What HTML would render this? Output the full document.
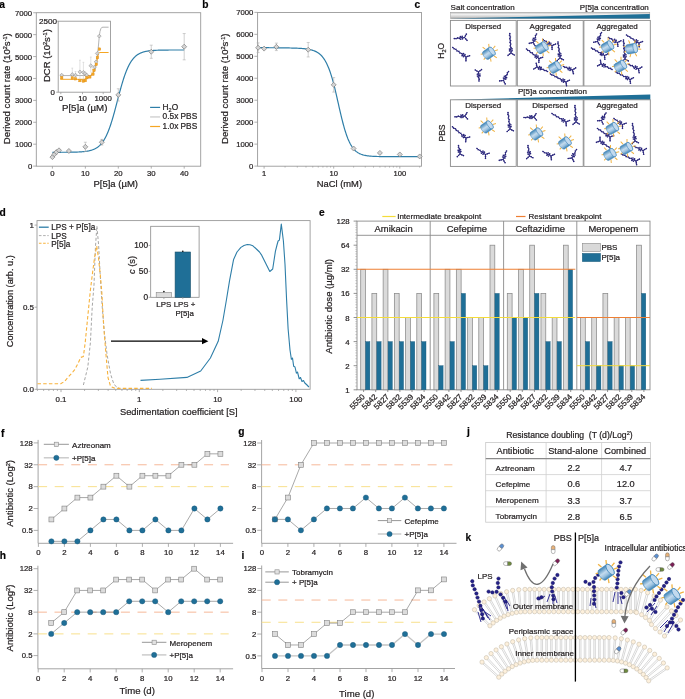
<!DOCTYPE html>
<html><head><meta charset="utf-8"><style>
html,body{margin:0;padding:0;background:#fff;}
svg{display:block;will-change:transform;}
text{font-family:"Liberation Sans",sans-serif;stroke:#231f20;stroke-width:0.22px;}
</style></head><body>
<svg width="685" height="699" viewBox="0 0 685 699">
<defs>
<linearGradient id="cg" x1="0" y1="0" x2="0" y2="1"><stop offset="0" stop-color="#3b82b6"/><stop offset="0.45" stop-color="#c4dbee"/><stop offset="0.7" stop-color="#9cc2e0"/><stop offset="1" stop-color="#3b82b6"/></linearGradient>
<linearGradient id="gg" x1="0" y1="0" x2="0" y2="1"><stop offset="0" stop-color="#b8b8b8"/><stop offset="0.3" stop-color="#f2f2f2"/><stop offset="0.7" stop-color="#d0d0d0"/><stop offset="1" stop-color="#a0a0a0"/></linearGradient>
</defs>
<rect width="685" height="699" fill="#fff"/>
<text x="-0.7" y="7.6" font-size="10.2" text-anchor="start" font-weight="bold" fill="#000" stroke="#000" stroke-width="0.15">a</text>
<rect x="36.3" y="12.7" width="164.4" height="153.5" fill="none" stroke="#9a9a9a" stroke-width="0.9"/>
<line x1="33.2" y1="166.1" x2="36.3" y2="166.1" stroke="#9a9a9a" stroke-width="0.8"/>
<text x="32.2" y="169.1" font-size="7.75" text-anchor="end" fill="#231f20">0</text>
<line x1="33.2" y1="144.19" x2="36.3" y2="144.19" stroke="#9a9a9a" stroke-width="0.8"/>
<text x="32.2" y="147.19" font-size="7.75" text-anchor="end" fill="#231f20">1000</text>
<line x1="33.2" y1="122.28" x2="36.3" y2="122.28" stroke="#9a9a9a" stroke-width="0.8"/>
<text x="32.2" y="125.28" font-size="7.75" text-anchor="end" fill="#231f20">2000</text>
<line x1="33.2" y1="100.37" x2="36.3" y2="100.37" stroke="#9a9a9a" stroke-width="0.8"/>
<text x="32.2" y="103.37" font-size="7.75" text-anchor="end" fill="#231f20">3000</text>
<line x1="33.2" y1="78.46" x2="36.3" y2="78.46" stroke="#9a9a9a" stroke-width="0.8"/>
<text x="32.2" y="81.46" font-size="7.75" text-anchor="end" fill="#231f20">4000</text>
<line x1="33.2" y1="56.55" x2="36.3" y2="56.55" stroke="#9a9a9a" stroke-width="0.8"/>
<text x="32.2" y="59.55" font-size="7.75" text-anchor="end" fill="#231f20">5000</text>
<line x1="33.2" y1="34.64" x2="36.3" y2="34.64" stroke="#9a9a9a" stroke-width="0.8"/>
<text x="32.2" y="37.64" font-size="7.75" text-anchor="end" fill="#231f20">6000</text>
<line x1="33.2" y1="12.73" x2="36.3" y2="12.73" stroke="#9a9a9a" stroke-width="0.8"/>
<text x="32.2" y="15.73" font-size="7.75" text-anchor="end" fill="#231f20">7000</text>
<line x1="52.4" y1="166.2" x2="52.4" y2="168.6" stroke="#9a9a9a" stroke-width="0.8"/>
<text x="52.4" y="176.3" font-size="7.75" text-anchor="middle" fill="#231f20">0</text>
<line x1="85.35" y1="166.2" x2="85.35" y2="168.6" stroke="#9a9a9a" stroke-width="0.8"/>
<text x="85.35" y="176.3" font-size="7.75" text-anchor="middle" fill="#231f20">10</text>
<line x1="118.3" y1="166.2" x2="118.3" y2="168.6" stroke="#9a9a9a" stroke-width="0.8"/>
<text x="118.3" y="176.3" font-size="7.75" text-anchor="middle" fill="#231f20">20</text>
<line x1="151.25" y1="166.2" x2="151.25" y2="168.6" stroke="#9a9a9a" stroke-width="0.8"/>
<text x="151.25" y="176.3" font-size="7.75" text-anchor="middle" fill="#231f20">30</text>
<line x1="184.2" y1="166.2" x2="184.2" y2="168.6" stroke="#9a9a9a" stroke-width="0.8"/>
<text x="184.2" y="176.3" font-size="7.75" text-anchor="middle" fill="#231f20">40</text>
<text x="115.7" y="187.2" font-size="9.5" text-anchor="middle" fill="#231f20">P[5]a (µM)</text>
<text x="10.2" y="88.7" font-size="9.6" text-anchor="middle" transform="rotate(-90 10.2 88.7)" fill="#231f20">Derived count rate (10<tspan font-size="5.5" dy="-3">2</tspan><tspan dy="3">s</tspan><tspan font-size="5.5" dy="-3">-1</tspan><tspan dy="3">)</tspan></text>
<polyline points="52.4,152.29 52.73,152.29 53.06,152.29 53.39,152.29 53.72,152.29 54.05,152.29 54.38,152.29 54.71,152.29 55.04,152.29 55.37,152.29 55.7,152.29 56.02,152.29 56.35,152.29 56.68,152.28 57.01,152.28 57.34,152.28 57.67,152.28 58,152.28 58.33,152.28 58.66,152.28 58.99,152.28 59.32,152.28 59.65,152.28 59.98,152.28 60.31,152.28 60.64,152.28 60.97,152.27 61.3,152.27 61.63,152.27 61.96,152.27 62.28,152.27 62.61,152.27 62.94,152.27 63.27,152.26 63.6,152.26 63.93,152.26 64.26,152.26 64.59,152.26 64.92,152.26 65.25,152.25 65.58,152.25 65.91,152.25 66.24,152.25 66.57,152.24 66.9,152.24 67.23,152.24 67.56,152.24 67.89,152.23 68.22,152.23 68.55,152.23 68.88,152.22 69.2,152.22 69.53,152.22 69.86,152.21 70.19,152.21 70.52,152.2 70.85,152.2 71.18,152.19 71.51,152.19 71.84,152.18 72.17,152.18 72.5,152.17 72.83,152.16 73.16,152.16 73.49,152.15 73.82,152.14 74.15,152.14 74.48,152.13 74.81,152.12 75.14,152.11 75.47,152.1 75.79,152.09 76.12,152.08 76.45,152.07 76.78,152.06 77.11,152.05 77.44,152.03 77.77,152.02 78.1,152.01 78.43,151.99 78.76,151.98 79.09,151.96 79.42,151.94 79.75,151.93 80.08,151.91 80.41,151.89 80.74,151.87 81.07,151.85 81.4,151.82 81.73,151.8 82.06,151.77 82.38,151.75 82.71,151.72 83.04,151.69 83.37,151.66 83.7,151.63 84.03,151.59 84.36,151.56 84.69,151.52 85.02,151.48 85.35,151.44 85.68,151.4 86.01,151.36 86.34,151.31 86.67,151.26 87,151.21 87.33,151.15 87.66,151.1 87.99,151.04 88.32,150.97 88.64,150.91 88.97,150.84 89.3,150.77 89.63,150.69 89.96,150.61 90.29,150.53 90.62,150.44 90.95,150.35 91.28,150.25 91.61,150.15 91.94,150.04 92.27,149.93 92.6,149.81 92.93,149.69 93.26,149.56 93.59,149.43 93.92,149.29 94.25,149.14 94.58,148.99 94.91,148.83 95.23,148.66 95.56,148.48 95.89,148.3 96.22,148.1 96.55,147.9 96.88,147.69 97.21,147.47 97.54,147.24 97.87,146.99 98.2,146.74 98.53,146.47 98.86,146.2 99.19,145.91 99.52,145.61 99.85,145.29 100.18,144.97 100.51,144.62 100.84,144.27 101.17,143.89 101.5,143.51 101.82,143.1 102.15,142.68 102.48,142.24 102.81,141.79 103.14,141.31 103.47,140.82 103.8,140.31 104.13,139.78 104.46,139.23 104.79,138.66 105.12,138.06 105.45,137.45 105.78,136.81 106.11,136.15 106.44,135.47 106.77,134.77 107.1,134.04 107.43,133.29 107.76,132.52 108.09,131.72 108.41,130.9 108.74,130.05 109.07,129.18 109.4,128.29 109.73,127.37 110.06,126.43 110.39,125.47 110.72,124.48 111.05,123.47 111.38,122.44 111.71,121.39 112.04,120.32 112.37,119.22 112.7,118.11 113.03,116.98 113.36,115.83 113.69,114.67 114.02,113.49 114.35,112.3 114.68,111.09 115,109.87 115.33,108.64 115.66,107.41 115.99,106.16 116.32,104.91 116.65,103.66 116.98,102.4 117.31,101.14 117.64,99.88 117.97,98.62 118.3,97.36 118.63,96.11 118.96,94.87 119.29,93.63 119.62,92.4 119.95,91.18 120.28,89.98 120.61,88.78 120.94,87.61 121.27,86.44 121.59,85.29 121.92,84.16 122.25,83.05 122.58,81.96 122.91,80.89 123.24,79.83 123.57,78.8 123.9,77.79 124.23,76.81 124.56,75.84 124.89,74.9 125.22,73.99 125.55,73.09 125.88,72.22 126.21,71.38 126.54,70.56 126.87,69.76 127.2,68.98 127.53,68.23 127.86,67.51 128.19,66.8 128.51,66.12 128.84,65.46 129.17,64.83 129.5,64.21 129.83,63.62 130.16,63.05 130.49,62.49 130.82,61.96 131.15,61.45 131.48,60.96 131.81,60.49 132.14,60.03 132.47,59.59 132.8,59.17 133.13,58.77 133.46,58.38 133.79,58.01 134.12,57.65 134.45,57.31 134.78,56.98 135.1,56.67 135.43,56.36 135.76,56.08 136.09,55.8 136.42,55.53 136.75,55.28 137.08,55.04 137.41,54.81 137.74,54.59 138.07,54.37 138.4,54.17 138.73,53.98 139.06,53.79 139.39,53.61 139.72,53.45 140.05,53.28 140.38,53.13 140.71,52.98 141.04,52.84 141.37,52.71 141.69,52.58 142.02,52.46 142.35,52.34 142.68,52.23 143.01,52.12 143.34,52.02 143.67,51.93 144,51.84 144.33,51.75 144.66,51.66 144.99,51.58 145.32,51.51 145.65,51.44 145.98,51.37 146.31,51.3 146.64,51.24 146.97,51.18 147.3,51.12 147.63,51.07 147.95,51.01 148.28,50.96 148.61,50.92 148.94,50.87 149.27,50.83 149.6,50.79 149.93,50.75 150.26,50.71 150.59,50.68 150.92,50.65 151.25,50.61 151.58,50.58 151.91,50.55 152.24,50.53 152.57,50.5 152.9,50.48 153.23,50.45 153.56,50.43 153.89,50.41 154.22,50.39 154.54,50.37 154.87,50.35 155.2,50.33 155.53,50.31 155.86,50.3 156.19,50.28 156.52,50.27 156.85,50.25 157.18,50.24 157.51,50.23 157.84,50.22 158.17,50.2 158.5,50.19 158.83,50.18 159.16,50.17 159.49,50.16 159.82,50.15 160.15,50.15 160.48,50.14 160.81,50.13 161.13,50.12 161.46,50.12 161.79,50.11 162.12,50.1 162.45,50.1 162.78,50.09 163.11,50.09 163.44,50.08 163.77,50.08 164.1,50.07 164.43,50.07 164.76,50.06 165.09,50.06 165.42,50.05 165.75,50.05 166.08,50.05 166.41,50.04 166.74,50.04 167.07,50.04 167.4,50.03 167.72,50.03 168.05,50.03 168.38,50.03 168.71,50.02 169.04,50.02 169.37,50.02 169.7,50.02 170.03,50.02 170.36,50.01 170.69,50.01 171.02,50.01 171.35,50.01 171.68,50.01 172.01,50.01 172.34,50 172.67,50 173,50 173.33,50 173.66,50 173.99,50 174.31,50 174.64,50 174.97,50 175.3,49.99 175.63,49.99 175.96,49.99 176.29,49.99 176.62,49.99 176.95,49.99 177.28,49.99 177.61,49.99 177.94,49.99 178.27,49.99 178.6,49.99 178.93,49.99 179.26,49.99 179.59,49.99 179.92,49.99 180.25,49.99 180.58,49.98 180.91,49.98 181.23,49.98 181.56,49.98 181.89,49.98 182.22,49.98 182.55,49.98 182.88,49.98 183.21,49.98 183.54,49.98 183.87,49.98 184.2,49.98" fill="none" stroke="#2e7ea8" stroke-width="1.2" stroke-linejoin="round"/>
<line x1="85.35" y1="151.42" x2="85.35" y2="142.22" stroke="#b0b0b0" stroke-width="0.6"/>
<line x1="83.85" y1="142.22" x2="86.85" y2="142.22" stroke="#b0b0b0" stroke-width="0.6"/>
<line x1="83.85" y1="151.42" x2="86.85" y2="151.42" stroke="#b0b0b0" stroke-width="0.6"/>
<line x1="101.82" y1="145.07" x2="101.82" y2="139.37" stroke="#b0b0b0" stroke-width="0.6"/>
<line x1="100.32" y1="139.37" x2="103.32" y2="139.37" stroke="#b0b0b0" stroke-width="0.6"/>
<line x1="100.32" y1="145.07" x2="103.32" y2="145.07" stroke="#b0b0b0" stroke-width="0.6"/>
<line x1="118.3" y1="101.03" x2="118.3" y2="88.76" stroke="#b0b0b0" stroke-width="0.6"/>
<line x1="116.8" y1="88.76" x2="119.8" y2="88.76" stroke="#b0b0b0" stroke-width="0.6"/>
<line x1="116.8" y1="101.03" x2="119.8" y2="101.03" stroke="#b0b0b0" stroke-width="0.6"/>
<line x1="151.25" y1="58.3" x2="151.25" y2="45.16" stroke="#b0b0b0" stroke-width="0.6"/>
<line x1="149.75" y1="45.16" x2="152.75" y2="45.16" stroke="#b0b0b0" stroke-width="0.6"/>
<line x1="149.75" y1="58.3" x2="152.75" y2="58.3" stroke="#b0b0b0" stroke-width="0.6"/>
<line x1="184.2" y1="59.84" x2="184.2" y2="33.54" stroke="#b0b0b0" stroke-width="0.6"/>
<line x1="182.7" y1="33.54" x2="185.7" y2="33.54" stroke="#b0b0b0" stroke-width="0.6"/>
<line x1="182.7" y1="59.84" x2="185.7" y2="59.84" stroke="#b0b0b0" stroke-width="0.6"/>
<path d="M52.4 154.62L54.9 157.12L52.4 159.62L49.9 157.12Z" fill="#d4d4d4" stroke="#6e6e6e" stroke-width="0.6"/>
<path d="M54.38 151.77L56.88 154.27L54.38 156.77L51.88 154.27Z" fill="#d4d4d4" stroke="#6e6e6e" stroke-width="0.6"/>
<path d="M56.35 149.58L58.85 152.08L56.35 154.58L53.85 152.08Z" fill="#d4d4d4" stroke="#6e6e6e" stroke-width="0.6"/>
<path d="M58.99 147.82L61.49 150.32L58.99 152.82L56.49 150.32Z" fill="#d4d4d4" stroke="#6e6e6e" stroke-width="0.6"/>
<path d="M68.88 148.48L71.38 150.98L68.88 153.48L66.38 150.98Z" fill="#d4d4d4" stroke="#6e6e6e" stroke-width="0.6"/>
<path d="M85.35 144.32L87.85 146.82L85.35 149.32L82.85 146.82Z" fill="#d4d4d4" stroke="#6e6e6e" stroke-width="0.6"/>
<path d="M101.82 139.72L104.32 142.22L101.82 144.72L99.32 142.22Z" fill="#d4d4d4" stroke="#6e6e6e" stroke-width="0.6"/>
<path d="M118.3 92.39L120.8 94.89L118.3 97.39L115.8 94.89Z" fill="#d4d4d4" stroke="#6e6e6e" stroke-width="0.6"/>
<path d="M151.25 49.23L153.75 51.73L151.25 54.23L148.75 51.73Z" fill="#d4d4d4" stroke="#6e6e6e" stroke-width="0.6"/>
<path d="M184.2 44.19L186.7 46.69L184.2 49.19L181.7 46.69Z" fill="#d4d4d4" stroke="#6e6e6e" stroke-width="0.6"/>
<line x1="150.1" y1="107.4" x2="160.1" y2="107.4" stroke="#2e7ea8" stroke-width="1.2"/>
<text x="162.6" y="109.9" font-size="8.3" text-anchor="start" fill="#231f20">H<tspan font-size="5.5" dy="2">2</tspan><tspan dy="-2">O</tspan></text>
<line x1="150.1" y1="116.95" x2="160.1" y2="116.95" stroke="#c8c8c8" stroke-width="1.2"/>
<text x="162.6" y="119.45" font-size="8.3" text-anchor="start" fill="#231f20">0.5x PBS</text>
<line x1="150.1" y1="126.5" x2="160.1" y2="126.5" stroke="#f5a623" stroke-width="1.2"/>
<text x="162.6" y="129" font-size="8.3" text-anchor="start" fill="#231f20">1.0x PBS</text>
<rect x="58.2" y="21.2" width="52.3" height="71" fill="#fff" stroke="#9a9a9a" stroke-width="0.9"/>
<line x1="57.2" y1="21.2" x2="58.2" y2="21.2" stroke="#9a9a9a" stroke-width="0.8"/>
<line x1="56.2" y1="92.2" x2="58.2" y2="92.2" stroke="#9a9a9a" stroke-width="0.8"/>
<text x="57" y="24.3" font-size="8.1" text-anchor="end" fill="#231f20">2500</text>
<text x="55" y="95.2" font-size="7.9" text-anchor="end" fill="#231f20">0</text>
<line x1="60.8" y1="92.2" x2="60.8" y2="94.2" stroke="#9a9a9a" stroke-width="0.8"/>
<text x="60.8" y="100.5" font-size="7.8" text-anchor="middle" fill="#231f20">0</text>
<line x1="82.5" y1="92.2" x2="82.5" y2="94.2" stroke="#9a9a9a" stroke-width="0.8"/>
<text x="82.5" y="100.5" font-size="7.8" text-anchor="middle" fill="#231f20">10</text>
<line x1="103.2" y1="92.2" x2="103.2" y2="94.2" stroke="#9a9a9a" stroke-width="0.8"/>
<text x="103.2" y="100.5" font-size="7.8" text-anchor="middle" fill="#231f20">1000</text>
<text x="84.65" y="110.5" font-size="9.7" text-anchor="middle" fill="#231f20">P[5]a (µM)</text>
<text x="49.9" y="55.6" font-size="9.5" text-anchor="middle" transform="rotate(-90 49.9 55.6)" fill="#231f20">DCR (10<tspan font-size="5.5" dy="-3">2</tspan><tspan dy="3">s</tspan><tspan font-size="5.5" dy="-3">-1</tspan><tspan dy="3">)</tspan></text>
<polyline points="60.3,75.6 90,75.5 92.5,74.5 94.5,71 96.3,64 97.6,54 98.6,44 99.3,36.1 100,31.5 100.8,28.8 101.8,27.4 103,27.2 108.6,27.2" fill="none" stroke="#aaaaaa" stroke-width="0.9" stroke-linejoin="round"/>
<polyline points="60.3,79.3 84,79.3 87,78.6 90,76.6 92.5,73.8 94.5,69.5 96.3,64 97.6,57.5 98.6,53.5 99.4,52.5 108.6,52.5" fill="none" stroke="#f5a623" stroke-width="1" stroke-linejoin="round"/>
<line x1="72.3" y1="68.1" x2="72.3" y2="79.62" stroke="#c4c4c4" stroke-width="0.5"/>
<line x1="71.4" y1="68.1" x2="73.2" y2="68.1" stroke="#c4c4c4" stroke-width="0.5"/>
<line x1="75.5" y1="71.6" x2="75.5" y2="77.9" stroke="#c4c4c4" stroke-width="0.5"/>
<line x1="74.6" y1="71.6" x2="76.4" y2="71.6" stroke="#c4c4c4" stroke-width="0.5"/>
<line x1="79.9" y1="60.2" x2="79.9" y2="81.26" stroke="#c4c4c4" stroke-width="0.5"/>
<line x1="79" y1="60.2" x2="80.8" y2="60.2" stroke="#c4c4c4" stroke-width="0.5"/>
<line x1="83.4" y1="62.3" x2="83.4" y2="80.48" stroke="#c4c4c4" stroke-width="0.5"/>
<line x1="82.5" y1="62.3" x2="84.3" y2="62.3" stroke="#c4c4c4" stroke-width="0.5"/>
<line x1="90.8" y1="57" x2="90.8" y2="72.66" stroke="#c4c4c4" stroke-width="0.5"/>
<line x1="89.9" y1="57" x2="91.7" y2="57" stroke="#c4c4c4" stroke-width="0.5"/>
<path d="M61.7 73.2L63.6 75.1L61.7 77L59.8 75.1Z" fill="#d6d6d6" stroke="#7a7a7a" stroke-width="0.45"/>
<path d="M72.3 72.6L74.2 74.5L72.3 76.4L70.4 74.5Z" fill="#d6d6d6" stroke="#7a7a7a" stroke-width="0.45"/>
<path d="M75.5 73.2L77.4 75.1L75.5 77L73.6 75.1Z" fill="#d6d6d6" stroke="#7a7a7a" stroke-width="0.45"/>
<path d="M79.9 70L81.8 71.9L79.9 73.8L78 71.9Z" fill="#d6d6d6" stroke="#7a7a7a" stroke-width="0.45"/>
<path d="M83.4 70.5L85.3 72.4L83.4 74.3L81.5 72.4Z" fill="#d6d6d6" stroke="#7a7a7a" stroke-width="0.45"/>
<path d="M85 71.6L86.9 73.5L85 75.4L83.1 73.5Z" fill="#d6d6d6" stroke="#7a7a7a" stroke-width="0.45"/>
<path d="M86.6 73.2L88.5 75.1L86.6 77L84.7 75.1Z" fill="#d6d6d6" stroke="#7a7a7a" stroke-width="0.45"/>
<path d="M90.8 63.8L92.7 65.7L90.8 67.6L88.9 65.7Z" fill="#d6d6d6" stroke="#7a7a7a" stroke-width="0.45"/>
<path d="M94.5 65.2L96.4 67.1L94.5 69L92.6 67.1Z" fill="#d6d6d6" stroke="#7a7a7a" stroke-width="0.45"/>
<path d="M96.1 59.9L98 61.8L96.1 63.7L94.2 61.8Z" fill="#d6d6d6" stroke="#7a7a7a" stroke-width="0.45"/>
<path d="M97.2 51.5L99.1 53.4L97.2 55.3L95.3 53.4Z" fill="#d6d6d6" stroke="#7a7a7a" stroke-width="0.45"/>
<path d="M99.3 34.2L101.2 36.1L99.3 38L97.4 36.1Z" fill="#d6d6d6" stroke="#7a7a7a" stroke-width="0.45"/>
<rect x="60.45" y="76.45" width="2.5" height="2.5" fill="#f5a623" stroke="#d98c1a" stroke-width="0.35"/>
<rect x="71.05" y="76.75" width="2.5" height="2.5" fill="#f5a623" stroke="#d98c1a" stroke-width="0.35"/>
<rect x="74.25" y="77.55" width="2.5" height="2.5" fill="#f5a623" stroke="#d98c1a" stroke-width="0.35"/>
<rect x="78.65" y="79.35" width="2.5" height="2.5" fill="#f5a623" stroke="#d98c1a" stroke-width="0.35"/>
<rect x="82.15" y="79.85" width="2.5" height="2.5" fill="#f5a623" stroke="#d98c1a" stroke-width="0.35"/>
<rect x="84.05" y="79.35" width="2.5" height="2.5" fill="#f5a623" stroke="#d98c1a" stroke-width="0.35"/>
<rect x="85.55" y="76.45" width="2.5" height="2.5" fill="#f5a623" stroke="#d98c1a" stroke-width="0.35"/>
<rect x="88.55" y="75.65" width="2.5" height="2.5" fill="#f5a623" stroke="#d98c1a" stroke-width="0.35"/>
<rect x="91.65" y="72.95" width="2.5" height="2.5" fill="#f5a623" stroke="#d98c1a" stroke-width="0.35"/>
<rect x="92.75" y="69.05" width="2.5" height="2.5" fill="#f5a623" stroke="#d98c1a" stroke-width="0.35"/>
<rect x="95.05" y="63.05" width="2.5" height="2.5" fill="#f5a623" stroke="#d98c1a" stroke-width="0.35"/>
<rect x="96.15" y="56.35" width="2.5" height="2.5" fill="#f5a623" stroke="#d98c1a" stroke-width="0.35"/>
<rect x="98.25" y="47.85" width="2.5" height="2.5" fill="#f5a623" stroke="#d98c1a" stroke-width="0.35"/>
<text x="202.2" y="7.6" font-size="10.2" text-anchor="start" font-weight="bold" fill="#000" stroke="#000" stroke-width="0.15">b</text>
<rect x="257.6" y="12.5" width="163.9" height="153.7" fill="none" stroke="#9a9a9a" stroke-width="0.9"/>
<line x1="254.4" y1="166.1" x2="257.6" y2="166.1" stroke="#9a9a9a" stroke-width="0.8"/>
<text x="253.4" y="169.1" font-size="7.75" text-anchor="end" fill="#231f20">0</text>
<line x1="254.4" y1="144.14" x2="257.6" y2="144.14" stroke="#9a9a9a" stroke-width="0.8"/>
<text x="253.4" y="147.14" font-size="7.75" text-anchor="end" fill="#231f20">1000</text>
<line x1="254.4" y1="122.18" x2="257.6" y2="122.18" stroke="#9a9a9a" stroke-width="0.8"/>
<text x="253.4" y="125.18" font-size="7.75" text-anchor="end" fill="#231f20">2000</text>
<line x1="254.4" y1="100.22" x2="257.6" y2="100.22" stroke="#9a9a9a" stroke-width="0.8"/>
<text x="253.4" y="103.22" font-size="7.75" text-anchor="end" fill="#231f20">3000</text>
<line x1="254.4" y1="78.26" x2="257.6" y2="78.26" stroke="#9a9a9a" stroke-width="0.8"/>
<text x="253.4" y="81.26" font-size="7.75" text-anchor="end" fill="#231f20">4000</text>
<line x1="254.4" y1="56.3" x2="257.6" y2="56.3" stroke="#9a9a9a" stroke-width="0.8"/>
<text x="253.4" y="59.3" font-size="7.75" text-anchor="end" fill="#231f20">5000</text>
<line x1="254.4" y1="34.34" x2="257.6" y2="34.34" stroke="#9a9a9a" stroke-width="0.8"/>
<text x="253.4" y="37.34" font-size="7.75" text-anchor="end" fill="#231f20">6000</text>
<line x1="254.4" y1="12.38" x2="257.6" y2="12.38" stroke="#9a9a9a" stroke-width="0.8"/>
<text x="253.4" y="15.38" font-size="7.75" text-anchor="end" fill="#231f20">7000</text>
<line x1="264.1" y1="166.2" x2="264.1" y2="168.6" stroke="#9a9a9a" stroke-width="0.8"/>
<line x1="285.05" y1="166.2" x2="285.05" y2="167.5" stroke="#9a9a9a" stroke-width="0.8"/>
<line x1="297.31" y1="166.2" x2="297.31" y2="167.5" stroke="#9a9a9a" stroke-width="0.8"/>
<line x1="306" y1="166.2" x2="306" y2="167.5" stroke="#9a9a9a" stroke-width="0.8"/>
<line x1="312.75" y1="166.2" x2="312.75" y2="167.5" stroke="#9a9a9a" stroke-width="0.8"/>
<line x1="318.26" y1="166.2" x2="318.26" y2="167.5" stroke="#9a9a9a" stroke-width="0.8"/>
<line x1="322.92" y1="166.2" x2="322.92" y2="167.5" stroke="#9a9a9a" stroke-width="0.8"/>
<line x1="326.96" y1="166.2" x2="326.96" y2="167.5" stroke="#9a9a9a" stroke-width="0.8"/>
<line x1="330.52" y1="166.2" x2="330.52" y2="167.5" stroke="#9a9a9a" stroke-width="0.8"/>
<line x1="333.7" y1="166.2" x2="333.7" y2="168.6" stroke="#9a9a9a" stroke-width="0.8"/>
<line x1="353.6" y1="166.2" x2="353.6" y2="167.5" stroke="#9a9a9a" stroke-width="0.8"/>
<line x1="365.24" y1="166.2" x2="365.24" y2="167.5" stroke="#9a9a9a" stroke-width="0.8"/>
<line x1="373.5" y1="166.2" x2="373.5" y2="167.5" stroke="#9a9a9a" stroke-width="0.8"/>
<line x1="379.9" y1="166.2" x2="379.9" y2="167.5" stroke="#9a9a9a" stroke-width="0.8"/>
<line x1="385.14" y1="166.2" x2="385.14" y2="167.5" stroke="#9a9a9a" stroke-width="0.8"/>
<line x1="389.56" y1="166.2" x2="389.56" y2="167.5" stroke="#9a9a9a" stroke-width="0.8"/>
<line x1="393.39" y1="166.2" x2="393.39" y2="167.5" stroke="#9a9a9a" stroke-width="0.8"/>
<line x1="396.78" y1="166.2" x2="396.78" y2="167.5" stroke="#9a9a9a" stroke-width="0.8"/>
<line x1="399.8" y1="166.2" x2="399.8" y2="168.6" stroke="#9a9a9a" stroke-width="0.8"/>
<line x1="419.7" y1="166.2" x2="419.7" y2="167.5" stroke="#9a9a9a" stroke-width="0.8"/>
<text x="264.1" y="176.3" font-size="7.6" text-anchor="middle" fill="#231f20">1</text>
<text x="333.7" y="176.3" font-size="7.6" text-anchor="middle" fill="#231f20">10</text>
<text x="399.8" y="176.3" font-size="7.6" text-anchor="middle" fill="#231f20">100</text>
<text x="339.4" y="187.3" font-size="9.4" text-anchor="middle" fill="#231f20">NaCl (mM)</text>
<text x="227.7" y="88.8" font-size="9.55" text-anchor="middle" transform="rotate(-90 227.7 88.8)" fill="#231f20">Derived count rate (10<tspan font-size="5.5" dy="-3">2</tspan><tspan dy="3">s</tspan><tspan font-size="5.5" dy="-3">-1</tspan><tspan dy="3">)</tspan></text>
<polyline points="257.73,47.66 258.29,47.66 258.84,47.66 259.4,47.67 259.95,47.67 260.51,47.67 261.06,47.68 261.62,47.68 262.17,47.68 262.73,47.68 263.28,47.69 263.84,47.69 264.39,47.69 264.95,47.7 265.5,47.7 266.06,47.7 266.61,47.71 267.17,47.71 267.72,47.72 268.28,47.72 268.83,47.72 269.39,47.73 269.94,47.73 270.5,47.74 271.05,47.74 271.61,47.74 272.16,47.75 272.72,47.75 273.27,47.76 273.83,47.76 274.38,47.77 274.94,47.77 275.49,47.78 276.05,47.78 276.6,47.79 277.16,47.79 277.71,47.8 278.27,47.81 278.82,47.81 279.38,47.82 279.93,47.82 280.49,47.83 281.04,47.84 281.6,47.84 282.15,47.85 282.71,47.86 283.26,47.87 283.82,47.88 284.37,47.88 284.93,47.89 285.48,47.9 286.04,47.91 286.59,47.92 287.15,47.93 287.7,47.94 288.26,47.95 288.81,47.96 289.37,47.97 289.92,47.99 290.48,48 291.03,48.01 291.59,48.03 292.14,48.04 292.7,48.06 293.26,48.07 293.81,48.09 294.37,48.11 294.92,48.13 295.48,48.15 296.03,48.17 296.59,48.19 297.14,48.21 297.7,48.24 298.25,48.27 298.81,48.3 299.36,48.33 299.92,48.36 300.47,48.39 301.03,48.43 301.58,48.47 302.14,48.51 302.69,48.56 303.25,48.61 303.8,48.66 304.36,48.72 304.91,48.78 305.47,48.84 306.02,48.91 306.58,48.99 307.13,49.07 307.69,49.16 308.24,49.25 308.8,49.35 309.35,49.46 309.91,49.58 310.46,49.71 311.02,49.85 311.57,50 312.13,50.16 312.68,50.33 313.24,50.51 313.79,50.7 314.35,50.9 314.9,51.12 315.46,51.36 316.01,51.62 316.57,51.9 317.12,52.21 317.68,52.54 318.23,52.9 318.79,53.29 319.34,53.71 319.9,54.17 320.45,54.66 321.01,55.2 321.56,55.77 322.12,56.39 322.67,57.05 323.23,57.77 323.78,58.54 324.34,59.36 324.89,60.25 325.45,61.2 326,62.21 326.56,63.28 327.11,64.43 327.67,65.65 328.22,66.95 328.78,68.32 329.33,69.77 329.89,71.29 330.44,72.9 331,74.58 331.55,76.34 332.11,78.17 332.67,80.08 333.22,82.06 333.77,84.1 334.3,86.2 334.83,88.36 335.35,90.57 335.88,92.82 336.41,95.11 336.93,97.42 337.46,99.76 337.99,102.1 338.52,104.45 339.04,106.78 339.57,109.11 340.1,111.4 340.62,113.67 341.15,115.89 341.68,118.07 342.21,120.2 342.73,122.26 343.26,124.26 343.79,126.2 344.31,128.06 344.84,129.84 345.37,131.55 345.9,133.19 346.42,134.74 346.95,136.22 347.48,137.62 348,138.94 348.53,140.18 349.06,141.36 349.59,142.46 350.11,143.5 350.64,144.47 351.17,145.37 351.69,146.22 352.22,147.01 352.75,147.74 353.28,148.43 353.8,149.06 354.33,149.65 354.86,150.2 355.38,150.71 355.91,151.18 356.44,151.61 356.97,152.01 357.49,152.38 358.02,152.72 358.55,153.04 359.07,153.33 359.6,153.6 360.13,153.85 360.66,154.07 361.18,154.28 361.71,154.48 362.24,154.65 362.77,154.82 363.29,154.97 363.82,155.11 364.35,155.23 364.87,155.35 365.4,155.46 365.93,155.56 366.46,155.65 366.98,155.73 367.51,155.81 368.04,155.88 368.56,155.94 369.09,156 369.62,156.05 370.15,156.1 370.67,156.15 371.2,156.19 371.73,156.23 372.25,156.27 372.78,156.3 373.31,156.33 373.84,156.35 374.36,156.38 374.89,156.4 375.42,156.42 375.94,156.44 376.47,156.46 377,156.48 377.53,156.49 378.05,156.51 378.58,156.52 379.11,156.53 379.63,156.54 380.16,156.55 380.69,156.56 381.22,156.57 381.74,156.57 382.27,156.58 382.8,156.59 383.32,156.59 383.85,156.6 384.38,156.6 384.91,156.61 385.43,156.61 385.96,156.62 386.49,156.62 387.01,156.62 387.54,156.63 388.07,156.63 388.6,156.63 389.12,156.63 389.65,156.63 390.18,156.64 390.7,156.64 391.23,156.64 391.76,156.64 392.29,156.64 392.81,156.64 393.34,156.64 393.87,156.65 394.39,156.65 394.92,156.65 395.45,156.65 395.98,156.65 396.5,156.65 397.03,156.65 397.56,156.65 398.08,156.65 398.61,156.65 399.14,156.65 399.67,156.65 400.19,156.65 400.72,156.65 401.25,156.65 401.77,156.65 402.3,156.65 402.83,156.65 403.36,156.65 403.88,156.66 404.41,156.66 404.94,156.66 405.46,156.66 405.99,156.66 406.52,156.66 407.05,156.66 407.57,156.66 408.1,156.66 408.63,156.66 409.15,156.66 409.68,156.66 410.21,156.66 410.74,156.66 411.26,156.66 411.79,156.66 412.32,156.66 412.85,156.66 413.37,156.66 413.9,156.66 414.43,156.66 414.95,156.66 415.48,156.66 416.01,156.66 416.54,156.66 417.06,156.66 417.59,156.66 418.12,156.66 418.64,156.66 419.17,156.66 419.7,156.66" fill="none" stroke="#2e7ea8" stroke-width="1.2" stroke-linejoin="round"/>
<line x1="258.1" y1="52.57" x2="258.1" y2="42.9" stroke="#b0b0b0" stroke-width="0.6"/>
<line x1="256.6" y1="42.9" x2="259.6" y2="42.9" stroke="#b0b0b0" stroke-width="0.6"/>
<line x1="256.6" y1="52.57" x2="259.6" y2="52.57" stroke="#b0b0b0" stroke-width="0.6"/>
<line x1="276.36" y1="50.59" x2="276.36" y2="43.12" stroke="#b0b0b0" stroke-width="0.6"/>
<line x1="274.86" y1="43.12" x2="277.86" y2="43.12" stroke="#b0b0b0" stroke-width="0.6"/>
<line x1="274.86" y1="50.59" x2="277.86" y2="50.59" stroke="#b0b0b0" stroke-width="0.6"/>
<line x1="308.19" y1="56.96" x2="308.19" y2="42.47" stroke="#b0b0b0" stroke-width="0.6"/>
<line x1="306.69" y1="42.47" x2="309.69" y2="42.47" stroke="#b0b0b0" stroke-width="0.6"/>
<line x1="306.69" y1="56.96" x2="309.69" y2="56.96" stroke="#b0b0b0" stroke-width="0.6"/>
<line x1="333.7" y1="92.09" x2="333.7" y2="77.6" stroke="#b0b0b0" stroke-width="0.6"/>
<line x1="332.2" y1="77.6" x2="335.2" y2="77.6" stroke="#b0b0b0" stroke-width="0.6"/>
<line x1="332.2" y1="92.09" x2="335.2" y2="92.09" stroke="#b0b0b0" stroke-width="0.6"/>
<path d="M258.1 45.24L260.6 47.74L258.1 50.24L255.6 47.74Z" fill="#d4d4d4" stroke="#6e6e6e" stroke-width="0.6"/>
<path d="M264.1 46.11L266.6 48.61L264.1 51.11L261.6 48.61Z" fill="#d4d4d4" stroke="#6e6e6e" stroke-width="0.6"/>
<path d="M276.36 44.36L278.86 46.86L276.36 49.36L273.86 46.86Z" fill="#d4d4d4" stroke="#6e6e6e" stroke-width="0.6"/>
<path d="M308.19 47.21L310.69 49.71L308.19 52.21L305.69 49.71Z" fill="#d4d4d4" stroke="#6e6e6e" stroke-width="0.6"/>
<path d="M333.7 82.35L336.2 84.85L333.7 87.35L331.2 84.85Z" fill="#d4d4d4" stroke="#6e6e6e" stroke-width="0.6"/>
<path d="M353.6 146.03L356.1 148.53L353.6 151.03L351.1 148.53Z" fill="#d4d4d4" stroke="#6e6e6e" stroke-width="0.6"/>
<path d="M379.9 150.42L382.4 152.92L379.9 155.42L377.4 152.92Z" fill="#d4d4d4" stroke="#6e6e6e" stroke-width="0.6"/>
<path d="M399.8 151.96L402.3 154.46L399.8 156.96L397.3 154.46Z" fill="#d4d4d4" stroke="#6e6e6e" stroke-width="0.6"/>
<path d="M419.7 153.94L422.2 156.44L419.7 158.94L417.2 156.44Z" fill="#d4d4d4" stroke="#6e6e6e" stroke-width="0.6"/>
<text x="414.6" y="7.6" font-size="10.2" text-anchor="start" font-weight="bold" fill="#000" stroke="#000" stroke-width="0.15">c</text>
<rect x="450.6" y="12.4" width="199.2" height="6.2" fill="url(#gg)" stroke="#9a9a9a" stroke-width="0.5"/>
<polygon points="450.6,18.6 649.8,13.9 649.8,18.6" fill="#1f6f97"/>
<text x="450.6" y="10" font-size="8" text-anchor="start" fill="#231f20">Salt concentration</text>
<text x="648.8" y="10" font-size="8" text-anchor="end" fill="#231f20">P[5]a concentration</text>
<polygon points="451,99.8 650.3,94.4 650.3,99.8" fill="#1f6f97"/>
<text x="552.4" y="94" font-size="8" text-anchor="middle" fill="#231f20">P[5]a concentration</text>
<rect x="450.4" y="20.4" width="65.8" height="65.6" fill="none" stroke="#8a8a8a" stroke-width="0.9"/>
<rect x="517.3" y="20.4" width="65.9" height="65.6" fill="none" stroke="#8a8a8a" stroke-width="0.9"/>
<rect x="583.9" y="20.4" width="66.4" height="65.6" fill="none" stroke="#8a8a8a" stroke-width="0.9"/>
<rect x="450.4" y="99.8" width="65.8" height="66.6" fill="none" stroke="#8a8a8a" stroke-width="0.9"/>
<rect x="517.3" y="99.8" width="65.9" height="66.6" fill="none" stroke="#8a8a8a" stroke-width="0.9"/>
<rect x="583.9" y="99.8" width="66.4" height="66.6" fill="none" stroke="#8a8a8a" stroke-width="0.9"/>
<text x="483.3" y="28.6" font-size="8" text-anchor="middle" fill="#231f20">Dispersed</text>
<text x="550.25" y="28.6" font-size="8" text-anchor="middle" fill="#231f20">Aggregated</text>
<text x="617.1" y="28.6" font-size="8" text-anchor="middle" fill="#231f20">Aggregated</text>
<text x="483.3" y="108" font-size="8" text-anchor="middle" fill="#231f20">Dispersed</text>
<text x="550.25" y="108" font-size="8" text-anchor="middle" fill="#231f20">Dispersed</text>
<text x="617.1" y="108" font-size="8" text-anchor="middle" fill="#231f20">Aggregated</text>
<text x="444.5" y="50.8" font-size="8.5" text-anchor="middle" transform="rotate(-90 444.5 50.8)" fill="#231f20">H<tspan font-size="5.5" dy="2">2</tspan><tspan dy="-2">O</tspan></text>
<text x="444.5" y="133" font-size="8.5" text-anchor="middle" transform="rotate(-90 444.5 133)" fill="#231f20">PBS</text>
<path d="M454.3 38.6L464.5 37.5M464.5 37.5L467 40.36M464.5 37.5L466.33 34.17" stroke="#27237a" stroke-width="0.8" fill="none" stroke-linecap="round"/>
<path d="M454.3 38.6h0.01M456.04 38.76h0.01M457.66 37.89h0.01M459.44 38.4h0.01M461.06 37.52h0.01M462.84 38.03h0.01M464.5 37.5h0.01M464.5 37.5h0.01M465.75 38.93h0.01M467 40.36h0.01M464.5 37.5h0.01M465.42 35.84h0.01M466.33 34.17h0.01M462.45 39.03h0.01M462.17 36.44h0.01M460.66 39.22h0.01M460.38 36.64h0.01" stroke="#27237a" stroke-width="1.65" stroke-linecap="round" fill="none"/>
<path d="M452.8 47.5L466 57M466 57L465.95 60.8M466 57L469.59 55.75" stroke="#27237a" stroke-width="0.8" fill="none" stroke-linecap="round"/>
<path d="M452.8 47.5h0.01M454.06 48.84h0.01M455.94 49.33h0.01M457 50.95h0.01M458.87 51.44h0.01M459.93 53.06h0.01M461.8 53.55h0.01M462.86 55.17h0.01M464.74 55.66h0.01M466 57h0.01M466 57h0.01M465.98 58.9h0.01M465.95 60.8h0.01M466 57h0.01M467.79 56.37h0.01M469.59 55.75h0.01M463.45 56.77h0.01M464.97 54.66h0.01M461.99 55.72h0.01M463.51 53.61h0.01" stroke="#27237a" stroke-width="1.65" stroke-linecap="round" fill="none"/>
<path d="M479 81L478.5 72M478.5 72L481.49 69.65M478.5 72L475.27 70" stroke="#27237a" stroke-width="0.8" fill="none" stroke-linecap="round"/>
<path d="M479 81h0.01M479.25 79.18h0.01M478.45 77.42h0.01M479.05 75.58h0.01M478.25 73.82h0.01M478.5 72h0.01M478.5 72h0.01M479.99 70.83h0.01M481.49 69.65h0.01M478.5 72h0.01M476.89 71h0.01M475.27 70h0.01M479.92 74.12h0.01M477.32 74.27h0.01M480.02 75.92h0.01M477.42 76.07h0.01" stroke="#27237a" stroke-width="1.65" stroke-linecap="round" fill="none"/>
<path d="M508.5 71.5L503.5 80.5M503.5 80.5L499.72 80.89M503.5 80.5L505.16 83.92" stroke="#27237a" stroke-width="0.8" fill="none" stroke-linecap="round"/>
<path d="M508.5 71.5h0.01M507.36 72.83h0.01M507.14 74.67h0.01M505.69 75.83h0.01M505.47 77.67h0.01M504.03 78.83h0.01M503.5 80.5h0.01M503.5 80.5h0.01M501.61 80.7h0.01M499.72 80.89h0.01M503.5 80.5h0.01M504.33 82.21h0.01M505.16 83.92h0.01M503.43 77.95h0.01M505.7 79.21h0.01M504.31 76.37h0.01M506.58 77.63h0.01" stroke="#27237a" stroke-width="1.65" stroke-linecap="round" fill="none"/>
<path d="M509.8 33.5L511 53M511 53L508.03 55.37M511 53L514.24 54.98" stroke="#27237a" stroke-width="0.8" fill="none" stroke-linecap="round"/>
<path d="M509.8 33.5h0.01M509.56 35.29h0.01M510.37 37.02h0.01M509.78 38.84h0.01M510.59 40.57h0.01M510 42.39h0.01M510.8 44.11h0.01M510.21 45.93h0.01M511.02 47.66h0.01M510.43 49.48h0.01M511.24 51.21h0.01M511 53h0.01M511 53h0.01M509.51 54.18h0.01M508.03 55.37h0.01M511 53h0.01M512.62 53.99h0.01M514.24 54.98h0.01M509.57 50.88h0.01M512.16 50.72h0.01M509.46 49.09h0.01M512.05 48.93h0.01" stroke="#27237a" stroke-width="1.65" stroke-linecap="round" fill="none"/>
<path d="M536.5 34L533 42.5M533 42.5L529.29 43.33M533 42.5L535.05 45.7" stroke="#27237a" stroke-width="0.8" fill="none" stroke-linecap="round"/>
<path d="M536.5 34h0.01M535.48 35.57h0.01M535.42 37.53h0.01M534.08 38.97h0.01M534.02 40.93h0.01M533 42.5h0.01M533 42.5h0.01M531.15 42.92h0.01M529.29 43.33h0.01M533 42.5h0.01M534.02 44.1h0.01M535.05 45.7h0.01M532.64 39.97h0.01M535.04 40.96h0.01M533.32 38.31h0.01M535.73 39.3h0.01" stroke="#27237a" stroke-width="1.65" stroke-linecap="round" fill="none"/>
<path d="M543 39.5L552 45.5M552 45.5L552.09 49.3M552 45.5L555.54 44.12" stroke="#27237a" stroke-width="0.8" fill="none" stroke-linecap="round"/>
<path d="M543 39.5h0.01M544.31 40.79h0.01M546.19 41.21h0.01M547.31 42.79h0.01M549.19 43.21h0.01M550.31 44.79h0.01M552 45.5h0.01M552 45.5h0.01M552.04 47.4h0.01M552.09 49.3h0.01M552 45.5h0.01M553.77 44.81h0.01M555.54 44.12h0.01M549.45 45.36h0.01M550.89 43.2h0.01M547.95 44.36h0.01M549.39 42.2h0.01" stroke="#27237a" stroke-width="1.65" stroke-linecap="round" fill="none"/>
<path d="M526.5 49L539 58.5M539 58.5L538.85 62.3M539 58.5L542.62 57.34" stroke="#27237a" stroke-width="0.8" fill="none" stroke-linecap="round"/>
<path d="M526.5 49h0.01M527.68 50.33h0.01M529.49 50.83h0.01M530.45 52.45h0.01M532.27 52.94h0.01M533.23 54.56h0.01M535.05 55.05h0.01M536.01 56.67h0.01M537.82 57.17h0.01M539 58.5h0.01M539 58.5h0.01M538.93 60.4h0.01M538.85 62.3h0.01M539 58.5h0.01M540.81 57.92h0.01M542.62 57.34h0.01M536.46 58.2h0.01M538.04 56.13h0.01M535.03 57.11h0.01M536.6 55.04h0.01" stroke="#27237a" stroke-width="1.65" stroke-linecap="round" fill="none"/>
<path d="M558 42L560 58M560 58L557.18 60.55M560 58L563.36 59.78" stroke="#27237a" stroke-width="0.8" fill="none" stroke-linecap="round"/>
<path d="M558 42h0.01M557.87 43.82h0.01M558.79 45.51h0.01M558.32 47.38h0.01M559.24 49.07h0.01M558.76 50.93h0.01M559.68 52.62h0.01M559.21 54.49h0.01M560.13 56.18h0.01M560 58h0.01M560 58h0.01M558.59 59.27h0.01M557.18 60.55h0.01M560 58h0.01M561.68 58.89h0.01M563.36 59.78h0.01M558.44 55.98h0.01M561.02 55.66h0.01M558.21 54.19h0.01M560.79 53.87h0.01" stroke="#27237a" stroke-width="1.65" stroke-linecap="round" fill="none"/>
<path d="M547.5 71.5L537 67M537 67L536.22 63.28M537 67L533.77 69" stroke="#27237a" stroke-width="0.8" fill="none" stroke-linecap="round"/>
<path d="M547.5 71.5h0.01M546.14 70.54h0.01M544.36 70.54h0.01M543.14 69.25h0.01M541.36 69.25h0.01M540.14 67.96h0.01M538.36 67.96h0.01M537 67h0.01M537 67h0.01M536.61 65.14h0.01M536.22 63.28h0.01M537 67h0.01M535.39 68h0.01M533.77 69h0.01M539.53 66.67h0.01M538.51 69.06h0.01M541.19 67.38h0.01M540.16 69.77h0.01" stroke="#27237a" stroke-width="1.65" stroke-linecap="round" fill="none"/>
<path d="M563.5 66.5L572.5 70M572.5 70L573.4 73.69M572.5 70L575.66 67.89" stroke="#27237a" stroke-width="0.8" fill="none" stroke-linecap="round"/>
<path d="M563.5 66.5h0.01M564.87 67.41h0.01M566.63 67.34h0.01M567.87 68.58h0.01M569.63 68.51h0.01M570.87 69.74h0.01M572.5 70h0.01M572.5 70h0.01M572.95 71.85h0.01M573.4 73.69h0.01M572.5 70h0.01M574.08 68.94h0.01M575.66 67.89h0.01M569.98 70.41h0.01M570.92 67.99h0.01M568.3 69.76h0.01M569.24 67.34h0.01" stroke="#27237a" stroke-width="1.65" stroke-linecap="round" fill="none"/>
<path d="M550.5 74L566 82M566 82L566.51 85.77M566 82L569.36 80.23" stroke="#27237a" stroke-width="0.8" fill="none" stroke-linecap="round"/>
<path d="M550.5 74h0.01M551.89 75.11h0.01M553.76 75.29h0.01M554.99 76.71h0.01M556.86 76.89h0.01M558.09 78.31h0.01M559.96 78.49h0.01M561.19 79.91h0.01M563.06 80.09h0.01M564.29 81.51h0.01M566 82h0.01M566 82h0.01M566.25 83.88h0.01M566.51 85.77h0.01M566 82h0.01M567.68 81.12h0.01M569.36 80.23h0.01M563.45 82.15h0.01M564.64 79.84h0.01M561.85 81.32h0.01M563.04 79.01h0.01" stroke="#27237a" stroke-width="1.65" stroke-linecap="round" fill="none"/>
<path d="M601.5 32.5L597.5 41.5M597.5 41.5L593.77 42.23M597.5 41.5L599.46 44.76" stroke="#27237a" stroke-width="0.8" fill="none" stroke-linecap="round"/>
<path d="M601.5 32.5h0.01M600.51 33.86h0.01M600.49 35.64h0.01M599.18 36.86h0.01M599.15 38.64h0.01M597.85 39.86h0.01M597.5 41.5h0.01M597.5 41.5h0.01M595.64 41.86h0.01M593.77 42.23h0.01M597.5 41.5h0.01M598.48 43.13h0.01M599.46 44.76h0.01M597.21 38.96h0.01M599.58 40.02h0.01M597.94 37.32h0.01M600.31 38.37h0.01" stroke="#27237a" stroke-width="1.65" stroke-linecap="round" fill="none"/>
<path d="M608.5 37.5L617.5 42.5M617.5 42.5L617.89 46.28M617.5 42.5L620.92 40.84" stroke="#27237a" stroke-width="0.8" fill="none" stroke-linecap="round"/>
<path d="M608.5 37.5h0.01M609.83 38.64h0.01M611.67 38.86h0.01M612.83 40.31h0.01M614.67 40.53h0.01M615.83 41.97h0.01M617.5 42.5h0.01M617.5 42.5h0.01M617.7 44.39h0.01M617.89 46.28h0.01M617.5 42.5h0.01M619.21 41.67h0.01M620.92 40.84h0.01M614.95 42.57h0.01M616.21 40.3h0.01M613.37 41.69h0.01M614.63 39.42h0.01" stroke="#27237a" stroke-width="1.65" stroke-linecap="round" fill="none"/>
<path d="M591.5 48L604.5 55.5M604.5 55.5L604.83 59.29M604.5 55.5L607.94 53.89" stroke="#27237a" stroke-width="0.8" fill="none" stroke-linecap="round"/>
<path d="M591.5 48h0.01M592.77 49.14h0.01M594.56 49.36h0.01M595.66 50.8h0.01M597.45 51.03h0.01M598.55 52.47h0.01M600.34 52.7h0.01M601.44 54.14h0.01M603.23 54.36h0.01M604.5 55.5h0.01M604.5 55.5h0.01M604.67 57.39h0.01M604.83 59.29h0.01M604.5 55.5h0.01M606.22 54.7h0.01M607.94 53.89h0.01M601.94 55.53h0.01M603.24 53.27h0.01M600.39 54.63h0.01M601.68 52.38h0.01" stroke="#27237a" stroke-width="1.65" stroke-linecap="round" fill="none"/>
<path d="M623.5 40L625 59M625 59L622.07 61.42M625 59L628.27 60.93" stroke="#27237a" stroke-width="0.8" fill="none" stroke-linecap="round"/>
<path d="M623.5 40h0.01M623.29 41.75h0.01M624.12 43.43h0.01M623.56 45.21h0.01M624.39 46.88h0.01M623.83 48.66h0.01M624.67 50.34h0.01M624.11 52.12h0.01M624.94 53.79h0.01M624.38 55.57h0.01M625.21 57.25h0.01M625 59h0.01M625 59h0.01M623.53 60.21h0.01M622.07 61.42h0.01M625 59h0.01M626.64 59.96h0.01M628.27 60.93h0.01M623.53 56.91h0.01M626.12 56.7h0.01M623.39 55.11h0.01M625.98 54.91h0.01" stroke="#27237a" stroke-width="1.65" stroke-linecap="round" fill="none"/>
<path d="M612 69.5L601 64M601 64L600.44 60.24M601 64L597.66 65.81" stroke="#27237a" stroke-width="0.8" fill="none" stroke-linecap="round"/>
<path d="M612 69.5h0.01M610.59 68.4h0.01M608.7 68.24h0.01M607.44 66.83h0.01M605.56 66.67h0.01M604.3 65.26h0.01M602.41 65.1h0.01M601 64h0.01M601 64h0.01M600.72 62.12h0.01M600.44 60.24h0.01M601 64h0.01M599.33 64.9h0.01M597.66 65.81h0.01M603.55 63.82h0.01M602.39 66.15h0.01M605.16 64.63h0.01M604 66.95h0.01" stroke="#27237a" stroke-width="1.65" stroke-linecap="round" fill="none"/>
<path d="M629 64.5L638.5 69M638.5 69L639.14 72.75M638.5 69L641.8 67.12" stroke="#27237a" stroke-width="0.8" fill="none" stroke-linecap="round"/>
<path d="M629 64.5h0.01M630.43 65.57h0.01M632.32 65.68h0.01M633.6 67.07h0.01M635.48 67.18h0.01M636.77 68.57h0.01M638.5 69h0.01M638.5 69h0.01M638.82 70.87h0.01M639.14 72.75h0.01M638.5 69h0.01M640.15 68.06h0.01M641.8 67.12h0.01M635.96 69.23h0.01M637.07 66.88h0.01M634.33 68.46h0.01M635.44 66.11h0.01" stroke="#27237a" stroke-width="1.65" stroke-linecap="round" fill="none"/>
<path d="M616 72L630 79.5M630 79.5L630.45 83.27M630 79.5L633.39 77.79" stroke="#27237a" stroke-width="0.8" fill="none" stroke-linecap="round"/>
<path d="M616 72h0.01M617.39 73.14h0.01M619.28 73.36h0.01M620.5 74.81h0.01M622.39 75.02h0.01M623.61 76.48h0.01M625.5 76.69h0.01M626.72 78.14h0.01M628.61 78.36h0.01M630 79.5h0.01M630 79.5h0.01M630.23 81.39h0.01M630.45 83.27h0.01M630 79.5h0.01M631.7 78.64h0.01M633.39 77.79h0.01M627.45 79.61h0.01M628.67 77.32h0.01M625.86 78.76h0.01M627.09 76.47h0.01" stroke="#27237a" stroke-width="1.65" stroke-linecap="round" fill="none"/>
<path d="M626.5 35L639 43M639 43L639.16 46.8M639 43L642.51 41.55" stroke="#27237a" stroke-width="0.8" fill="none" stroke-linecap="round"/>
<path d="M626.5 35h0.01M627.87 36.29h0.01M629.81 36.71h0.01M631 38.29h0.01M632.94 38.71h0.01M634.12 40.29h0.01M636.06 40.71h0.01M637.25 42.29h0.01M639 43h0.01M639 43h0.01M639.08 44.9h0.01M639.16 46.8h0.01M639 43h0.01M640.76 42.28h0.01M642.51 41.55h0.01M636.45 42.91h0.01M637.85 40.72h0.01M634.93 41.94h0.01M636.33 39.75h0.01" stroke="#27237a" stroke-width="1.65" stroke-linecap="round" fill="none"/>
<path d="M455 116.8L465 116M465 116L467.42 118.93M465 116L466.92 112.72" stroke="#27237a" stroke-width="0.8" fill="none" stroke-linecap="round"/>
<path d="M455 116.8h0.01M456.69 117.02h0.01M458.31 116.18h0.01M460.03 116.75h0.01M461.64 115.92h0.01M463.36 116.48h0.01M465 116h0.01M465 116h0.01M466.21 117.46h0.01M467.42 118.93h0.01M465 116h0.01M465.96 114.36h0.01M466.92 112.72h0.01M462.91 117.47h0.01M462.7 114.88h0.01M461.12 117.61h0.01M460.91 115.02h0.01" stroke="#27237a" stroke-width="1.65" stroke-linecap="round" fill="none"/>
<path d="M452.5 126.8L466 138M466 138L465.69 141.79M466 138L469.66 137" stroke="#27237a" stroke-width="0.8" fill="none" stroke-linecap="round"/>
<path d="M452.5 126.8h0.01M453.63 128.19h0.01M455.42 128.77h0.01M456.33 130.43h0.01M458.12 131.01h0.01M459.03 132.67h0.01M460.82 133.25h0.01M461.73 134.91h0.01M463.52 135.49h0.01M464.43 137.15h0.01M466 138h0.01M466 138h0.01M465.84 139.89h0.01M465.69 141.79h0.01M466 138h0.01M467.83 137.5h0.01M469.66 137h0.01M463.48 137.6h0.01M465.14 135.59h0.01M462.09 136.45h0.01M463.75 134.45h0.01" stroke="#27237a" stroke-width="1.65" stroke-linecap="round" fill="none"/>
<path d="M458.5 145.5L460 154M460 154L457.31 156.69M460 154L463.44 155.61" stroke="#27237a" stroke-width="0.8" fill="none" stroke-linecap="round"/>
<path d="M458.5 145.5h0.01M458.46 147.26h0.01M459.44 148.84h0.01M459.06 150.66h0.01M460.04 152.24h0.01M460 154h0.01M460 154h0.01M458.66 155.34h0.01M457.31 156.69h0.01M460 154h0.01M461.72 154.8h0.01M463.44 155.61h0.01M458.34 152.06h0.01M460.9 151.61h0.01M458.02 150.29h0.01M460.59 149.83h0.01" stroke="#27237a" stroke-width="1.65" stroke-linecap="round" fill="none"/>
<path d="M477 148.5L485.5 154.5M485.5 154.5L485.49 158.3M485.5 154.5L489.08 153.21" stroke="#27237a" stroke-width="0.8" fill="none" stroke-linecap="round"/>
<path d="M477 148.5h0.01M478.21 149.79h0.01M480.04 150.21h0.01M481.05 151.79h0.01M482.87 152.21h0.01M483.88 153.79h0.01M485.5 154.5h0.01M485.5 154.5h0.01M485.49 156.4h0.01M485.49 158.3h0.01M485.5 154.5h0.01M487.29 153.86h0.01M489.08 153.21h0.01M482.95 154.29h0.01M484.45 152.17h0.01M481.48 153.26h0.01M482.98 151.13h0.01" stroke="#27237a" stroke-width="1.65" stroke-linecap="round" fill="none"/>
<path d="M506.5 151L503 159.5M503 159.5L499.29 160.33M503 159.5L505.05 162.7" stroke="#27237a" stroke-width="0.8" fill="none" stroke-linecap="round"/>
<path d="M506.5 151h0.01M505.48 152.57h0.01M505.42 154.53h0.01M504.08 155.97h0.01M504.02 157.93h0.01M503 159.5h0.01M503 159.5h0.01M501.15 159.92h0.01M499.29 160.33h0.01M503 159.5h0.01M504.02 161.1h0.01M505.05 162.7h0.01M502.64 156.97h0.01M505.04 157.96h0.01M503.32 155.31h0.01M505.73 156.3h0.01" stroke="#27237a" stroke-width="1.65" stroke-linecap="round" fill="none"/>
<path d="M508 112.5L510 129M510 129L507.17 131.54M510 129L513.35 130.79" stroke="#27237a" stroke-width="0.8" fill="none" stroke-linecap="round"/>
<path d="M508 112.5h0.01M507.87 114.38h0.01M508.79 116.12h0.01M508.32 118.04h0.01M509.24 119.79h0.01M508.76 121.71h0.01M509.68 123.46h0.01M509.21 125.38h0.01M510.13 127.12h0.01M510 129h0.01M510 129h0.01M508.59 130.27h0.01M507.17 131.54h0.01M510 129h0.01M511.68 129.89h0.01M513.35 130.79h0.01M508.44 126.97h0.01M511.03 126.66h0.01M508.23 125.19h0.01M510.81 124.87h0.01" stroke="#27237a" stroke-width="1.65" stroke-linecap="round" fill="none"/>
<path d="M524 117.5L534 117M534 117L536.33 120M534 117L536.02 113.78" stroke="#27237a" stroke-width="0.8" fill="none" stroke-linecap="round"/>
<path d="M524 117.5h0.01M525.68 117.77h0.01M527.32 116.98h0.01M529.02 117.6h0.01M530.65 116.82h0.01M532.35 117.43h0.01M534 117h0.01M534 117h0.01M535.17 118.5h0.01M536.33 120h0.01M534 117h0.01M535.01 115.39h0.01M536.02 113.78h0.01M531.87 118.41h0.01M531.74 115.81h0.01M530.07 118.5h0.01M529.94 115.9h0.01" stroke="#27237a" stroke-width="1.65" stroke-linecap="round" fill="none"/>
<path d="M552 113.5L566 122M566 122L566.25 125.79M566 122L569.48 120.47" stroke="#27237a" stroke-width="0.8" fill="none" stroke-linecap="round"/>
<path d="M552 113.5h0.01M553.37 114.74h0.01M555.29 115.09h0.01M556.49 116.63h0.01M558.4 116.98h0.01M559.6 118.52h0.01M561.51 118.87h0.01M562.71 120.41h0.01M564.63 120.76h0.01M566 122h0.01M566 122h0.01M566.12 123.9h0.01M566.25 125.79h0.01M566 122h0.01M567.74 121.24h0.01M569.48 120.47h0.01M563.44 121.97h0.01M564.79 119.75h0.01M561.91 121.04h0.01M563.26 118.81h0.01" stroke="#27237a" stroke-width="1.65" stroke-linecap="round" fill="none"/>
<path d="M575 105.5L576 122M576 122L573.02 124.36M576 122L579.24 123.99" stroke="#27237a" stroke-width="0.8" fill="none" stroke-linecap="round"/>
<path d="M575 105.5h0.01M574.76 107.35h0.01M575.57 109.15h0.01M574.98 111.02h0.01M575.79 112.81h0.01M575.21 114.69h0.01M576.02 116.48h0.01M575.43 118.35h0.01M576.24 120.15h0.01M576 122h0.01M576 122h0.01M574.51 123.18h0.01M573.02 124.36h0.01M576 122h0.01M577.62 122.99h0.01M579.24 123.99h0.01M574.57 119.88h0.01M577.16 119.73h0.01M574.46 118.09h0.01M577.06 117.93h0.01" stroke="#27237a" stroke-width="1.65" stroke-linecap="round" fill="none"/>
<path d="M528 145.5L529.5 156M529.5 156L526.73 158.6M529.5 156L532.89 157.72" stroke="#27237a" stroke-width="0.8" fill="none" stroke-linecap="round"/>
<path d="M528 145.5h0.01M527.9 147.3h0.01M528.85 148.95h0.01M528.4 150.8h0.01M529.35 152.45h0.01M528.9 154.3h0.01M529.5 156h0.01M529.5 156h0.01M528.11 157.3h0.01M526.73 158.6h0.01M529.5 156h0.01M531.19 156.86h0.01M532.89 157.72h0.01M527.9 154.01h0.01M530.48 153.64h0.01M527.65 152.22h0.01M530.22 151.86h0.01" stroke="#27237a" stroke-width="1.65" stroke-linecap="round" fill="none"/>
<path d="M543 151.5L551 156M551 156L551.37 159.78M551 156L554.43 154.36" stroke="#27237a" stroke-width="0.8" fill="none" stroke-linecap="round"/>
<path d="M543 151.5h0.01M544.43 152.71h0.01M546.37 152.99h0.01M547.63 154.51h0.01M549.57 154.79h0.01M551 156h0.01M551 156h0.01M551.19 157.89h0.01M551.37 159.78h0.01M551 156h0.01M552.71 155.18h0.01M554.43 154.36h0.01M548.45 156.05h0.01M549.72 153.79h0.01M546.88 155.17h0.01M548.15 152.91h0.01" stroke="#27237a" stroke-width="1.65" stroke-linecap="round" fill="none"/>
<path d="M576.5 149.5L572 158M572 158L568.23 158.47M572 158L573.73 161.38" stroke="#27237a" stroke-width="0.8" fill="none" stroke-linecap="round"/>
<path d="M576.5 149.5h0.01M575.29 151.04h0.01M575.01 153.06h0.01M573.49 154.44h0.01M573.21 156.46h0.01M572 158h0.01M572 158h0.01M570.11 158.23h0.01M568.23 158.47h0.01M572 158h0.01M572.87 159.69h0.01M573.73 161.38h0.01M571.88 155.45h0.01M574.18 156.66h0.01M572.72 153.86h0.01M575.02 155.07h0.01" stroke="#27237a" stroke-width="1.65" stroke-linecap="round" fill="none"/>
<path d="M606 113L601.5 120.5M601.5 120.5L597.71 120.77M601.5 120.5L603.05 123.97" stroke="#27237a" stroke-width="0.8" fill="none" stroke-linecap="round"/>
<path d="M606 113h0.01M604.8 114.32h0.01M604.5 116.18h0.01M603 117.32h0.01M602.7 119.18h0.01M601.5 120.5h0.01M601.5 120.5h0.01M599.6 120.63h0.01M597.71 120.77h0.01M601.5 120.5h0.01M602.27 122.24h0.01M603.05 123.97h0.01M601.52 117.94h0.01M603.75 119.28h0.01M602.44 116.4h0.01M604.67 117.74h0.01" stroke="#27237a" stroke-width="1.65" stroke-linecap="round" fill="none"/>
<path d="M614 118.5L622.5 124.5M622.5 124.5L622.49 128.3M622.5 124.5L626.08 123.21" stroke="#27237a" stroke-width="0.8" fill="none" stroke-linecap="round"/>
<path d="M614 118.5h0.01M615.21 119.79h0.01M617.04 120.21h0.01M618.05 121.79h0.01M619.87 122.21h0.01M620.88 123.79h0.01M622.5 124.5h0.01M622.5 124.5h0.01M622.49 126.4h0.01M622.49 128.3h0.01M622.5 124.5h0.01M624.29 123.86h0.01M626.08 123.21h0.01M619.95 124.29h0.01M621.45 122.17h0.01M618.48 123.26h0.01M619.98 121.13h0.01" stroke="#27237a" stroke-width="1.65" stroke-linecap="round" fill="none"/>
<path d="M597.5 128.5L610 137M610 137L610.05 140.8M610 137L613.55 135.65" stroke="#27237a" stroke-width="0.8" fill="none" stroke-linecap="round"/>
<path d="M597.5 128.5h0.01M598.69 129.73h0.01M600.47 130.1h0.01M601.47 131.62h0.01M603.25 131.99h0.01M604.25 133.51h0.01M606.03 133.88h0.01M607.03 135.4h0.01M608.81 135.77h0.01M610 137h0.01M610 137h0.01M610.03 138.9h0.01M610.05 140.8h0.01M610 137h0.01M611.78 136.33h0.01M613.55 135.65h0.01M607.45 136.84h0.01M608.91 134.69h0.01M605.96 135.83h0.01M607.42 133.68h0.01" stroke="#27237a" stroke-width="1.65" stroke-linecap="round" fill="none"/>
<path d="M632.5 123.5L635 141M635 141L632.23 143.6M635 141L638.39 142.72" stroke="#27237a" stroke-width="0.8" fill="none" stroke-linecap="round"/>
<path d="M632.5 123.5h0.01M632.4 125.3h0.01M633.35 126.95h0.01M632.9 128.8h0.01M633.85 130.45h0.01M633.4 132.3h0.01M634.35 133.95h0.01M633.9 135.8h0.01M634.85 137.45h0.01M634.4 139.3h0.01M635 141h0.01M635 141h0.01M633.61 142.3h0.01M632.23 143.6h0.01M635 141h0.01M636.69 141.86h0.01M638.39 142.72h0.01M633.4 139.01h0.01M635.98 138.64h0.01M633.15 137.22h0.01M635.72 136.86h0.01" stroke="#27237a" stroke-width="1.65" stroke-linecap="round" fill="none"/>
<path d="M610 148L600 141M600 141L600 137.2M600 141L596.43 142.3" stroke="#27237a" stroke-width="0.8" fill="none" stroke-linecap="round"/>
<path d="M610 148h0.01M608.77 146.71h0.01M606.94 146.29h0.01M605.91 144.71h0.01M604.09 144.29h0.01M603.06 142.71h0.01M601.23 142.29h0.01M600 141h0.01M600 141h0.01M600 139.1h0.01M600 137.2h0.01M600 141h0.01M598.21 141.65h0.01M596.43 142.3h0.01M602.55 141.2h0.01M601.06 143.33h0.01M604.02 142.23h0.01M602.53 144.36h0.01" stroke="#27237a" stroke-width="1.65" stroke-linecap="round" fill="none"/>
<path d="M634.5 146.5L643 150.5M643 150.5L643.65 154.24M643 150.5L646.3 148.61" stroke="#27237a" stroke-width="0.8" fill="none" stroke-linecap="round"/>
<path d="M634.5 146.5h0.01M636.05 147.62h0.01M638.05 147.78h0.01M639.45 149.22h0.01M641.45 149.38h0.01M643 150.5h0.01M643 150.5h0.01M643.32 152.37h0.01M643.65 154.24h0.01M643 150.5h0.01M644.65 149.56h0.01M646.3 148.61h0.01M640.46 150.74h0.01M641.56 148.39h0.01M638.83 149.97h0.01M639.93 147.62h0.01" stroke="#27237a" stroke-width="1.65" stroke-linecap="round" fill="none"/>
<path d="M621.5 154L636 161M636 161L636.61 164.75M636 161L639.32 159.14" stroke="#27237a" stroke-width="0.8" fill="none" stroke-linecap="round"/>
<path d="M621.5 154h0.01M622.96 155.09h0.01M624.87 155.24h0.01M626.18 156.65h0.01M628.1 156.8h0.01M629.4 158.2h0.01M631.32 158.35h0.01M632.63 159.76h0.01M634.54 159.91h0.01M636 161h0.01M636 161h0.01M636.3 162.88h0.01M636.61 164.75h0.01M636 161h0.01M637.66 160.07h0.01M639.32 159.14h0.01M633.45 161.21h0.01M634.58 158.87h0.01M631.83 160.43h0.01M632.96 158.09h0.01" stroke="#27237a" stroke-width="1.65" stroke-linecap="round" fill="none"/>
<g transform="translate(489.5 52.8) rotate(-35) scale(1.12)">
<path d="M4.83 1.29L7.73 2.07M1.71 4.7L2.74 7.52M-2.11 4.53L-3.38 7.25M-4.83 1.29L-7.73 2.07M-4.53 -2.11L-7.25 -3.38M-1.29 -4.83L-2.07 -7.73M2.5 -4.33L4 -6.93M4.83 -1.29L7.73 -2.07" stroke="#f0b445" stroke-width="0.9" fill="none"/>
<path d="M-4 -4.2L2.6 -4.2A1.9 4.2 0 0 1 2.6 4.2L-4 4.2A1.9 4.2 0 0 1 -4 -4.2Z" fill="url(#cg)" stroke="#3d7fae" stroke-width="0.4"/>
<ellipse cx="2.6" cy="0" rx="1.9" ry="4.2" fill="#c3daee" stroke="#3d84b9" stroke-width="0.5"/>
</g>
<g transform="translate(542.5 47.4) rotate(-30) scale(1.12)">
<path d="M4.83 1.29L7.73 2.07M1.71 4.7L2.74 7.52M-2.11 4.53L-3.38 7.25M-4.83 1.29L-7.73 2.07M-4.53 -2.11L-7.25 -3.38M-1.29 -4.83L-2.07 -7.73M2.5 -4.33L4 -6.93M4.83 -1.29L7.73 -2.07" stroke="#f0b445" stroke-width="0.9" fill="none"/>
<path d="M-4 -4.2L2.6 -4.2A1.9 4.2 0 0 1 2.6 4.2L-4 4.2A1.9 4.2 0 0 1 -4 -4.2Z" fill="url(#cg)" stroke="#3d7fae" stroke-width="0.4"/>
<ellipse cx="2.6" cy="0" rx="1.9" ry="4.2" fill="#c3daee" stroke="#3d84b9" stroke-width="0.5"/>
</g>
<g transform="translate(555.5 66.9) rotate(-30) scale(1.12)">
<path d="M4.83 1.29L7.73 2.07M1.71 4.7L2.74 7.52M-2.11 4.53L-3.38 7.25M-4.83 1.29L-7.73 2.07M-4.53 -2.11L-7.25 -3.38M-1.29 -4.83L-2.07 -7.73M2.5 -4.33L4 -6.93M4.83 -1.29L7.73 -2.07" stroke="#f0b445" stroke-width="0.9" fill="none"/>
<path d="M-4 -4.2L2.6 -4.2A1.9 4.2 0 0 1 2.6 4.2L-4 4.2A1.9 4.2 0 0 1 -4 -4.2Z" fill="url(#cg)" stroke="#3d7fae" stroke-width="0.4"/>
<ellipse cx="2.6" cy="0" rx="1.9" ry="4.2" fill="#c3daee" stroke="#3d84b9" stroke-width="0.5"/>
</g>
<g transform="translate(608.1 46.4) rotate(-30) scale(1.12)">
<path d="M4.83 1.29L7.73 2.07M1.71 4.7L2.74 7.52M-2.11 4.53L-3.38 7.25M-4.83 1.29L-7.73 2.07M-4.53 -2.11L-7.25 -3.38M-1.29 -4.83L-2.07 -7.73M2.5 -4.33L4 -6.93M4.83 -1.29L7.73 -2.07" stroke="#f0b445" stroke-width="0.9" fill="none"/>
<path d="M-4 -4.2L2.6 -4.2A1.9 4.2 0 0 1 2.6 4.2L-4 4.2A1.9 4.2 0 0 1 -4 -4.2Z" fill="url(#cg)" stroke="#3d7fae" stroke-width="0.4"/>
<ellipse cx="2.6" cy="0" rx="1.9" ry="4.2" fill="#c3daee" stroke="#3d84b9" stroke-width="0.5"/>
</g>
<g transform="translate(632.3 48.5) rotate(-10) scale(1.12)">
<path d="M4.83 1.29L7.73 2.07M1.71 4.7L2.74 7.52M-2.11 4.53L-3.38 7.25M-4.83 1.29L-7.73 2.07M-4.53 -2.11L-7.25 -3.38M-1.29 -4.83L-2.07 -7.73M2.5 -4.33L4 -6.93M4.83 -1.29L7.73 -2.07" stroke="#f0b445" stroke-width="0.9" fill="none"/>
<path d="M-4 -4.2L2.6 -4.2A1.9 4.2 0 0 1 2.6 4.2L-4 4.2A1.9 4.2 0 0 1 -4 -4.2Z" fill="url(#cg)" stroke="#3d7fae" stroke-width="0.4"/>
<ellipse cx="2.6" cy="0" rx="1.9" ry="4.2" fill="#c3daee" stroke="#3d84b9" stroke-width="0.5"/>
</g>
<g transform="translate(621 65.8) rotate(-30) scale(1.12)">
<path d="M4.83 1.29L7.73 2.07M1.71 4.7L2.74 7.52M-2.11 4.53L-3.38 7.25M-4.83 1.29L-7.73 2.07M-4.53 -2.11L-7.25 -3.38M-1.29 -4.83L-2.07 -7.73M2.5 -4.33L4 -6.93M4.83 -1.29L7.73 -2.07" stroke="#f0b445" stroke-width="0.9" fill="none"/>
<path d="M-4 -4.2L2.6 -4.2A1.9 4.2 0 0 1 2.6 4.2L-4 4.2A1.9 4.2 0 0 1 -4 -4.2Z" fill="url(#cg)" stroke="#3d7fae" stroke-width="0.4"/>
<ellipse cx="2.6" cy="0" rx="1.9" ry="4.2" fill="#c3daee" stroke="#3d84b9" stroke-width="0.5"/>
</g>
<g transform="translate(487.5 126.5) rotate(-35) scale(1.12)">
<path d="M4.83 1.29L7.73 2.07M1.71 4.7L2.74 7.52M-2.11 4.53L-3.38 7.25M-4.83 1.29L-7.73 2.07M-4.53 -2.11L-7.25 -3.38M-1.29 -4.83L-2.07 -7.73M2.5 -4.33L4 -6.93M4.83 -1.29L7.73 -2.07" stroke="#f0b445" stroke-width="0.9" fill="none"/>
<path d="M-4 -4.2L2.6 -4.2A1.9 4.2 0 0 1 2.6 4.2L-4 4.2A1.9 4.2 0 0 1 -4 -4.2Z" fill="url(#cg)" stroke="#3d7fae" stroke-width="0.4"/>
<ellipse cx="2.6" cy="0" rx="1.9" ry="4.2" fill="#c3daee" stroke="#3d84b9" stroke-width="0.5"/>
</g>
<g transform="translate(537 133.5) rotate(-35) scale(1.12)">
<path d="M4.83 1.29L7.73 2.07M1.71 4.7L2.74 7.52M-2.11 4.53L-3.38 7.25M-4.83 1.29L-7.73 2.07M-4.53 -2.11L-7.25 -3.38M-1.29 -4.83L-2.07 -7.73M2.5 -4.33L4 -6.93M4.83 -1.29L7.73 -2.07" stroke="#f0b445" stroke-width="0.9" fill="none"/>
<path d="M-4 -4.2L2.6 -4.2A1.9 4.2 0 0 1 2.6 4.2L-4 4.2A1.9 4.2 0 0 1 -4 -4.2Z" fill="url(#cg)" stroke="#3d7fae" stroke-width="0.4"/>
<ellipse cx="2.6" cy="0" rx="1.9" ry="4.2" fill="#c3daee" stroke="#3d84b9" stroke-width="0.5"/>
</g>
<g transform="translate(565.5 142.5) rotate(-35) scale(1.12)">
<path d="M4.83 1.29L7.73 2.07M1.71 4.7L2.74 7.52M-2.11 4.53L-3.38 7.25M-4.83 1.29L-7.73 2.07M-4.53 -2.11L-7.25 -3.38M-1.29 -4.83L-2.07 -7.73M2.5 -4.33L4 -6.93M4.83 -1.29L7.73 -2.07" stroke="#f0b445" stroke-width="0.9" fill="none"/>
<path d="M-4 -4.2L2.6 -4.2A1.9 4.2 0 0 1 2.6 4.2L-4 4.2A1.9 4.2 0 0 1 -4 -4.2Z" fill="url(#cg)" stroke="#3d7fae" stroke-width="0.4"/>
<ellipse cx="2.6" cy="0" rx="1.9" ry="4.2" fill="#c3daee" stroke="#3d84b9" stroke-width="0.5"/>
</g>
<g transform="translate(613 128) rotate(-30) scale(1.12)">
<path d="M4.83 1.29L7.73 2.07M1.71 4.7L2.74 7.52M-2.11 4.53L-3.38 7.25M-4.83 1.29L-7.73 2.07M-4.53 -2.11L-7.25 -3.38M-1.29 -4.83L-2.07 -7.73M2.5 -4.33L4 -6.93M4.83 -1.29L7.73 -2.07" stroke="#f0b445" stroke-width="0.9" fill="none"/>
<path d="M-4 -4.2L2.6 -4.2A1.9 4.2 0 0 1 2.6 4.2L-4 4.2A1.9 4.2 0 0 1 -4 -4.2Z" fill="url(#cg)" stroke="#3d7fae" stroke-width="0.4"/>
<ellipse cx="2.6" cy="0" rx="1.9" ry="4.2" fill="#c3daee" stroke="#3d84b9" stroke-width="0.5"/>
</g>
<g transform="translate(627 148) rotate(-30) scale(1.12)">
<path d="M4.83 1.29L7.73 2.07M1.71 4.7L2.74 7.52M-2.11 4.53L-3.38 7.25M-4.83 1.29L-7.73 2.07M-4.53 -2.11L-7.25 -3.38M-1.29 -4.83L-2.07 -7.73M2.5 -4.33L4 -6.93M4.83 -1.29L7.73 -2.07" stroke="#f0b445" stroke-width="0.9" fill="none"/>
<path d="M-4 -4.2L2.6 -4.2A1.9 4.2 0 0 1 2.6 4.2L-4 4.2A1.9 4.2 0 0 1 -4 -4.2Z" fill="url(#cg)" stroke="#3d7fae" stroke-width="0.4"/>
<ellipse cx="2.6" cy="0" rx="1.9" ry="4.2" fill="#c3daee" stroke="#3d84b9" stroke-width="0.5"/>
</g>
<g transform="translate(610.5 154) rotate(-30) scale(1.12)">
<path d="M4.83 1.29L7.73 2.07M1.71 4.7L2.74 7.52M-2.11 4.53L-3.38 7.25M-4.83 1.29L-7.73 2.07M-4.53 -2.11L-7.25 -3.38M-1.29 -4.83L-2.07 -7.73M2.5 -4.33L4 -6.93M4.83 -1.29L7.73 -2.07" stroke="#f0b445" stroke-width="0.9" fill="none"/>
<path d="M-4 -4.2L2.6 -4.2A1.9 4.2 0 0 1 2.6 4.2L-4 4.2A1.9 4.2 0 0 1 -4 -4.2Z" fill="url(#cg)" stroke="#3d7fae" stroke-width="0.4"/>
<ellipse cx="2.6" cy="0" rx="1.9" ry="4.2" fill="#c3daee" stroke="#3d84b9" stroke-width="0.5"/>
</g>
<text x="-0.5" y="215.6" font-size="10.2" text-anchor="start" font-weight="bold" fill="#000" stroke="#000" stroke-width="0.15">d</text>
<rect x="37" y="220.6" width="273.1" height="168.7" fill="none" stroke="#9a9a9a" stroke-width="0.9"/>
<line x1="34.6" y1="389.3" x2="37" y2="389.3" stroke="#9a9a9a" stroke-width="0.8"/>
<text x="34" y="392.3" font-size="8" text-anchor="end" fill="#231f20">0.0</text>
<line x1="34.6" y1="307.2" x2="37" y2="307.2" stroke="#9a9a9a" stroke-width="0.8"/>
<text x="34" y="310.2" font-size="8" text-anchor="end" fill="#231f20">0.5</text>
<line x1="34.6" y1="225.1" x2="37" y2="225.1" stroke="#9a9a9a" stroke-width="0.8"/>
<text x="34" y="228.1" font-size="8" text-anchor="end" fill="#231f20">1</text>
<line x1="37.43" y1="389.3" x2="37.43" y2="390.9" stroke="#9a9a9a" stroke-width="0.8"/>
<line x1="43.63" y1="389.3" x2="43.63" y2="390.9" stroke="#9a9a9a" stroke-width="0.8"/>
<line x1="48.87" y1="389.3" x2="48.87" y2="390.9" stroke="#9a9a9a" stroke-width="0.8"/>
<line x1="53.41" y1="389.3" x2="53.41" y2="390.9" stroke="#9a9a9a" stroke-width="0.8"/>
<line x1="57.42" y1="389.3" x2="57.42" y2="390.9" stroke="#9a9a9a" stroke-width="0.8"/>
<line x1="61" y1="389.3" x2="61" y2="392.1" stroke="#9a9a9a" stroke-width="0.8"/>
<line x1="84.57" y1="389.3" x2="84.57" y2="390.9" stroke="#9a9a9a" stroke-width="0.8"/>
<line x1="98.36" y1="389.3" x2="98.36" y2="390.9" stroke="#9a9a9a" stroke-width="0.8"/>
<line x1="108.14" y1="389.3" x2="108.14" y2="390.9" stroke="#9a9a9a" stroke-width="0.8"/>
<line x1="115.73" y1="389.3" x2="115.73" y2="390.9" stroke="#9a9a9a" stroke-width="0.8"/>
<line x1="121.93" y1="389.3" x2="121.93" y2="390.9" stroke="#9a9a9a" stroke-width="0.8"/>
<line x1="127.17" y1="389.3" x2="127.17" y2="390.9" stroke="#9a9a9a" stroke-width="0.8"/>
<line x1="131.71" y1="389.3" x2="131.71" y2="390.9" stroke="#9a9a9a" stroke-width="0.8"/>
<line x1="135.72" y1="389.3" x2="135.72" y2="390.9" stroke="#9a9a9a" stroke-width="0.8"/>
<line x1="139.3" y1="389.3" x2="139.3" y2="392.1" stroke="#9a9a9a" stroke-width="0.8"/>
<line x1="162.87" y1="389.3" x2="162.87" y2="390.9" stroke="#9a9a9a" stroke-width="0.8"/>
<line x1="176.66" y1="389.3" x2="176.66" y2="390.9" stroke="#9a9a9a" stroke-width="0.8"/>
<line x1="186.44" y1="389.3" x2="186.44" y2="390.9" stroke="#9a9a9a" stroke-width="0.8"/>
<line x1="194.03" y1="389.3" x2="194.03" y2="390.9" stroke="#9a9a9a" stroke-width="0.8"/>
<line x1="200.23" y1="389.3" x2="200.23" y2="390.9" stroke="#9a9a9a" stroke-width="0.8"/>
<line x1="205.47" y1="389.3" x2="205.47" y2="390.9" stroke="#9a9a9a" stroke-width="0.8"/>
<line x1="210.01" y1="389.3" x2="210.01" y2="390.9" stroke="#9a9a9a" stroke-width="0.8"/>
<line x1="214.02" y1="389.3" x2="214.02" y2="390.9" stroke="#9a9a9a" stroke-width="0.8"/>
<line x1="217.6" y1="389.3" x2="217.6" y2="392.1" stroke="#9a9a9a" stroke-width="0.8"/>
<line x1="241.17" y1="389.3" x2="241.17" y2="390.9" stroke="#9a9a9a" stroke-width="0.8"/>
<line x1="254.96" y1="389.3" x2="254.96" y2="390.9" stroke="#9a9a9a" stroke-width="0.8"/>
<line x1="264.74" y1="389.3" x2="264.74" y2="390.9" stroke="#9a9a9a" stroke-width="0.8"/>
<line x1="272.33" y1="389.3" x2="272.33" y2="390.9" stroke="#9a9a9a" stroke-width="0.8"/>
<line x1="278.53" y1="389.3" x2="278.53" y2="390.9" stroke="#9a9a9a" stroke-width="0.8"/>
<line x1="283.77" y1="389.3" x2="283.77" y2="390.9" stroke="#9a9a9a" stroke-width="0.8"/>
<line x1="288.31" y1="389.3" x2="288.31" y2="390.9" stroke="#9a9a9a" stroke-width="0.8"/>
<line x1="292.32" y1="389.3" x2="292.32" y2="390.9" stroke="#9a9a9a" stroke-width="0.8"/>
<line x1="295.9" y1="389.3" x2="295.9" y2="392.1" stroke="#9a9a9a" stroke-width="0.8"/>
<text x="61" y="401.5" font-size="7.9" text-anchor="middle" fill="#231f20">0.1</text>
<text x="139.3" y="401.5" font-size="7.9" text-anchor="middle" fill="#231f20">1</text>
<text x="217.6" y="401.5" font-size="7.9" text-anchor="middle" fill="#231f20">10</text>
<text x="295.9" y="401.5" font-size="7.9" text-anchor="middle" fill="#231f20">100</text>
<text x="178.8" y="414.6" font-size="9.3" text-anchor="middle" fill="#231f20">Sedimentation coefficient [S]</text>
<text x="12.7" y="301.2" font-size="9.2" text-anchor="middle" transform="rotate(-90 12.7 301.2)" fill="#231f20">Concentration (arb. u.)</text>
<polyline points="83.4,385 87.8,367.1 90.4,342.6 92.2,307.5 94,285 95.4,248 96.9,226 98.6,245 100.2,275 102.3,308 104.5,333.8 107.1,354.8 110.6,374.1 113.5,383 115.8,386.4 119.3,388.2" fill="none" stroke="#9c9c9c" stroke-width="0.9" stroke-linejoin="round" stroke-dasharray="3 2"/>
<polyline points="37.5,383.7 60.7,383.7 64.5,381.5 67.7,377.6 71.5,373.6 74.7,369.7 78,363.5 80.8,357.4 83.4,356.4 85.2,342.6 87.8,316.3 90.4,290 92.9,270 94.5,258 96.7,246 98.5,258 100.3,275 101.8,292 103.6,325 105.7,351.3 108,377.6 110.6,386.4 115,388.4 152,388.4" fill="none" stroke="#f7b23c" stroke-width="1.1" stroke-linejoin="round" stroke-dasharray="3.5 2.2"/>
<polyline points="140.5,380.4 160,379.3 186.9,377.4 200.7,371 210.4,358 218.2,341.3 222.9,320.5 226.4,300 229.6,280.3 233.6,259.4 237,252 240.9,247.4 244,245.5 247.3,244.5 250,244.8 252.9,245.8 256.9,249.5 259.5,252 261.8,255.4 265.8,263.4 269.8,271.5 272.7,269 275.4,251.4 277,245 278.1,241 279.4,240.1 281.3,224.1 283.4,241 285,264.2 286.6,300 288.1,328.8 290,350 291.4,359.3 292.5,358 293.7,366.3 295,367 296.4,373.2 297.5,372 299.2,378.8 300.5,377.5 302,381.5 303.5,380.5 304.8,383 306.5,384.5 308.9,387" fill="none" stroke="#2e7ea8" stroke-width="1.1" stroke-linejoin="round"/>
<line x1="38.9" y1="227.2" x2="48.7" y2="227.2" stroke="#2e7ea8" stroke-width="1.3"/>
<line x1="38.9" y1="235.6" x2="48.7" y2="235.6" stroke="#a6a6a6" stroke-width="0.9" stroke-dasharray="2.6 1.6"/>
<line x1="38.9" y1="243.3" x2="48.7" y2="243.3" stroke="#f7b23c" stroke-width="1.1" stroke-dasharray="2.6 1.6"/>
<text x="51.3" y="230.1" font-size="8.2" text-anchor="start" fill="#231f20">LPS + P[5]a</text>
<text x="51.3" y="238.5" font-size="8.2" text-anchor="start" fill="#231f20">LPS</text>
<text x="51.3" y="246.7" font-size="8.2" text-anchor="start" fill="#231f20">P[5]a</text>
<line x1="111" y1="341.2" x2="203" y2="341.2" stroke="#000" stroke-width="1.3"/>
<polygon points="208.4,341.2 202,338.1 202,344.3" fill="#000"/>
<rect x="150.7" y="226.3" width="48.4" height="71" fill="#fff" stroke="#8a8a8a" stroke-width="0.8"/>
<line x1="148.6" y1="297.3" x2="150.7" y2="297.3" stroke="#9a9a9a" stroke-width="0.8"/>
<text x="148" y="300.3" font-size="8.3" text-anchor="end" fill="#231f20">0</text>
<line x1="148.6" y1="271.38" x2="150.7" y2="271.38" stroke="#9a9a9a" stroke-width="0.8"/>
<text x="148" y="274.38" font-size="8.3" text-anchor="end" fill="#231f20">50</text>
<line x1="148.6" y1="245.45" x2="150.7" y2="245.45" stroke="#9a9a9a" stroke-width="0.8"/>
<text x="148" y="248.45" font-size="8.3" text-anchor="end" fill="#231f20">100</text>
<rect x="156.2" y="292.4" width="15.4" height="4.9" fill="#dcdcdc" stroke="#8a8a8a" stroke-width="0.6"/>
<rect x="175.1" y="252" width="15.4" height="45.3" fill="#1f6f97" stroke="#1a4f6a" stroke-width="0.6"/>
<circle cx="163.9" cy="291.6" r="0.8" fill="#000" stroke="none" stroke-width="0"/>
<circle cx="182.8" cy="251.3" r="0.8" fill="#000" stroke="none" stroke-width="0"/>
<line x1="163.9" y1="297.3" x2="163.9" y2="299.1" stroke="#9a9a9a" stroke-width="0.8"/>
<line x1="182.8" y1="297.3" x2="182.8" y2="299.1" stroke="#9a9a9a" stroke-width="0.8"/>
<text x="163.8" y="306.7" font-size="7.9" text-anchor="middle" fill="#231f20">LPS</text>
<text x="184.5" y="306.7" font-size="7.9" text-anchor="middle" fill="#231f20">LPS +</text>
<text x="184.7" y="315.5" font-size="7.9" text-anchor="middle" fill="#231f20">P[5]a</text>
<text x="134.5" y="265" font-size="9.3" text-anchor="middle" transform="rotate(-90 134.5 265)" fill="#231f20"><tspan font-style="italic">c</tspan> (s)</text>
<text x="319" y="215.7" font-size="10.2" text-anchor="start" font-weight="bold" fill="#000" stroke="#000" stroke-width="0.15">e</text>
<rect x="357" y="221.1" width="293" height="168.7" fill="none" stroke="#8a8a8a" stroke-width="0.9"/>
<line x1="357" y1="235.3" x2="650" y2="235.3" stroke="#8a8a8a" stroke-width="0.9"/>
<line x1="430.2" y1="221.1" x2="430.2" y2="389.8" stroke="#8a8a8a" stroke-width="0.9"/>
<line x1="503.6" y1="221.1" x2="503.6" y2="389.8" stroke="#8a8a8a" stroke-width="0.9"/>
<line x1="576.8" y1="221.1" x2="576.8" y2="389.8" stroke="#8a8a8a" stroke-width="0.9"/>
<text x="393.6" y="231.7" font-size="9.4" text-anchor="middle" fill="#231f20">Amikacin</text>
<text x="466.9" y="231.7" font-size="9.4" text-anchor="middle" fill="#231f20">Cefepime</text>
<text x="540.2" y="231.7" font-size="9.4" text-anchor="middle" fill="#231f20">Ceftazidime</text>
<text x="613.4" y="231.7" font-size="9.4" text-anchor="middle" fill="#231f20">Meropenem</text>
<line x1="353.6" y1="389.8" x2="357" y2="389.8" stroke="#777" stroke-width="0.8"/>
<text x="349.6" y="392.8" font-size="7.8" text-anchor="end" fill="#231f20">1</text>
<line x1="355.3" y1="386.14" x2="357" y2="386.14" stroke="#999" stroke-width="0.5"/>
<line x1="355.3" y1="382.82" x2="357" y2="382.82" stroke="#999" stroke-width="0.5"/>
<line x1="355.3" y1="379.8" x2="357" y2="379.8" stroke="#999" stroke-width="0.5"/>
<line x1="355.3" y1="377.01" x2="357" y2="377.01" stroke="#999" stroke-width="0.5"/>
<line x1="355.3" y1="374.44" x2="357" y2="374.44" stroke="#999" stroke-width="0.5"/>
<line x1="355.3" y1="372.04" x2="357" y2="372.04" stroke="#999" stroke-width="0.5"/>
<line x1="355.3" y1="369.8" x2="357" y2="369.8" stroke="#999" stroke-width="0.5"/>
<line x1="355.3" y1="367.69" x2="357" y2="367.69" stroke="#999" stroke-width="0.5"/>
<line x1="353.6" y1="365.7" x2="357" y2="365.7" stroke="#777" stroke-width="0.8"/>
<text x="349.6" y="368.7" font-size="7.8" text-anchor="end" fill="#231f20">2</text>
<line x1="355.3" y1="362.04" x2="357" y2="362.04" stroke="#999" stroke-width="0.5"/>
<line x1="355.3" y1="358.72" x2="357" y2="358.72" stroke="#999" stroke-width="0.5"/>
<line x1="355.3" y1="355.7" x2="357" y2="355.7" stroke="#999" stroke-width="0.5"/>
<line x1="355.3" y1="352.91" x2="357" y2="352.91" stroke="#999" stroke-width="0.5"/>
<line x1="355.3" y1="350.34" x2="357" y2="350.34" stroke="#999" stroke-width="0.5"/>
<line x1="355.3" y1="347.94" x2="357" y2="347.94" stroke="#999" stroke-width="0.5"/>
<line x1="355.3" y1="345.7" x2="357" y2="345.7" stroke="#999" stroke-width="0.5"/>
<line x1="355.3" y1="343.59" x2="357" y2="343.59" stroke="#999" stroke-width="0.5"/>
<line x1="353.6" y1="341.6" x2="357" y2="341.6" stroke="#777" stroke-width="0.8"/>
<text x="349.6" y="344.6" font-size="7.8" text-anchor="end" fill="#231f20">4</text>
<line x1="355.3" y1="337.94" x2="357" y2="337.94" stroke="#999" stroke-width="0.5"/>
<line x1="355.3" y1="334.62" x2="357" y2="334.62" stroke="#999" stroke-width="0.5"/>
<line x1="355.3" y1="331.6" x2="357" y2="331.6" stroke="#999" stroke-width="0.5"/>
<line x1="355.3" y1="328.81" x2="357" y2="328.81" stroke="#999" stroke-width="0.5"/>
<line x1="355.3" y1="326.24" x2="357" y2="326.24" stroke="#999" stroke-width="0.5"/>
<line x1="355.3" y1="323.84" x2="357" y2="323.84" stroke="#999" stroke-width="0.5"/>
<line x1="355.3" y1="321.6" x2="357" y2="321.6" stroke="#999" stroke-width="0.5"/>
<line x1="355.3" y1="319.49" x2="357" y2="319.49" stroke="#999" stroke-width="0.5"/>
<line x1="353.6" y1="317.5" x2="357" y2="317.5" stroke="#777" stroke-width="0.8"/>
<text x="349.6" y="320.5" font-size="7.8" text-anchor="end" fill="#231f20">8</text>
<line x1="355.3" y1="313.84" x2="357" y2="313.84" stroke="#999" stroke-width="0.5"/>
<line x1="355.3" y1="310.52" x2="357" y2="310.52" stroke="#999" stroke-width="0.5"/>
<line x1="355.3" y1="307.5" x2="357" y2="307.5" stroke="#999" stroke-width="0.5"/>
<line x1="355.3" y1="304.71" x2="357" y2="304.71" stroke="#999" stroke-width="0.5"/>
<line x1="355.3" y1="302.14" x2="357" y2="302.14" stroke="#999" stroke-width="0.5"/>
<line x1="355.3" y1="299.74" x2="357" y2="299.74" stroke="#999" stroke-width="0.5"/>
<line x1="355.3" y1="297.5" x2="357" y2="297.5" stroke="#999" stroke-width="0.5"/>
<line x1="355.3" y1="295.39" x2="357" y2="295.39" stroke="#999" stroke-width="0.5"/>
<line x1="353.6" y1="293.4" x2="357" y2="293.4" stroke="#777" stroke-width="0.8"/>
<text x="349.6" y="296.4" font-size="7.8" text-anchor="end" fill="#231f20">16</text>
<line x1="355.3" y1="289.74" x2="357" y2="289.74" stroke="#999" stroke-width="0.5"/>
<line x1="355.3" y1="286.42" x2="357" y2="286.42" stroke="#999" stroke-width="0.5"/>
<line x1="355.3" y1="283.4" x2="357" y2="283.4" stroke="#999" stroke-width="0.5"/>
<line x1="355.3" y1="280.61" x2="357" y2="280.61" stroke="#999" stroke-width="0.5"/>
<line x1="355.3" y1="278.04" x2="357" y2="278.04" stroke="#999" stroke-width="0.5"/>
<line x1="355.3" y1="275.64" x2="357" y2="275.64" stroke="#999" stroke-width="0.5"/>
<line x1="355.3" y1="273.4" x2="357" y2="273.4" stroke="#999" stroke-width="0.5"/>
<line x1="355.3" y1="271.29" x2="357" y2="271.29" stroke="#999" stroke-width="0.5"/>
<line x1="353.6" y1="269.3" x2="357" y2="269.3" stroke="#777" stroke-width="0.8"/>
<text x="349.6" y="272.3" font-size="7.8" text-anchor="end" fill="#231f20">32</text>
<line x1="355.3" y1="265.64" x2="357" y2="265.64" stroke="#999" stroke-width="0.5"/>
<line x1="355.3" y1="262.32" x2="357" y2="262.32" stroke="#999" stroke-width="0.5"/>
<line x1="355.3" y1="259.3" x2="357" y2="259.3" stroke="#999" stroke-width="0.5"/>
<line x1="355.3" y1="256.51" x2="357" y2="256.51" stroke="#999" stroke-width="0.5"/>
<line x1="355.3" y1="253.94" x2="357" y2="253.94" stroke="#999" stroke-width="0.5"/>
<line x1="355.3" y1="251.54" x2="357" y2="251.54" stroke="#999" stroke-width="0.5"/>
<line x1="355.3" y1="249.3" x2="357" y2="249.3" stroke="#999" stroke-width="0.5"/>
<line x1="355.3" y1="247.19" x2="357" y2="247.19" stroke="#999" stroke-width="0.5"/>
<line x1="353.6" y1="245.2" x2="357" y2="245.2" stroke="#777" stroke-width="0.8"/>
<text x="349.6" y="248.2" font-size="7.8" text-anchor="end" fill="#231f20">64</text>
<line x1="355.3" y1="241.54" x2="357" y2="241.54" stroke="#999" stroke-width="0.5"/>
<line x1="355.3" y1="238.22" x2="357" y2="238.22" stroke="#999" stroke-width="0.5"/>
<line x1="355.3" y1="235.2" x2="357" y2="235.2" stroke="#999" stroke-width="0.5"/>
<line x1="355.3" y1="232.41" x2="357" y2="232.41" stroke="#999" stroke-width="0.5"/>
<line x1="355.3" y1="229.84" x2="357" y2="229.84" stroke="#999" stroke-width="0.5"/>
<line x1="355.3" y1="227.44" x2="357" y2="227.44" stroke="#999" stroke-width="0.5"/>
<line x1="355.3" y1="225.2" x2="357" y2="225.2" stroke="#999" stroke-width="0.5"/>
<line x1="355.3" y1="223.09" x2="357" y2="223.09" stroke="#999" stroke-width="0.5"/>
<line x1="353.6" y1="221.1" x2="357" y2="221.1" stroke="#777" stroke-width="0.8"/>
<text x="349.6" y="224.1" font-size="7.8" text-anchor="end" fill="#231f20">128</text>
<rect x="360.7" y="269.3" width="4.8" height="120.5" fill="#dadada" stroke="#8a8a8a" stroke-width="0.75"/>
<rect x="365.6" y="341.6" width="4.3" height="48.2" fill="#1f6f97" stroke="#1d5a7a" stroke-width="0.4"/>
<line x1="363.6" y1="389.8" x2="363.6" y2="392" stroke="#777" stroke-width="0.8"/>
<text x="365.5" y="397.3" font-size="8" text-anchor="end" transform="rotate(-45 365.5 397.3)" fill="#231f20">5550</text>
<rect x="371.92" y="293.4" width="4.8" height="96.4" fill="#dadada" stroke="#8a8a8a" stroke-width="0.75"/>
<rect x="376.82" y="341.6" width="4.3" height="48.2" fill="#1f6f97" stroke="#1d5a7a" stroke-width="0.4"/>
<line x1="375.7" y1="389.8" x2="375.7" y2="392" stroke="#777" stroke-width="0.8"/>
<text x="377.6" y="397.3" font-size="8" text-anchor="end" transform="rotate(-45 377.6 397.3)" fill="#231f20">5842</text>
<rect x="383.14" y="269.3" width="4.8" height="120.5" fill="#dadada" stroke="#8a8a8a" stroke-width="0.75"/>
<rect x="388.04" y="341.6" width="4.3" height="48.2" fill="#1f6f97" stroke="#1d5a7a" stroke-width="0.4"/>
<line x1="387.8" y1="389.8" x2="387.8" y2="392" stroke="#777" stroke-width="0.8"/>
<text x="389.7" y="397.3" font-size="8" text-anchor="end" transform="rotate(-45 389.7 397.3)" fill="#231f20">5827</text>
<rect x="394.36" y="293.4" width="4.8" height="96.4" fill="#dadada" stroke="#8a8a8a" stroke-width="0.75"/>
<rect x="399.26" y="341.6" width="4.3" height="48.2" fill="#1f6f97" stroke="#1d5a7a" stroke-width="0.4"/>
<line x1="399.9" y1="389.8" x2="399.9" y2="392" stroke="#777" stroke-width="0.8"/>
<text x="401.8" y="397.3" font-size="8" text-anchor="end" transform="rotate(-45 401.8 397.3)" fill="#231f20">5832</text>
<rect x="405.58" y="317.5" width="4.8" height="72.3" fill="#dadada" stroke="#8a8a8a" stroke-width="0.75"/>
<rect x="410.48" y="341.6" width="4.3" height="48.2" fill="#1f6f97" stroke="#1d5a7a" stroke-width="0.4"/>
<line x1="412" y1="389.8" x2="412" y2="392" stroke="#777" stroke-width="0.8"/>
<text x="413.9" y="397.3" font-size="8" text-anchor="end" transform="rotate(-45 413.9 397.3)" fill="#231f20">5539</text>
<rect x="416.8" y="293.4" width="4.8" height="96.4" fill="#dadada" stroke="#8a8a8a" stroke-width="0.75"/>
<rect x="421.7" y="341.6" width="4.3" height="48.2" fill="#1f6f97" stroke="#1d5a7a" stroke-width="0.4"/>
<line x1="424.1" y1="389.8" x2="424.1" y2="392" stroke="#777" stroke-width="0.8"/>
<text x="426" y="397.3" font-size="8" text-anchor="end" transform="rotate(-45 426 397.3)" fill="#231f20">5834</text>
<rect x="433.9" y="293.4" width="4.8" height="96.4" fill="#dadada" stroke="#8a8a8a" stroke-width="0.75"/>
<rect x="438.8" y="365.7" width="4.3" height="24.1" fill="#1f6f97" stroke="#1d5a7a" stroke-width="0.4"/>
<line x1="436.8" y1="389.8" x2="436.8" y2="392" stroke="#777" stroke-width="0.8"/>
<text x="438.7" y="397.3" font-size="8" text-anchor="end" transform="rotate(-45 438.7 397.3)" fill="#231f20">5550</text>
<rect x="445.12" y="269.3" width="4.8" height="120.5" fill="#dadada" stroke="#8a8a8a" stroke-width="0.75"/>
<rect x="450.02" y="341.6" width="4.3" height="48.2" fill="#1f6f97" stroke="#1d5a7a" stroke-width="0.4"/>
<line x1="448.9" y1="389.8" x2="448.9" y2="392" stroke="#777" stroke-width="0.8"/>
<text x="450.8" y="397.3" font-size="8" text-anchor="end" transform="rotate(-45 450.8 397.3)" fill="#231f20">5842</text>
<rect x="456.34" y="269.3" width="4.8" height="120.5" fill="#dadada" stroke="#8a8a8a" stroke-width="0.75"/>
<rect x="461.24" y="293.4" width="4.3" height="96.4" fill="#1f6f97" stroke="#1d5a7a" stroke-width="0.4"/>
<line x1="461" y1="389.8" x2="461" y2="392" stroke="#777" stroke-width="0.8"/>
<text x="462.9" y="397.3" font-size="8" text-anchor="end" transform="rotate(-45 462.9 397.3)" fill="#231f20">5827</text>
<rect x="467.56" y="317.5" width="4.8" height="72.3" fill="#dadada" stroke="#8a8a8a" stroke-width="0.75"/>
<rect x="472.46" y="365.7" width="4.3" height="24.1" fill="#1f6f97" stroke="#1d5a7a" stroke-width="0.4"/>
<line x1="473.1" y1="389.8" x2="473.1" y2="392" stroke="#777" stroke-width="0.8"/>
<text x="475" y="397.3" font-size="8" text-anchor="end" transform="rotate(-45 475 397.3)" fill="#231f20">5832</text>
<rect x="478.78" y="317.5" width="4.8" height="72.3" fill="#dadada" stroke="#8a8a8a" stroke-width="0.75"/>
<rect x="483.68" y="365.7" width="4.3" height="24.1" fill="#1f6f97" stroke="#1d5a7a" stroke-width="0.4"/>
<line x1="485.2" y1="389.8" x2="485.2" y2="392" stroke="#777" stroke-width="0.8"/>
<text x="487.1" y="397.3" font-size="8" text-anchor="end" transform="rotate(-45 487.1 397.3)" fill="#231f20">5539</text>
<rect x="490" y="245.2" width="4.8" height="144.6" fill="#dadada" stroke="#8a8a8a" stroke-width="0.75"/>
<rect x="494.9" y="293.4" width="4.3" height="96.4" fill="#1f6f97" stroke="#1d5a7a" stroke-width="0.4"/>
<line x1="497.3" y1="389.8" x2="497.3" y2="392" stroke="#777" stroke-width="0.8"/>
<text x="499.2" y="397.3" font-size="8" text-anchor="end" transform="rotate(-45 499.2 397.3)" fill="#231f20">5834</text>
<rect x="507.3" y="293.4" width="4.8" height="96.4" fill="#dadada" stroke="#8a8a8a" stroke-width="0.75"/>
<rect x="512.2" y="317.5" width="4.3" height="72.3" fill="#1f6f97" stroke="#1d5a7a" stroke-width="0.4"/>
<line x1="510.2" y1="389.8" x2="510.2" y2="392" stroke="#777" stroke-width="0.8"/>
<text x="512.1" y="397.3" font-size="8" text-anchor="end" transform="rotate(-45 512.1 397.3)" fill="#231f20">5550</text>
<rect x="518.52" y="269.3" width="4.8" height="120.5" fill="#dadada" stroke="#8a8a8a" stroke-width="0.75"/>
<rect x="523.42" y="317.5" width="4.3" height="72.3" fill="#1f6f97" stroke="#1d5a7a" stroke-width="0.4"/>
<line x1="522.3" y1="389.8" x2="522.3" y2="392" stroke="#777" stroke-width="0.8"/>
<text x="524.2" y="397.3" font-size="8" text-anchor="end" transform="rotate(-45 524.2 397.3)" fill="#231f20">5842</text>
<rect x="529.74" y="245.2" width="4.8" height="144.6" fill="#dadada" stroke="#8a8a8a" stroke-width="0.75"/>
<rect x="534.64" y="293.4" width="4.3" height="96.4" fill="#1f6f97" stroke="#1d5a7a" stroke-width="0.4"/>
<line x1="534.4" y1="389.8" x2="534.4" y2="392" stroke="#777" stroke-width="0.8"/>
<text x="536.3" y="397.3" font-size="8" text-anchor="end" transform="rotate(-45 536.3 397.3)" fill="#231f20">5827</text>
<rect x="540.96" y="293.4" width="4.8" height="96.4" fill="#dadada" stroke="#8a8a8a" stroke-width="0.75"/>
<rect x="545.86" y="341.6" width="4.3" height="48.2" fill="#1f6f97" stroke="#1d5a7a" stroke-width="0.4"/>
<line x1="546.5" y1="389.8" x2="546.5" y2="392" stroke="#777" stroke-width="0.8"/>
<text x="548.4" y="397.3" font-size="8" text-anchor="end" transform="rotate(-45 548.4 397.3)" fill="#231f20">5832</text>
<rect x="552.18" y="317.5" width="4.8" height="72.3" fill="#dadada" stroke="#8a8a8a" stroke-width="0.75"/>
<rect x="557.08" y="341.6" width="4.3" height="48.2" fill="#1f6f97" stroke="#1d5a7a" stroke-width="0.4"/>
<line x1="558.6" y1="389.8" x2="558.6" y2="392" stroke="#777" stroke-width="0.8"/>
<text x="560.5" y="397.3" font-size="8" text-anchor="end" transform="rotate(-45 560.5 397.3)" fill="#231f20">5539</text>
<rect x="563.4" y="245.2" width="4.8" height="144.6" fill="#dadada" stroke="#8a8a8a" stroke-width="0.75"/>
<rect x="568.3" y="269.3" width="4.3" height="120.5" fill="#1f6f97" stroke="#1d5a7a" stroke-width="0.4"/>
<line x1="570.7" y1="389.8" x2="570.7" y2="392" stroke="#777" stroke-width="0.8"/>
<text x="572.6" y="397.3" font-size="8" text-anchor="end" transform="rotate(-45 572.6 397.3)" fill="#231f20">5834</text>
<rect x="580.5" y="317.5" width="4.8" height="72.3" fill="#dadada" stroke="#8a8a8a" stroke-width="0.75"/>
<rect x="585.4" y="341.6" width="4.3" height="48.2" fill="#1f6f97" stroke="#1d5a7a" stroke-width="0.4"/>
<line x1="583.4" y1="389.8" x2="583.4" y2="392" stroke="#777" stroke-width="0.8"/>
<text x="585.3" y="397.3" font-size="8" text-anchor="end" transform="rotate(-45 585.3 397.3)" fill="#231f20">5550</text>
<rect x="591.72" y="317.5" width="4.8" height="72.3" fill="#dadada" stroke="#8a8a8a" stroke-width="0.75"/>
<rect x="596.62" y="365.7" width="4.3" height="24.1" fill="#1f6f97" stroke="#1d5a7a" stroke-width="0.4"/>
<line x1="595.5" y1="389.8" x2="595.5" y2="392" stroke="#777" stroke-width="0.8"/>
<text x="597.4" y="397.3" font-size="8" text-anchor="end" transform="rotate(-45 597.4 397.3)" fill="#231f20">5842</text>
<rect x="602.94" y="293.4" width="4.8" height="96.4" fill="#dadada" stroke="#8a8a8a" stroke-width="0.75"/>
<rect x="607.84" y="341.6" width="4.3" height="48.2" fill="#1f6f97" stroke="#1d5a7a" stroke-width="0.4"/>
<line x1="607.6" y1="389.8" x2="607.6" y2="392" stroke="#777" stroke-width="0.8"/>
<text x="609.5" y="397.3" font-size="8" text-anchor="end" transform="rotate(-45 609.5 397.3)" fill="#231f20">5827</text>
<rect x="614.16" y="317.5" width="4.8" height="72.3" fill="#dadada" stroke="#8a8a8a" stroke-width="0.75"/>
<rect x="619.06" y="365.7" width="4.3" height="24.1" fill="#1f6f97" stroke="#1d5a7a" stroke-width="0.4"/>
<line x1="619.7" y1="389.8" x2="619.7" y2="392" stroke="#777" stroke-width="0.8"/>
<text x="621.6" y="397.3" font-size="8" text-anchor="end" transform="rotate(-45 621.6 397.3)" fill="#231f20">5832</text>
<rect x="625.38" y="317.5" width="4.8" height="72.3" fill="#dadada" stroke="#8a8a8a" stroke-width="0.75"/>
<rect x="630.28" y="365.7" width="4.3" height="24.1" fill="#1f6f97" stroke="#1d5a7a" stroke-width="0.4"/>
<line x1="631.8" y1="389.8" x2="631.8" y2="392" stroke="#777" stroke-width="0.8"/>
<text x="633.7" y="397.3" font-size="8" text-anchor="end" transform="rotate(-45 633.7 397.3)" fill="#231f20">5539</text>
<rect x="636.6" y="245.2" width="4.8" height="144.6" fill="#dadada" stroke="#8a8a8a" stroke-width="0.75"/>
<rect x="641.5" y="293.4" width="4.3" height="96.4" fill="#1f6f97" stroke="#1d5a7a" stroke-width="0.4"/>
<line x1="643.9" y1="389.8" x2="643.9" y2="392" stroke="#777" stroke-width="0.8"/>
<text x="645.8" y="397.3" font-size="8" text-anchor="end" transform="rotate(-45 645.8 397.3)" fill="#231f20">5834</text>
<line x1="357" y1="317.5" x2="430.2" y2="317.5" stroke="#f4dc3a" stroke-width="1"/>
<line x1="357" y1="269.3" x2="430.2" y2="269.3" stroke="#ee7f33" stroke-width="1.1"/>
<line x1="430.2" y1="317.5" x2="503.6" y2="317.5" stroke="#f4dc3a" stroke-width="1"/>
<line x1="430.2" y1="269.3" x2="503.6" y2="269.3" stroke="#ee7f33" stroke-width="1.1"/>
<line x1="503.6" y1="317.5" x2="575.3" y2="317.5" stroke="#f4dc3a" stroke-width="1"/>
<line x1="503.6" y1="269.3" x2="575.3" y2="269.3" stroke="#ee7f33" stroke-width="1.1"/>
<line x1="576.8" y1="365.7" x2="650" y2="365.7" stroke="#f4dc3a" stroke-width="1"/>
<line x1="576.8" y1="317.5" x2="650" y2="317.5" stroke="#ee7f33" stroke-width="1.1"/>
<line x1="382.3" y1="216.5" x2="395.6" y2="216.5" stroke="#f4dc3a" stroke-width="1.2"/>
<text x="397.2" y="219" font-size="8" text-anchor="start" fill="#231f20">Intermediate breakpoint</text>
<line x1="516" y1="216.5" x2="525.5" y2="216.5" stroke="#ee7f33" stroke-width="1.2"/>
<text x="528.6" y="219" font-size="8" text-anchor="start" fill="#231f20">Resistant breakpoint</text>
<rect x="582.3" y="243.3" width="18.2" height="8.2" fill="#d9d9d9" stroke="#8c8c8c" stroke-width="0.6"/>
<rect x="582.3" y="253.4" width="18.2" height="8.2" fill="#1f6f97" stroke="#1d5a7a" stroke-width="0.5"/>
<text x="601.4" y="250.3" font-size="8" text-anchor="start" fill="#231f20">PBS</text>
<text x="601.4" y="260.4" font-size="8" text-anchor="start" fill="#231f20">P[5]a</text>
<text x="331.6" y="306.3" font-size="9.55" text-anchor="middle" transform="rotate(-90 331.6 306.3)" fill="#231f20">Antibiotic dose (µg/ml)</text>
<text x="0.9" y="436.5" font-size="10.2" text-anchor="start" font-weight="bold" fill="#000" stroke="#000" stroke-width="0.15">f</text>
<line x1="38.1" y1="439.9" x2="38.1" y2="543.3" stroke="#9a9a9a" stroke-width="0.9"/>
<line x1="38.1" y1="543.3" x2="233.1" y2="543.3" stroke="#9a9a9a" stroke-width="0.9"/>
<line x1="33.7" y1="442.9" x2="38.1" y2="442.9" stroke="#9a9a9a" stroke-width="0.8"/>
<text x="32.7" y="445.65" font-size="7.7" text-anchor="end" fill="#231f20">128</text>
<line x1="33.7" y1="464.77" x2="38.1" y2="464.77" stroke="#9a9a9a" stroke-width="0.8"/>
<text x="32.7" y="467.52" font-size="7.7" text-anchor="end" fill="#231f20">32</text>
<line x1="33.7" y1="486.65" x2="38.1" y2="486.65" stroke="#9a9a9a" stroke-width="0.8"/>
<text x="32.7" y="489.4" font-size="7.7" text-anchor="end" fill="#231f20">8</text>
<line x1="33.7" y1="508.52" x2="38.1" y2="508.52" stroke="#9a9a9a" stroke-width="0.8"/>
<text x="32.7" y="511.27" font-size="7.7" text-anchor="end" fill="#231f20">2</text>
<line x1="33.7" y1="530.4" x2="38.1" y2="530.4" stroke="#9a9a9a" stroke-width="0.8"/>
<text x="32.7" y="533.15" font-size="7.7" text-anchor="end" fill="#231f20">0.5</text>
<line x1="38.4" y1="543.3" x2="38.4" y2="546.9" stroke="#9a9a9a" stroke-width="0.8"/>
<text x="38.4" y="555.4" font-size="7.8" text-anchor="middle" fill="#231f20">0</text>
<line x1="64.4" y1="543.3" x2="64.4" y2="546.9" stroke="#9a9a9a" stroke-width="0.8"/>
<text x="64.4" y="555.4" font-size="7.8" text-anchor="middle" fill="#231f20">2</text>
<line x1="90.4" y1="543.3" x2="90.4" y2="546.9" stroke="#9a9a9a" stroke-width="0.8"/>
<text x="90.4" y="555.4" font-size="7.8" text-anchor="middle" fill="#231f20">4</text>
<line x1="116.4" y1="543.3" x2="116.4" y2="546.9" stroke="#9a9a9a" stroke-width="0.8"/>
<text x="116.4" y="555.4" font-size="7.8" text-anchor="middle" fill="#231f20">6</text>
<line x1="142.4" y1="543.3" x2="142.4" y2="546.9" stroke="#9a9a9a" stroke-width="0.8"/>
<text x="142.4" y="555.4" font-size="7.8" text-anchor="middle" fill="#231f20">8</text>
<line x1="168.4" y1="543.3" x2="168.4" y2="546.9" stroke="#9a9a9a" stroke-width="0.8"/>
<text x="168.4" y="555.4" font-size="7.8" text-anchor="middle" fill="#231f20">10</text>
<line x1="194.4" y1="543.3" x2="194.4" y2="546.9" stroke="#9a9a9a" stroke-width="0.8"/>
<text x="194.4" y="555.4" font-size="7.8" text-anchor="middle" fill="#231f20">12</text>
<line x1="220.4" y1="543.3" x2="220.4" y2="546.9" stroke="#9a9a9a" stroke-width="0.8"/>
<text x="220.4" y="555.4" font-size="7.8" text-anchor="middle" fill="#231f20">14</text>
<text x="12.9" y="493.4" font-size="9.55" text-anchor="middle" transform="rotate(-90 12.9 493.4)" fill="#231f20">Antibiotic (Log<tspan font-size="5.6" dy="-3.2">2</tspan><tspan dy="3.2">)</tspan></text>
<line x1="38.1" y1="464.77" x2="228.9" y2="464.77" stroke="#f6b899" stroke-width="1" stroke-dasharray="9 7.6"/>
<line x1="38.1" y1="486.65" x2="228.9" y2="486.65" stroke="#f8e08c" stroke-width="1" stroke-dasharray="9 7.6"/>
<polyline points="51.4,519.46 64.4,508.52 77.4,497.59 90.4,497.59 103.4,486.65 116.4,475.71 129.4,486.65 142.4,475.71 155.4,475.71 168.4,475.71 181.4,464.77 194.4,464.77 207.4,453.84 220.4,453.84" fill="none" stroke="#6e6e6e" stroke-width="0.6" stroke-linejoin="round"/>
<polyline points="51.4,541.34 64.4,541.34 77.4,541.34 90.4,530.4 103.4,519.46 116.4,519.46 129.4,530.4 142.4,530.4 155.4,519.46 168.4,530.4 181.4,530.4 194.4,508.52 207.4,519.46 220.4,508.52" fill="none" stroke="#6e6e6e" stroke-width="0.6" stroke-linejoin="round"/>
<rect x="48.95" y="517.01" width="4.9" height="4.9" fill="#dcdcdc" stroke="#808080" stroke-width="0.6"/>
<rect x="61.95" y="506.07" width="4.9" height="4.9" fill="#dcdcdc" stroke="#808080" stroke-width="0.6"/>
<rect x="74.95" y="495.14" width="4.9" height="4.9" fill="#dcdcdc" stroke="#808080" stroke-width="0.6"/>
<rect x="87.95" y="495.14" width="4.9" height="4.9" fill="#dcdcdc" stroke="#808080" stroke-width="0.6"/>
<rect x="100.95" y="484.2" width="4.9" height="4.9" fill="#dcdcdc" stroke="#808080" stroke-width="0.6"/>
<rect x="113.95" y="473.26" width="4.9" height="4.9" fill="#dcdcdc" stroke="#808080" stroke-width="0.6"/>
<rect x="126.95" y="484.2" width="4.9" height="4.9" fill="#dcdcdc" stroke="#808080" stroke-width="0.6"/>
<rect x="139.95" y="473.26" width="4.9" height="4.9" fill="#dcdcdc" stroke="#808080" stroke-width="0.6"/>
<rect x="152.95" y="473.26" width="4.9" height="4.9" fill="#dcdcdc" stroke="#808080" stroke-width="0.6"/>
<rect x="165.95" y="473.26" width="4.9" height="4.9" fill="#dcdcdc" stroke="#808080" stroke-width="0.6"/>
<rect x="178.95" y="462.32" width="4.9" height="4.9" fill="#dcdcdc" stroke="#808080" stroke-width="0.6"/>
<rect x="191.95" y="462.32" width="4.9" height="4.9" fill="#dcdcdc" stroke="#808080" stroke-width="0.6"/>
<rect x="204.95" y="451.39" width="4.9" height="4.9" fill="#dcdcdc" stroke="#808080" stroke-width="0.6"/>
<rect x="217.95" y="451.39" width="4.9" height="4.9" fill="#dcdcdc" stroke="#808080" stroke-width="0.6"/>
<circle cx="51.4" cy="541.34" r="2.65" fill="#1f6f97" stroke="#1a5578" stroke-width="0.4"/>
<circle cx="64.4" cy="541.34" r="2.65" fill="#1f6f97" stroke="#1a5578" stroke-width="0.4"/>
<circle cx="77.4" cy="541.34" r="2.65" fill="#1f6f97" stroke="#1a5578" stroke-width="0.4"/>
<circle cx="90.4" cy="530.4" r="2.65" fill="#1f6f97" stroke="#1a5578" stroke-width="0.4"/>
<circle cx="103.4" cy="519.46" r="2.65" fill="#1f6f97" stroke="#1a5578" stroke-width="0.4"/>
<circle cx="116.4" cy="519.46" r="2.65" fill="#1f6f97" stroke="#1a5578" stroke-width="0.4"/>
<circle cx="129.4" cy="530.4" r="2.65" fill="#1f6f97" stroke="#1a5578" stroke-width="0.4"/>
<circle cx="142.4" cy="530.4" r="2.65" fill="#1f6f97" stroke="#1a5578" stroke-width="0.4"/>
<circle cx="155.4" cy="519.46" r="2.65" fill="#1f6f97" stroke="#1a5578" stroke-width="0.4"/>
<circle cx="168.4" cy="530.4" r="2.65" fill="#1f6f97" stroke="#1a5578" stroke-width="0.4"/>
<circle cx="181.4" cy="530.4" r="2.65" fill="#1f6f97" stroke="#1a5578" stroke-width="0.4"/>
<circle cx="194.4" cy="508.52" r="2.65" fill="#1f6f97" stroke="#1a5578" stroke-width="0.4"/>
<circle cx="207.4" cy="519.46" r="2.65" fill="#1f6f97" stroke="#1a5578" stroke-width="0.4"/>
<circle cx="220.4" cy="508.52" r="2.65" fill="#1f6f97" stroke="#1a5578" stroke-width="0.4"/>
<line x1="43.8" y1="444.3" x2="68.9" y2="444.3" stroke="#6a6a6a" stroke-width="0.7"/>
<rect x="54.25" y="442.2" width="4.2" height="4.2" fill="#e2e2e2" stroke="#8a8a8a" stroke-width="0.6"/>
<line x1="43.8" y1="457.8" x2="68.9" y2="457.8" stroke="#c8c8c8" stroke-width="1.4"/>
<circle cx="56.35" cy="457.8" r="2.6" fill="#1f6f97" stroke="#1a5578" stroke-width="0.4"/>
<text x="72.1" y="447.5" font-size="8" text-anchor="start" fill="#231f20">Aztreonam</text>
<text x="72.1" y="461" font-size="8" text-anchor="start" fill="#231f20">+P[5]a</text>
<text x="238.3" y="434.8" font-size="10.2" text-anchor="start" font-weight="bold" fill="#000" stroke="#000" stroke-width="0.15">g</text>
<line x1="261.6" y1="440" x2="261.6" y2="543.3" stroke="#9a9a9a" stroke-width="0.9"/>
<line x1="261.6" y1="543.3" x2="456.5" y2="543.3" stroke="#9a9a9a" stroke-width="0.9"/>
<line x1="257.2" y1="443" x2="261.6" y2="443" stroke="#9a9a9a" stroke-width="0.8"/>
<text x="256.2" y="445.75" font-size="7.7" text-anchor="end" fill="#231f20">128</text>
<line x1="257.2" y1="464.82" x2="261.6" y2="464.82" stroke="#9a9a9a" stroke-width="0.8"/>
<text x="256.2" y="467.57" font-size="7.7" text-anchor="end" fill="#231f20">32</text>
<line x1="257.2" y1="486.65" x2="261.6" y2="486.65" stroke="#9a9a9a" stroke-width="0.8"/>
<text x="256.2" y="489.4" font-size="7.7" text-anchor="end" fill="#231f20">8</text>
<line x1="257.2" y1="508.47" x2="261.6" y2="508.47" stroke="#9a9a9a" stroke-width="0.8"/>
<text x="256.2" y="511.22" font-size="7.7" text-anchor="end" fill="#231f20">2</text>
<line x1="257.2" y1="530.3" x2="261.6" y2="530.3" stroke="#9a9a9a" stroke-width="0.8"/>
<text x="256.2" y="533.05" font-size="7.7" text-anchor="end" fill="#231f20">0.5</text>
<line x1="261.9" y1="543.3" x2="261.9" y2="546.9" stroke="#9a9a9a" stroke-width="0.8"/>
<text x="261.9" y="555.4" font-size="7.8" text-anchor="middle" fill="#231f20">0</text>
<line x1="287.9" y1="543.3" x2="287.9" y2="546.9" stroke="#9a9a9a" stroke-width="0.8"/>
<text x="287.9" y="555.4" font-size="7.8" text-anchor="middle" fill="#231f20">2</text>
<line x1="313.9" y1="543.3" x2="313.9" y2="546.9" stroke="#9a9a9a" stroke-width="0.8"/>
<text x="313.9" y="555.4" font-size="7.8" text-anchor="middle" fill="#231f20">4</text>
<line x1="339.9" y1="543.3" x2="339.9" y2="546.9" stroke="#9a9a9a" stroke-width="0.8"/>
<text x="339.9" y="555.4" font-size="7.8" text-anchor="middle" fill="#231f20">6</text>
<line x1="365.9" y1="543.3" x2="365.9" y2="546.9" stroke="#9a9a9a" stroke-width="0.8"/>
<text x="365.9" y="555.4" font-size="7.8" text-anchor="middle" fill="#231f20">8</text>
<line x1="391.9" y1="543.3" x2="391.9" y2="546.9" stroke="#9a9a9a" stroke-width="0.8"/>
<text x="391.9" y="555.4" font-size="7.8" text-anchor="middle" fill="#231f20">10</text>
<line x1="417.9" y1="543.3" x2="417.9" y2="546.9" stroke="#9a9a9a" stroke-width="0.8"/>
<text x="417.9" y="555.4" font-size="7.8" text-anchor="middle" fill="#231f20">12</text>
<line x1="443.9" y1="543.3" x2="443.9" y2="546.9" stroke="#9a9a9a" stroke-width="0.8"/>
<text x="443.9" y="555.4" font-size="7.8" text-anchor="middle" fill="#231f20">14</text>
<line x1="261.6" y1="464.82" x2="452.4" y2="464.82" stroke="#f6b899" stroke-width="1" stroke-dasharray="9 7.6"/>
<line x1="261.6" y1="486.65" x2="452.4" y2="486.65" stroke="#f8e08c" stroke-width="1" stroke-dasharray="9 7.6"/>
<polyline points="274.9,519.39 287.9,497.56 300.9,464.82 313.9,443 326.9,443 339.9,443 352.9,443 365.9,443 378.9,443 391.9,443 404.9,443 417.9,443 430.9,443 443.9,443" fill="none" stroke="#6e6e6e" stroke-width="0.6" stroke-linejoin="round"/>
<polyline points="274.9,519.39 287.9,519.39 300.9,530.3 313.9,519.39 326.9,508.47 339.9,508.47 352.9,508.47 365.9,497.56 378.9,508.47 391.9,508.47 404.9,497.56 417.9,508.47 430.9,508.47 443.9,508.47" fill="none" stroke="#6e6e6e" stroke-width="0.6" stroke-linejoin="round"/>
<rect x="272.45" y="516.94" width="4.9" height="4.9" fill="#dcdcdc" stroke="#808080" stroke-width="0.6"/>
<rect x="285.45" y="495.11" width="4.9" height="4.9" fill="#dcdcdc" stroke="#808080" stroke-width="0.6"/>
<rect x="298.45" y="462.38" width="4.9" height="4.9" fill="#dcdcdc" stroke="#808080" stroke-width="0.6"/>
<rect x="311.45" y="440.55" width="4.9" height="4.9" fill="#dcdcdc" stroke="#808080" stroke-width="0.6"/>
<rect x="324.45" y="440.55" width="4.9" height="4.9" fill="#dcdcdc" stroke="#808080" stroke-width="0.6"/>
<rect x="337.45" y="440.55" width="4.9" height="4.9" fill="#dcdcdc" stroke="#808080" stroke-width="0.6"/>
<rect x="350.45" y="440.55" width="4.9" height="4.9" fill="#dcdcdc" stroke="#808080" stroke-width="0.6"/>
<rect x="363.45" y="440.55" width="4.9" height="4.9" fill="#dcdcdc" stroke="#808080" stroke-width="0.6"/>
<rect x="376.45" y="440.55" width="4.9" height="4.9" fill="#dcdcdc" stroke="#808080" stroke-width="0.6"/>
<rect x="389.45" y="440.55" width="4.9" height="4.9" fill="#dcdcdc" stroke="#808080" stroke-width="0.6"/>
<rect x="402.45" y="440.55" width="4.9" height="4.9" fill="#dcdcdc" stroke="#808080" stroke-width="0.6"/>
<rect x="415.45" y="440.55" width="4.9" height="4.9" fill="#dcdcdc" stroke="#808080" stroke-width="0.6"/>
<rect x="428.45" y="440.55" width="4.9" height="4.9" fill="#dcdcdc" stroke="#808080" stroke-width="0.6"/>
<rect x="441.45" y="440.55" width="4.9" height="4.9" fill="#dcdcdc" stroke="#808080" stroke-width="0.6"/>
<circle cx="274.9" cy="519.39" r="2.65" fill="#1f6f97" stroke="#1a5578" stroke-width="0.4"/>
<circle cx="287.9" cy="519.39" r="2.65" fill="#1f6f97" stroke="#1a5578" stroke-width="0.4"/>
<circle cx="300.9" cy="530.3" r="2.65" fill="#1f6f97" stroke="#1a5578" stroke-width="0.4"/>
<circle cx="313.9" cy="519.39" r="2.65" fill="#1f6f97" stroke="#1a5578" stroke-width="0.4"/>
<circle cx="326.9" cy="508.47" r="2.65" fill="#1f6f97" stroke="#1a5578" stroke-width="0.4"/>
<circle cx="339.9" cy="508.47" r="2.65" fill="#1f6f97" stroke="#1a5578" stroke-width="0.4"/>
<circle cx="352.9" cy="508.47" r="2.65" fill="#1f6f97" stroke="#1a5578" stroke-width="0.4"/>
<circle cx="365.9" cy="497.56" r="2.65" fill="#1f6f97" stroke="#1a5578" stroke-width="0.4"/>
<circle cx="378.9" cy="508.47" r="2.65" fill="#1f6f97" stroke="#1a5578" stroke-width="0.4"/>
<circle cx="391.9" cy="508.47" r="2.65" fill="#1f6f97" stroke="#1a5578" stroke-width="0.4"/>
<circle cx="404.9" cy="497.56" r="2.65" fill="#1f6f97" stroke="#1a5578" stroke-width="0.4"/>
<circle cx="417.9" cy="508.47" r="2.65" fill="#1f6f97" stroke="#1a5578" stroke-width="0.4"/>
<circle cx="430.9" cy="508.47" r="2.65" fill="#1f6f97" stroke="#1a5578" stroke-width="0.4"/>
<circle cx="443.9" cy="508.47" r="2.65" fill="#1f6f97" stroke="#1a5578" stroke-width="0.4"/>
<line x1="377.8" y1="520.6" x2="401.3" y2="520.6" stroke="#6a6a6a" stroke-width="0.7"/>
<rect x="387.45" y="518.5" width="4.2" height="4.2" fill="#e2e2e2" stroke="#8a8a8a" stroke-width="0.6"/>
<line x1="377.8" y1="534" x2="401.3" y2="534" stroke="#c8c8c8" stroke-width="1.4"/>
<circle cx="389.55" cy="534" r="2.6" fill="#1f6f97" stroke="#1a5578" stroke-width="0.4"/>
<text x="404.5" y="523.8" font-size="8" text-anchor="start" fill="#231f20">Cefepime</text>
<text x="404.5" y="537.2" font-size="8" text-anchor="start" fill="#231f20">+P[5]a</text>
<text x="-0.2" y="558.7" font-size="10.2" text-anchor="start" font-weight="bold" fill="#000" stroke="#000" stroke-width="0.15">h</text>
<line x1="37.9" y1="565.7" x2="37.9" y2="668.8" stroke="#9a9a9a" stroke-width="0.9"/>
<line x1="37.9" y1="668.8" x2="233.1" y2="668.8" stroke="#9a9a9a" stroke-width="0.9"/>
<line x1="33.5" y1="568.7" x2="37.9" y2="568.7" stroke="#9a9a9a" stroke-width="0.8"/>
<text x="32.5" y="571.45" font-size="7.7" text-anchor="end" fill="#231f20">128</text>
<line x1="33.5" y1="590.43" x2="37.9" y2="590.43" stroke="#9a9a9a" stroke-width="0.8"/>
<text x="32.5" y="593.18" font-size="7.7" text-anchor="end" fill="#231f20">32</text>
<line x1="33.5" y1="612.15" x2="37.9" y2="612.15" stroke="#9a9a9a" stroke-width="0.8"/>
<text x="32.5" y="614.9" font-size="7.7" text-anchor="end" fill="#231f20">8</text>
<line x1="33.5" y1="633.88" x2="37.9" y2="633.88" stroke="#9a9a9a" stroke-width="0.8"/>
<text x="32.5" y="636.62" font-size="7.7" text-anchor="end" fill="#231f20">2</text>
<line x1="33.5" y1="655.6" x2="37.9" y2="655.6" stroke="#9a9a9a" stroke-width="0.8"/>
<text x="32.5" y="658.35" font-size="7.7" text-anchor="end" fill="#231f20">0.5</text>
<line x1="38.2" y1="668.8" x2="38.2" y2="672.4" stroke="#9a9a9a" stroke-width="0.8"/>
<text x="38.2" y="680.9" font-size="7.8" text-anchor="middle" fill="#231f20">0</text>
<line x1="64.2" y1="668.8" x2="64.2" y2="672.4" stroke="#9a9a9a" stroke-width="0.8"/>
<text x="64.2" y="680.9" font-size="7.8" text-anchor="middle" fill="#231f20">2</text>
<line x1="90.2" y1="668.8" x2="90.2" y2="672.4" stroke="#9a9a9a" stroke-width="0.8"/>
<text x="90.2" y="680.9" font-size="7.8" text-anchor="middle" fill="#231f20">4</text>
<line x1="116.2" y1="668.8" x2="116.2" y2="672.4" stroke="#9a9a9a" stroke-width="0.8"/>
<text x="116.2" y="680.9" font-size="7.8" text-anchor="middle" fill="#231f20">6</text>
<line x1="142.2" y1="668.8" x2="142.2" y2="672.4" stroke="#9a9a9a" stroke-width="0.8"/>
<text x="142.2" y="680.9" font-size="7.8" text-anchor="middle" fill="#231f20">8</text>
<line x1="168.2" y1="668.8" x2="168.2" y2="672.4" stroke="#9a9a9a" stroke-width="0.8"/>
<text x="168.2" y="680.9" font-size="7.8" text-anchor="middle" fill="#231f20">10</text>
<line x1="194.2" y1="668.8" x2="194.2" y2="672.4" stroke="#9a9a9a" stroke-width="0.8"/>
<text x="194.2" y="680.9" font-size="7.8" text-anchor="middle" fill="#231f20">12</text>
<line x1="220.2" y1="668.8" x2="220.2" y2="672.4" stroke="#9a9a9a" stroke-width="0.8"/>
<text x="220.2" y="680.9" font-size="7.8" text-anchor="middle" fill="#231f20">14</text>
<text x="12.9" y="618" font-size="9.55" text-anchor="middle" transform="rotate(-90 12.9 618)" fill="#231f20">Antibiotic (Log<tspan font-size="5.6" dy="-3.2">2</tspan><tspan dy="3.2">)</tspan></text>
<line x1="37.9" y1="612.15" x2="228.7" y2="612.15" stroke="#f6b899" stroke-width="1" stroke-dasharray="9 7.6"/>
<line x1="37.9" y1="633.88" x2="228.7" y2="633.88" stroke="#f8e08c" stroke-width="1" stroke-dasharray="9 7.6"/>
<polyline points="51.2,623.01 64.2,612.15 77.2,590.43 90.2,590.43 103.2,590.43 116.2,579.56 129.2,579.56 142.2,579.56 155.2,590.43 168.2,579.56 181.2,579.56 194.2,568.7 207.2,579.56 220.2,579.56" fill="none" stroke="#6e6e6e" stroke-width="0.6" stroke-linejoin="round"/>
<polyline points="51.2,633.88 64.2,623.01 77.2,612.15 90.2,612.15 103.2,612.15 116.2,612.15 129.2,601.29 142.2,601.29 155.2,601.29 168.2,612.15 181.2,601.29 194.2,601.29 207.2,601.29 220.2,601.29" fill="none" stroke="#6e6e6e" stroke-width="0.6" stroke-linejoin="round"/>
<rect x="48.75" y="620.56" width="4.9" height="4.9" fill="#dcdcdc" stroke="#808080" stroke-width="0.6"/>
<rect x="61.75" y="609.7" width="4.9" height="4.9" fill="#dcdcdc" stroke="#808080" stroke-width="0.6"/>
<rect x="74.75" y="587.98" width="4.9" height="4.9" fill="#dcdcdc" stroke="#808080" stroke-width="0.6"/>
<rect x="87.75" y="587.98" width="4.9" height="4.9" fill="#dcdcdc" stroke="#808080" stroke-width="0.6"/>
<rect x="100.75" y="587.98" width="4.9" height="4.9" fill="#dcdcdc" stroke="#808080" stroke-width="0.6"/>
<rect x="113.75" y="577.11" width="4.9" height="4.9" fill="#dcdcdc" stroke="#808080" stroke-width="0.6"/>
<rect x="126.75" y="577.11" width="4.9" height="4.9" fill="#dcdcdc" stroke="#808080" stroke-width="0.6"/>
<rect x="139.75" y="577.11" width="4.9" height="4.9" fill="#dcdcdc" stroke="#808080" stroke-width="0.6"/>
<rect x="152.75" y="587.98" width="4.9" height="4.9" fill="#dcdcdc" stroke="#808080" stroke-width="0.6"/>
<rect x="165.75" y="577.11" width="4.9" height="4.9" fill="#dcdcdc" stroke="#808080" stroke-width="0.6"/>
<rect x="178.75" y="577.11" width="4.9" height="4.9" fill="#dcdcdc" stroke="#808080" stroke-width="0.6"/>
<rect x="191.75" y="566.25" width="4.9" height="4.9" fill="#dcdcdc" stroke="#808080" stroke-width="0.6"/>
<rect x="204.75" y="577.11" width="4.9" height="4.9" fill="#dcdcdc" stroke="#808080" stroke-width="0.6"/>
<rect x="217.75" y="577.11" width="4.9" height="4.9" fill="#dcdcdc" stroke="#808080" stroke-width="0.6"/>
<circle cx="51.2" cy="633.88" r="2.65" fill="#1f6f97" stroke="#1a5578" stroke-width="0.4"/>
<circle cx="64.2" cy="623.01" r="2.65" fill="#1f6f97" stroke="#1a5578" stroke-width="0.4"/>
<circle cx="77.2" cy="612.15" r="2.65" fill="#1f6f97" stroke="#1a5578" stroke-width="0.4"/>
<circle cx="90.2" cy="612.15" r="2.65" fill="#1f6f97" stroke="#1a5578" stroke-width="0.4"/>
<circle cx="103.2" cy="612.15" r="2.65" fill="#1f6f97" stroke="#1a5578" stroke-width="0.4"/>
<circle cx="116.2" cy="612.15" r="2.65" fill="#1f6f97" stroke="#1a5578" stroke-width="0.4"/>
<circle cx="129.2" cy="601.29" r="2.65" fill="#1f6f97" stroke="#1a5578" stroke-width="0.4"/>
<circle cx="142.2" cy="601.29" r="2.65" fill="#1f6f97" stroke="#1a5578" stroke-width="0.4"/>
<circle cx="155.2" cy="601.29" r="2.65" fill="#1f6f97" stroke="#1a5578" stroke-width="0.4"/>
<circle cx="168.2" cy="612.15" r="2.65" fill="#1f6f97" stroke="#1a5578" stroke-width="0.4"/>
<circle cx="181.2" cy="601.29" r="2.65" fill="#1f6f97" stroke="#1a5578" stroke-width="0.4"/>
<circle cx="194.2" cy="601.29" r="2.65" fill="#1f6f97" stroke="#1a5578" stroke-width="0.4"/>
<circle cx="207.2" cy="601.29" r="2.65" fill="#1f6f97" stroke="#1a5578" stroke-width="0.4"/>
<circle cx="220.2" cy="601.29" r="2.65" fill="#1f6f97" stroke="#1a5578" stroke-width="0.4"/>
<line x1="141.9" y1="642.3" x2="166.4" y2="642.3" stroke="#6a6a6a" stroke-width="0.7"/>
<rect x="152.05" y="640.2" width="4.2" height="4.2" fill="#e2e2e2" stroke="#8a8a8a" stroke-width="0.6"/>
<line x1="141.9" y1="654.9" x2="166.4" y2="654.9" stroke="#c8c8c8" stroke-width="1.4"/>
<circle cx="154.15" cy="654.9" r="2.6" fill="#1f6f97" stroke="#1a5578" stroke-width="0.4"/>
<text x="169.6" y="645.5" font-size="8" text-anchor="start" fill="#231f20">Meropenem</text>
<text x="169.6" y="658.1" font-size="8" text-anchor="start" fill="#231f20">+P[5]a</text>
<text x="241.6" y="558.7" font-size="10.2" text-anchor="start" font-weight="bold" fill="#000" stroke="#000" stroke-width="0.15">i</text>
<line x1="261.7" y1="565.5" x2="261.7" y2="668.5" stroke="#9a9a9a" stroke-width="0.9"/>
<line x1="261.7" y1="668.5" x2="455" y2="668.5" stroke="#9a9a9a" stroke-width="0.9"/>
<line x1="257.3" y1="568.5" x2="261.7" y2="568.5" stroke="#9a9a9a" stroke-width="0.8"/>
<text x="256.3" y="571.25" font-size="7.7" text-anchor="end" fill="#231f20">128</text>
<line x1="257.3" y1="590.35" x2="261.7" y2="590.35" stroke="#9a9a9a" stroke-width="0.8"/>
<text x="256.3" y="593.1" font-size="7.7" text-anchor="end" fill="#231f20">32</text>
<line x1="257.3" y1="612.2" x2="261.7" y2="612.2" stroke="#9a9a9a" stroke-width="0.8"/>
<text x="256.3" y="614.95" font-size="7.7" text-anchor="end" fill="#231f20">8</text>
<line x1="257.3" y1="634.05" x2="261.7" y2="634.05" stroke="#9a9a9a" stroke-width="0.8"/>
<text x="256.3" y="636.8" font-size="7.7" text-anchor="end" fill="#231f20">2</text>
<line x1="257.3" y1="655.9" x2="261.7" y2="655.9" stroke="#9a9a9a" stroke-width="0.8"/>
<text x="256.3" y="658.65" font-size="7.7" text-anchor="end" fill="#231f20">0.5</text>
<line x1="262" y1="668.5" x2="262" y2="672.1" stroke="#9a9a9a" stroke-width="0.8"/>
<text x="262" y="680.6" font-size="7.8" text-anchor="middle" fill="#231f20">0</text>
<line x1="288" y1="668.5" x2="288" y2="672.1" stroke="#9a9a9a" stroke-width="0.8"/>
<text x="288" y="680.6" font-size="7.8" text-anchor="middle" fill="#231f20">2</text>
<line x1="314" y1="668.5" x2="314" y2="672.1" stroke="#9a9a9a" stroke-width="0.8"/>
<text x="314" y="680.6" font-size="7.8" text-anchor="middle" fill="#231f20">4</text>
<line x1="340" y1="668.5" x2="340" y2="672.1" stroke="#9a9a9a" stroke-width="0.8"/>
<text x="340" y="680.6" font-size="7.8" text-anchor="middle" fill="#231f20">6</text>
<line x1="366" y1="668.5" x2="366" y2="672.1" stroke="#9a9a9a" stroke-width="0.8"/>
<text x="366" y="680.6" font-size="7.8" text-anchor="middle" fill="#231f20">8</text>
<line x1="392" y1="668.5" x2="392" y2="672.1" stroke="#9a9a9a" stroke-width="0.8"/>
<text x="392" y="680.6" font-size="7.8" text-anchor="middle" fill="#231f20">10</text>
<line x1="418" y1="668.5" x2="418" y2="672.1" stroke="#9a9a9a" stroke-width="0.8"/>
<text x="418" y="680.6" font-size="7.8" text-anchor="middle" fill="#231f20">12</text>
<line x1="444" y1="668.5" x2="444" y2="672.1" stroke="#9a9a9a" stroke-width="0.8"/>
<text x="444" y="680.6" font-size="7.8" text-anchor="middle" fill="#231f20">14</text>
<line x1="261.7" y1="600.04" x2="452.5" y2="600.04" stroke="#f6b899" stroke-width="1" stroke-dasharray="9 7.6"/>
<line x1="261.7" y1="622.28" x2="452.5" y2="622.28" stroke="#f8e08c" stroke-width="1" stroke-dasharray="9 7.6"/>
<polyline points="275,634.05 288,644.98 301,644.98 314,634.05 327,623.12 340,623.12 353,612.2 366,612.2 379,612.2 392,612.2 405,612.2 418,590.35 431,590.35 444,579.42" fill="none" stroke="#6e6e6e" stroke-width="0.6" stroke-linejoin="round"/>
<polyline points="275,655.9 288,655.9 301,655.9 314,655.9 327,655.9 340,644.98 353,644.98 366,644.98 379,644.98 392,644.98 405,634.05 418,644.98 431,634.05 444,634.05" fill="none" stroke="#c4c4c4" stroke-width="1.3" stroke-linejoin="round"/>
<rect x="272.55" y="631.6" width="4.9" height="4.9" fill="#dcdcdc" stroke="#808080" stroke-width="0.6"/>
<rect x="285.55" y="642.52" width="4.9" height="4.9" fill="#dcdcdc" stroke="#808080" stroke-width="0.6"/>
<rect x="298.55" y="642.52" width="4.9" height="4.9" fill="#dcdcdc" stroke="#808080" stroke-width="0.6"/>
<rect x="311.55" y="631.6" width="4.9" height="4.9" fill="#dcdcdc" stroke="#808080" stroke-width="0.6"/>
<rect x="324.55" y="620.67" width="4.9" height="4.9" fill="#dcdcdc" stroke="#808080" stroke-width="0.6"/>
<rect x="337.55" y="620.67" width="4.9" height="4.9" fill="#dcdcdc" stroke="#808080" stroke-width="0.6"/>
<rect x="350.55" y="609.75" width="4.9" height="4.9" fill="#dcdcdc" stroke="#808080" stroke-width="0.6"/>
<rect x="363.55" y="609.75" width="4.9" height="4.9" fill="#dcdcdc" stroke="#808080" stroke-width="0.6"/>
<rect x="376.55" y="609.75" width="4.9" height="4.9" fill="#dcdcdc" stroke="#808080" stroke-width="0.6"/>
<rect x="389.55" y="609.75" width="4.9" height="4.9" fill="#dcdcdc" stroke="#808080" stroke-width="0.6"/>
<rect x="402.55" y="609.75" width="4.9" height="4.9" fill="#dcdcdc" stroke="#808080" stroke-width="0.6"/>
<rect x="415.55" y="587.9" width="4.9" height="4.9" fill="#dcdcdc" stroke="#808080" stroke-width="0.6"/>
<rect x="428.55" y="587.9" width="4.9" height="4.9" fill="#dcdcdc" stroke="#808080" stroke-width="0.6"/>
<rect x="441.55" y="576.97" width="4.9" height="4.9" fill="#dcdcdc" stroke="#808080" stroke-width="0.6"/>
<circle cx="275" cy="655.9" r="2.65" fill="#1f6f97" stroke="#1a5578" stroke-width="0.4"/>
<circle cx="288" cy="655.9" r="2.65" fill="#1f6f97" stroke="#1a5578" stroke-width="0.4"/>
<circle cx="301" cy="655.9" r="2.65" fill="#1f6f97" stroke="#1a5578" stroke-width="0.4"/>
<circle cx="314" cy="655.9" r="2.65" fill="#1f6f97" stroke="#1a5578" stroke-width="0.4"/>
<circle cx="327" cy="655.9" r="2.65" fill="#1f6f97" stroke="#1a5578" stroke-width="0.4"/>
<circle cx="340" cy="644.98" r="2.65" fill="#1f6f97" stroke="#1a5578" stroke-width="0.4"/>
<circle cx="353" cy="644.98" r="2.65" fill="#1f6f97" stroke="#1a5578" stroke-width="0.4"/>
<circle cx="366" cy="644.98" r="2.65" fill="#1f6f97" stroke="#1a5578" stroke-width="0.4"/>
<circle cx="379" cy="644.98" r="2.65" fill="#1f6f97" stroke="#1a5578" stroke-width="0.4"/>
<circle cx="392" cy="644.98" r="2.65" fill="#1f6f97" stroke="#1a5578" stroke-width="0.4"/>
<circle cx="405" cy="634.05" r="2.65" fill="#1f6f97" stroke="#1a5578" stroke-width="0.4"/>
<circle cx="418" cy="644.98" r="2.65" fill="#1f6f97" stroke="#1a5578" stroke-width="0.4"/>
<circle cx="431" cy="634.05" r="2.65" fill="#1f6f97" stroke="#1a5578" stroke-width="0.4"/>
<circle cx="444" cy="634.05" r="2.65" fill="#1f6f97" stroke="#1a5578" stroke-width="0.4"/>
<line x1="265.3" y1="571.9" x2="288.8" y2="571.9" stroke="#6a6a6a" stroke-width="0.7"/>
<rect x="274.95" y="569.8" width="4.2" height="4.2" fill="#e2e2e2" stroke="#8a8a8a" stroke-width="0.6"/>
<line x1="265.3" y1="582.2" x2="288.8" y2="582.2" stroke="#6a6a6a" stroke-width="0.7"/>
<circle cx="277.05" cy="582.2" r="2.6" fill="#1f6f97" stroke="#1a5578" stroke-width="0.4"/>
<text x="292" y="575.1" font-size="8" text-anchor="start" fill="#231f20">Tobramycin</text>
<text x="292" y="584.6" font-size="8" text-anchor="start" fill="#231f20">+ P[5]a</text>
<text x="137.2" y="694" font-size="9.6" text-anchor="middle" fill="#231f20">Time (d)</text>
<text x="356.7" y="696.6" font-size="9.6" text-anchor="middle" fill="#231f20">Time (d)</text>
<text x="467" y="435.2" font-size="10.2" text-anchor="start" font-weight="bold" fill="#000" stroke="#000" stroke-width="0.15">j</text>
<text x="569.4" y="438.1" font-size="8.5" text-anchor="middle" fill="#231f20" textLength="126.5" lengthAdjust="spacingAndGlyphs">Resistance doubling&#160;&#160;(T (d)/Log<tspan font-size="5.5" dy="-3">2</tspan><tspan dy="3">)</tspan></text>
<rect x="485.7" y="442.5" width="164.7" height="79.7" fill="none" stroke="#c8c8c8" stroke-width="0.8"/>
<line x1="485.7" y1="474.6" x2="650.4" y2="474.6" stroke="#cfcfcf" stroke-width="0.8"/>
<line x1="485.7" y1="490.7" x2="650.4" y2="490.7" stroke="#cfcfcf" stroke-width="0.8"/>
<line x1="485.7" y1="506.8" x2="650.4" y2="506.8" stroke="#cfcfcf" stroke-width="0.8"/>
<line x1="546.1" y1="442.5" x2="546.1" y2="522.2" stroke="#cfcfcf" stroke-width="0.8"/>
<line x1="601.6" y1="442.5" x2="601.6" y2="522.2" stroke="#cfcfcf" stroke-width="0.8"/>
<line x1="485.7" y1="458.6" x2="650.4" y2="458.6" stroke="#8a8a8a" stroke-width="1.3"/>
<text x="515.2" y="454.2" font-size="9.2" text-anchor="middle" fill="#231f20">Antibiotic</text>
<text x="573" y="454.2" font-size="9.2" text-anchor="middle" fill="#231f20">Stand-alone</text>
<text x="625.3" y="454.2" font-size="9.2" text-anchor="middle" fill="#231f20">Combined</text>
<text x="495.6" y="470.8" font-size="8.1" text-anchor="start" fill="#231f20">Aztreonam</text>
<text x="573.8" y="471.4" font-size="9.2" text-anchor="middle" fill="#231f20">2.2</text>
<text x="625.8" y="471.4" font-size="9.2" text-anchor="middle" fill="#231f20">4.7</text>
<text x="495.6" y="486.87" font-size="8.1" text-anchor="start" fill="#231f20">Cefepime</text>
<text x="573.8" y="487.47" font-size="9.2" text-anchor="middle" fill="#231f20">0.6</text>
<text x="625.8" y="487.47" font-size="9.2" text-anchor="middle" fill="#231f20">12.0</text>
<text x="495.6" y="502.94" font-size="8.1" text-anchor="start" fill="#231f20">Meropenem</text>
<text x="573.8" y="503.54" font-size="9.2" text-anchor="middle" fill="#231f20">3.3</text>
<text x="625.8" y="503.54" font-size="9.2" text-anchor="middle" fill="#231f20">3.7</text>
<text x="495.6" y="519.01" font-size="8.1" text-anchor="start" fill="#231f20">Tobramycin</text>
<text x="573.8" y="519.61" font-size="9.2" text-anchor="middle" fill="#231f20">2.8</text>
<text x="625.8" y="519.61" font-size="9.2" text-anchor="middle" fill="#231f20">6.5</text>
<text x="465.6" y="541.2" font-size="10.2" text-anchor="start" font-weight="bold" fill="#000" stroke="#000" stroke-width="0.15">k</text>
<path d="M525.75 591.4L525.75 609.7M524.25 591.4L524.25 609.7M530.55 591.4L530.55 609.7M529.05 591.4L529.05 609.7M535.35 591.4L535.35 609.7M533.85 591.4L533.85 609.7M540.15 591.4L540.15 609.7M538.65 591.4L538.65 609.7M544.95 591.4L544.95 609.7M543.45 591.4L543.45 609.7M549.75 591.4L549.75 609.7M548.25 591.4L548.25 609.7M554.55 591.4L554.55 609.7M553.05 591.4L553.05 609.7M559.35 591.4L559.35 609.7M557.85 591.4L557.85 609.7M564.15 591.4L564.15 609.7M562.65 591.4L562.65 609.7M568.95 591.4L568.95 609.7M567.45 591.4L567.45 609.7M573.75 591.4L573.75 609.7M572.25 591.4L572.25 609.7M578.55 591.4L578.55 609.7M577.05 591.4L577.05 609.7M583.35 591.4L583.35 609.7M581.85 591.4L581.85 609.7M588.15 591.4L588.15 609.7M586.65 591.4L586.65 609.7M592.95 591.4L592.95 609.7M591.45 591.4L591.45 609.7M597.75 591.4L597.75 609.7M596.25 591.4L596.25 609.7M602.55 591.4L602.55 609.7M601.05 591.4L601.05 609.7M607.35 591.4L607.35 609.7M605.85 591.4L605.85 609.7M612.15 591.4L612.15 609.7M610.65 591.4L610.65 609.7M616.95 591.4L616.95 609.7M615.45 591.4L615.45 609.7M621.75 591.4L621.75 609.7M620.25 591.4L620.25 609.7M626.55 591.4L626.55 609.7M625.05 591.4L625.05 609.7M631.35 591.4L631.35 609.7M629.85 591.4L629.85 609.7M636.15 591.4L636.15 609.7M634.65 591.4L634.65 609.7M519.72 591.59L521.28 609.83M518.23 591.72L519.78 609.95M513.74 592.3L516.83 610.33M512.26 592.55L515.35 610.59M507.83 593.5L512.44 611.21M506.38 593.88L510.99 611.59M502.05 595.21L508.15 612.46M500.63 595.71L506.73 612.96M496.43 597.4L503.97 614.07M495.06 598.02L502.6 614.69M491.02 600.06L499.95 616.03M489.71 600.79L498.64 616.76M485.85 603.16L496.1 618.32M484.61 604L494.86 619.16M480.97 606.7L492.47 620.93M479.8 607.64L491.3 621.88M476.4 610.63L489.07 623.84M475.32 611.67L487.99 624.88" stroke="#b0b0b0" stroke-width="0.5" fill="none"/>
<circle cx="525" cy="589.4" r="2.15" fill="#fdf0dc" stroke="#bfb4a2" stroke-width="0.5"/>
<circle cx="525" cy="611.7" r="2.15" fill="#fdf0dc" stroke="#bfb4a2" stroke-width="0.5"/>
<circle cx="529.8" cy="589.4" r="2.15" fill="#fdf0dc" stroke="#bfb4a2" stroke-width="0.5"/>
<circle cx="529.8" cy="611.7" r="2.15" fill="#fdf0dc" stroke="#bfb4a2" stroke-width="0.5"/>
<circle cx="534.6" cy="589.4" r="2.15" fill="#fdf0dc" stroke="#bfb4a2" stroke-width="0.5"/>
<circle cx="534.6" cy="611.7" r="2.15" fill="#fdf0dc" stroke="#bfb4a2" stroke-width="0.5"/>
<circle cx="539.4" cy="589.4" r="2.15" fill="#fdf0dc" stroke="#bfb4a2" stroke-width="0.5"/>
<circle cx="539.4" cy="611.7" r="2.15" fill="#fdf0dc" stroke="#bfb4a2" stroke-width="0.5"/>
<circle cx="544.2" cy="589.4" r="2.15" fill="#fdf0dc" stroke="#bfb4a2" stroke-width="0.5"/>
<circle cx="544.2" cy="611.7" r="2.15" fill="#fdf0dc" stroke="#bfb4a2" stroke-width="0.5"/>
<circle cx="549" cy="589.4" r="2.15" fill="#fdf0dc" stroke="#bfb4a2" stroke-width="0.5"/>
<circle cx="549" cy="611.7" r="2.15" fill="#fdf0dc" stroke="#bfb4a2" stroke-width="0.5"/>
<circle cx="553.8" cy="589.4" r="2.15" fill="#fdf0dc" stroke="#bfb4a2" stroke-width="0.5"/>
<circle cx="553.8" cy="611.7" r="2.15" fill="#fdf0dc" stroke="#bfb4a2" stroke-width="0.5"/>
<circle cx="558.6" cy="589.4" r="2.15" fill="#fdf0dc" stroke="#bfb4a2" stroke-width="0.5"/>
<circle cx="558.6" cy="611.7" r="2.15" fill="#fdf0dc" stroke="#bfb4a2" stroke-width="0.5"/>
<circle cx="563.4" cy="589.4" r="2.15" fill="#fdf0dc" stroke="#bfb4a2" stroke-width="0.5"/>
<circle cx="563.4" cy="611.7" r="2.15" fill="#fdf0dc" stroke="#bfb4a2" stroke-width="0.5"/>
<circle cx="568.2" cy="589.4" r="2.15" fill="#fdf0dc" stroke="#bfb4a2" stroke-width="0.5"/>
<circle cx="568.2" cy="611.7" r="2.15" fill="#fdf0dc" stroke="#bfb4a2" stroke-width="0.5"/>
<circle cx="573" cy="589.4" r="2.15" fill="#fdf0dc" stroke="#bfb4a2" stroke-width="0.5"/>
<circle cx="573" cy="611.7" r="2.15" fill="#fdf0dc" stroke="#bfb4a2" stroke-width="0.5"/>
<circle cx="577.8" cy="589.4" r="2.15" fill="#fdf0dc" stroke="#bfb4a2" stroke-width="0.5"/>
<circle cx="577.8" cy="611.7" r="2.15" fill="#fdf0dc" stroke="#bfb4a2" stroke-width="0.5"/>
<circle cx="582.6" cy="589.4" r="2.15" fill="#fdf0dc" stroke="#bfb4a2" stroke-width="0.5"/>
<circle cx="582.6" cy="611.7" r="2.15" fill="#fdf0dc" stroke="#bfb4a2" stroke-width="0.5"/>
<circle cx="587.4" cy="589.4" r="2.15" fill="#fdf0dc" stroke="#bfb4a2" stroke-width="0.5"/>
<circle cx="587.4" cy="611.7" r="2.15" fill="#fdf0dc" stroke="#bfb4a2" stroke-width="0.5"/>
<circle cx="592.2" cy="589.4" r="2.15" fill="#fdf0dc" stroke="#bfb4a2" stroke-width="0.5"/>
<circle cx="592.2" cy="611.7" r="2.15" fill="#fdf0dc" stroke="#bfb4a2" stroke-width="0.5"/>
<circle cx="597" cy="589.4" r="2.15" fill="#fdf0dc" stroke="#bfb4a2" stroke-width="0.5"/>
<circle cx="597" cy="611.7" r="2.15" fill="#fdf0dc" stroke="#bfb4a2" stroke-width="0.5"/>
<circle cx="601.8" cy="589.4" r="2.15" fill="#fdf0dc" stroke="#bfb4a2" stroke-width="0.5"/>
<circle cx="601.8" cy="611.7" r="2.15" fill="#fdf0dc" stroke="#bfb4a2" stroke-width="0.5"/>
<circle cx="606.6" cy="589.4" r="2.15" fill="#fdf0dc" stroke="#bfb4a2" stroke-width="0.5"/>
<circle cx="606.6" cy="611.7" r="2.15" fill="#fdf0dc" stroke="#bfb4a2" stroke-width="0.5"/>
<circle cx="611.4" cy="589.4" r="2.15" fill="#fdf0dc" stroke="#bfb4a2" stroke-width="0.5"/>
<circle cx="611.4" cy="611.7" r="2.15" fill="#fdf0dc" stroke="#bfb4a2" stroke-width="0.5"/>
<circle cx="616.2" cy="589.4" r="2.15" fill="#fdf0dc" stroke="#bfb4a2" stroke-width="0.5"/>
<circle cx="616.2" cy="611.7" r="2.15" fill="#fdf0dc" stroke="#bfb4a2" stroke-width="0.5"/>
<circle cx="621" cy="589.4" r="2.15" fill="#fdf0dc" stroke="#bfb4a2" stroke-width="0.5"/>
<circle cx="621" cy="611.7" r="2.15" fill="#fdf0dc" stroke="#bfb4a2" stroke-width="0.5"/>
<circle cx="625.8" cy="589.4" r="2.15" fill="#fdf0dc" stroke="#bfb4a2" stroke-width="0.5"/>
<circle cx="625.8" cy="611.7" r="2.15" fill="#fdf0dc" stroke="#bfb4a2" stroke-width="0.5"/>
<circle cx="630.6" cy="589.4" r="2.15" fill="#fdf0dc" stroke="#bfb4a2" stroke-width="0.5"/>
<circle cx="630.6" cy="611.7" r="2.15" fill="#fdf0dc" stroke="#bfb4a2" stroke-width="0.5"/>
<circle cx="635.4" cy="589.4" r="2.15" fill="#fdf0dc" stroke="#bfb4a2" stroke-width="0.5"/>
<circle cx="635.4" cy="611.7" r="2.15" fill="#fdf0dc" stroke="#bfb4a2" stroke-width="0.5"/>
<circle cx="518.81" cy="589.66" r="2.15" fill="#fdf0dc" stroke="#bfb4a2" stroke-width="0.5"/>
<circle cx="520.7" cy="611.88" r="2.15" fill="#fdf0dc" stroke="#bfb4a2" stroke-width="0.5"/>
<circle cx="512.66" cy="590.45" r="2.15" fill="#fdf0dc" stroke="#bfb4a2" stroke-width="0.5"/>
<circle cx="516.43" cy="612.43" r="2.15" fill="#fdf0dc" stroke="#bfb4a2" stroke-width="0.5"/>
<circle cx="506.6" cy="591.76" r="2.15" fill="#fdf0dc" stroke="#bfb4a2" stroke-width="0.5"/>
<circle cx="512.22" cy="613.34" r="2.15" fill="#fdf0dc" stroke="#bfb4a2" stroke-width="0.5"/>
<circle cx="500.67" cy="593.57" r="2.15" fill="#fdf0dc" stroke="#bfb4a2" stroke-width="0.5"/>
<circle cx="508.11" cy="614.6" r="2.15" fill="#fdf0dc" stroke="#bfb4a2" stroke-width="0.5"/>
<circle cx="494.92" cy="595.88" r="2.15" fill="#fdf0dc" stroke="#bfb4a2" stroke-width="0.5"/>
<circle cx="504.11" cy="616.2" r="2.15" fill="#fdf0dc" stroke="#bfb4a2" stroke-width="0.5"/>
<circle cx="489.39" cy="598.68" r="2.15" fill="#fdf0dc" stroke="#bfb4a2" stroke-width="0.5"/>
<circle cx="500.27" cy="618.14" r="2.15" fill="#fdf0dc" stroke="#bfb4a2" stroke-width="0.5"/>
<circle cx="484.11" cy="601.93" r="2.15" fill="#fdf0dc" stroke="#bfb4a2" stroke-width="0.5"/>
<circle cx="496.6" cy="620.4" r="2.15" fill="#fdf0dc" stroke="#bfb4a2" stroke-width="0.5"/>
<circle cx="479.13" cy="605.61" r="2.15" fill="#fdf0dc" stroke="#bfb4a2" stroke-width="0.5"/>
<circle cx="493.14" cy="622.96" r="2.15" fill="#fdf0dc" stroke="#bfb4a2" stroke-width="0.5"/>
<circle cx="474.48" cy="609.71" r="2.15" fill="#fdf0dc" stroke="#bfb4a2" stroke-width="0.5"/>
<circle cx="489.91" cy="625.8" r="2.15" fill="#fdf0dc" stroke="#bfb4a2" stroke-width="0.5"/>
<path d="M537.75 639.6L537.75 658.2M536.25 639.6L536.25 658.2M542.55 639.6L542.55 658.2M541.05 639.6L541.05 658.2M547.35 639.6L547.35 658.2M545.85 639.6L545.85 658.2M552.15 639.6L552.15 658.2M550.65 639.6L550.65 658.2M556.95 639.6L556.95 658.2M555.45 639.6L555.45 658.2M561.75 639.6L561.75 658.2M560.25 639.6L560.25 658.2M566.55 639.6L566.55 658.2M565.05 639.6L565.05 658.2M571.35 639.6L571.35 658.2M569.85 639.6L569.85 658.2M576.15 639.6L576.15 658.2M574.65 639.6L574.65 658.2M580.95 639.6L580.95 658.2M579.45 639.6L579.45 658.2M585.75 639.6L585.75 658.2M584.25 639.6L584.25 658.2M590.55 639.6L590.55 658.2M589.05 639.6L589.05 658.2M595.35 639.6L595.35 658.2M593.85 639.6L593.85 658.2M600.15 639.6L600.15 658.2M598.65 639.6L598.65 658.2M604.95 639.6L604.95 658.2M603.45 639.6L603.45 658.2M609.75 639.6L609.75 658.2M608.25 639.6L608.25 658.2M531.72 639.79L533.28 658.32M530.23 639.92L531.78 658.45M525.73 640.48L528.83 658.82M524.25 640.73L527.35 659.07M519.82 641.68L524.45 659.69M518.37 642.05L522.99 660.06M514.03 643.36L520.15 660.92M512.61 643.85L518.73 661.42M508.4 645.52L515.96 662.51M507.03 646.13L514.59 663.12M502.97 648.15L511.93 664.45M501.65 648.87L510.61 665.17M497.78 651.22L508.07 666.71M496.53 652.05L506.82 667.54M492.86 654.71L504.42 669.29M491.69 655.64L503.24 670.22M488.26 658.6L500.99 672.16M487.16 659.63L499.9 673.19M483.99 662.87L497.82 675.31M482.99 663.98L496.81 676.43M615.76 639.93L614.14 658.46M614.27 639.8L612.65 658.33M621.73 640.78L618.5 659.1M620.25 640.52L617.02 658.84M627.59 642.15L622.78 660.11M626.15 641.76L621.33 659.73M633.32 644.02L626.95 661.5M631.91 643.51L625.54 660.99M638.86 646.39L630.99 663.25M637.5 645.76L629.63 662.61M644.17 649.23L634.86 665.34M642.87 648.48L633.57 664.59M649.21 652.52L638.54 667.76M647.99 651.66L637.31 666.9M653.95 656.25L641.99 670.49M652.8 655.28L640.84 669.52M658.35 660.37L645.19 673.51M657.29 659.3L644.13 672.45M662.36 664.85L648.11 676.8M661.4 663.7L647.15 675.65M665.98 669.67L650.73 680.33M665.12 668.44L649.87 679.1" stroke="#b0b0b0" stroke-width="0.5" fill="none"/>
<circle cx="537" cy="637.6" r="2.15" fill="#fdf0dc" stroke="#bfb4a2" stroke-width="0.5"/>
<circle cx="537" cy="660.2" r="2.15" fill="#fdf0dc" stroke="#bfb4a2" stroke-width="0.5"/>
<circle cx="541.8" cy="637.6" r="2.15" fill="#fdf0dc" stroke="#bfb4a2" stroke-width="0.5"/>
<circle cx="541.8" cy="660.2" r="2.15" fill="#fdf0dc" stroke="#bfb4a2" stroke-width="0.5"/>
<circle cx="546.6" cy="637.6" r="2.15" fill="#fdf0dc" stroke="#bfb4a2" stroke-width="0.5"/>
<circle cx="546.6" cy="660.2" r="2.15" fill="#fdf0dc" stroke="#bfb4a2" stroke-width="0.5"/>
<circle cx="551.4" cy="637.6" r="2.15" fill="#fdf0dc" stroke="#bfb4a2" stroke-width="0.5"/>
<circle cx="551.4" cy="660.2" r="2.15" fill="#fdf0dc" stroke="#bfb4a2" stroke-width="0.5"/>
<circle cx="556.2" cy="637.6" r="2.15" fill="#fdf0dc" stroke="#bfb4a2" stroke-width="0.5"/>
<circle cx="556.2" cy="660.2" r="2.15" fill="#fdf0dc" stroke="#bfb4a2" stroke-width="0.5"/>
<circle cx="561" cy="637.6" r="2.15" fill="#fdf0dc" stroke="#bfb4a2" stroke-width="0.5"/>
<circle cx="561" cy="660.2" r="2.15" fill="#fdf0dc" stroke="#bfb4a2" stroke-width="0.5"/>
<circle cx="565.8" cy="637.6" r="2.15" fill="#fdf0dc" stroke="#bfb4a2" stroke-width="0.5"/>
<circle cx="565.8" cy="660.2" r="2.15" fill="#fdf0dc" stroke="#bfb4a2" stroke-width="0.5"/>
<circle cx="570.6" cy="637.6" r="2.15" fill="#fdf0dc" stroke="#bfb4a2" stroke-width="0.5"/>
<circle cx="570.6" cy="660.2" r="2.15" fill="#fdf0dc" stroke="#bfb4a2" stroke-width="0.5"/>
<circle cx="575.4" cy="637.6" r="2.15" fill="#fdf0dc" stroke="#bfb4a2" stroke-width="0.5"/>
<circle cx="575.4" cy="660.2" r="2.15" fill="#fdf0dc" stroke="#bfb4a2" stroke-width="0.5"/>
<circle cx="580.2" cy="637.6" r="2.15" fill="#fdf0dc" stroke="#bfb4a2" stroke-width="0.5"/>
<circle cx="580.2" cy="660.2" r="2.15" fill="#fdf0dc" stroke="#bfb4a2" stroke-width="0.5"/>
<circle cx="585" cy="637.6" r="2.15" fill="#fdf0dc" stroke="#bfb4a2" stroke-width="0.5"/>
<circle cx="585" cy="660.2" r="2.15" fill="#fdf0dc" stroke="#bfb4a2" stroke-width="0.5"/>
<circle cx="589.8" cy="637.6" r="2.15" fill="#fdf0dc" stroke="#bfb4a2" stroke-width="0.5"/>
<circle cx="589.8" cy="660.2" r="2.15" fill="#fdf0dc" stroke="#bfb4a2" stroke-width="0.5"/>
<circle cx="594.6" cy="637.6" r="2.15" fill="#fdf0dc" stroke="#bfb4a2" stroke-width="0.5"/>
<circle cx="594.6" cy="660.2" r="2.15" fill="#fdf0dc" stroke="#bfb4a2" stroke-width="0.5"/>
<circle cx="599.4" cy="637.6" r="2.15" fill="#fdf0dc" stroke="#bfb4a2" stroke-width="0.5"/>
<circle cx="599.4" cy="660.2" r="2.15" fill="#fdf0dc" stroke="#bfb4a2" stroke-width="0.5"/>
<circle cx="604.2" cy="637.6" r="2.15" fill="#fdf0dc" stroke="#bfb4a2" stroke-width="0.5"/>
<circle cx="604.2" cy="660.2" r="2.15" fill="#fdf0dc" stroke="#bfb4a2" stroke-width="0.5"/>
<circle cx="609" cy="637.6" r="2.15" fill="#fdf0dc" stroke="#bfb4a2" stroke-width="0.5"/>
<circle cx="609" cy="660.2" r="2.15" fill="#fdf0dc" stroke="#bfb4a2" stroke-width="0.5"/>
<circle cx="530.81" cy="637.86" r="2.15" fill="#fdf0dc" stroke="#bfb4a2" stroke-width="0.5"/>
<circle cx="532.7" cy="660.38" r="2.15" fill="#fdf0dc" stroke="#bfb4a2" stroke-width="0.5"/>
<circle cx="524.66" cy="638.64" r="2.15" fill="#fdf0dc" stroke="#bfb4a2" stroke-width="0.5"/>
<circle cx="528.43" cy="660.92" r="2.15" fill="#fdf0dc" stroke="#bfb4a2" stroke-width="0.5"/>
<circle cx="518.6" cy="639.93" r="2.15" fill="#fdf0dc" stroke="#bfb4a2" stroke-width="0.5"/>
<circle cx="524.22" cy="661.82" r="2.15" fill="#fdf0dc" stroke="#bfb4a2" stroke-width="0.5"/>
<circle cx="512.66" cy="641.72" r="2.15" fill="#fdf0dc" stroke="#bfb4a2" stroke-width="0.5"/>
<circle cx="520.09" cy="663.06" r="2.15" fill="#fdf0dc" stroke="#bfb4a2" stroke-width="0.5"/>
<circle cx="506.9" cy="644" r="2.15" fill="#fdf0dc" stroke="#bfb4a2" stroke-width="0.5"/>
<circle cx="516.09" cy="664.64" r="2.15" fill="#fdf0dc" stroke="#bfb4a2" stroke-width="0.5"/>
<circle cx="501.35" cy="646.76" r="2.15" fill="#fdf0dc" stroke="#bfb4a2" stroke-width="0.5"/>
<circle cx="512.24" cy="666.56" r="2.15" fill="#fdf0dc" stroke="#bfb4a2" stroke-width="0.5"/>
<circle cx="496.05" cy="649.97" r="2.15" fill="#fdf0dc" stroke="#bfb4a2" stroke-width="0.5"/>
<circle cx="508.55" cy="668.79" r="2.15" fill="#fdf0dc" stroke="#bfb4a2" stroke-width="0.5"/>
<circle cx="491.03" cy="653.61" r="2.15" fill="#fdf0dc" stroke="#bfb4a2" stroke-width="0.5"/>
<circle cx="505.07" cy="671.32" r="2.15" fill="#fdf0dc" stroke="#bfb4a2" stroke-width="0.5"/>
<circle cx="486.34" cy="657.66" r="2.15" fill="#fdf0dc" stroke="#bfb4a2" stroke-width="0.5"/>
<circle cx="501.81" cy="674.13" r="2.15" fill="#fdf0dc" stroke="#bfb4a2" stroke-width="0.5"/>
<circle cx="482" cy="662.09" r="2.15" fill="#fdf0dc" stroke="#bfb4a2" stroke-width="0.5"/>
<circle cx="498.8" cy="677.21" r="2.15" fill="#fdf0dc" stroke="#bfb4a2" stroke-width="0.5"/>
<circle cx="615.19" cy="637.87" r="2.15" fill="#fdf0dc" stroke="#bfb4a2" stroke-width="0.5"/>
<circle cx="613.22" cy="660.38" r="2.15" fill="#fdf0dc" stroke="#bfb4a2" stroke-width="0.5"/>
<circle cx="621.34" cy="638.68" r="2.15" fill="#fdf0dc" stroke="#bfb4a2" stroke-width="0.5"/>
<circle cx="617.41" cy="660.94" r="2.15" fill="#fdf0dc" stroke="#bfb4a2" stroke-width="0.5"/>
<circle cx="627.39" cy="640.02" r="2.15" fill="#fdf0dc" stroke="#bfb4a2" stroke-width="0.5"/>
<circle cx="621.53" cy="661.85" r="2.15" fill="#fdf0dc" stroke="#bfb4a2" stroke-width="0.5"/>
<circle cx="633.3" cy="641.89" r="2.15" fill="#fdf0dc" stroke="#bfb4a2" stroke-width="0.5"/>
<circle cx="625.56" cy="663.12" r="2.15" fill="#fdf0dc" stroke="#bfb4a2" stroke-width="0.5"/>
<circle cx="639.02" cy="644.26" r="2.15" fill="#fdf0dc" stroke="#bfb4a2" stroke-width="0.5"/>
<circle cx="629.47" cy="664.74" r="2.15" fill="#fdf0dc" stroke="#bfb4a2" stroke-width="0.5"/>
<circle cx="644.52" cy="647.12" r="2.15" fill="#fdf0dc" stroke="#bfb4a2" stroke-width="0.5"/>
<circle cx="633.21" cy="666.69" r="2.15" fill="#fdf0dc" stroke="#bfb4a2" stroke-width="0.5"/>
<circle cx="649.75" cy="650.46" r="2.15" fill="#fdf0dc" stroke="#bfb4a2" stroke-width="0.5"/>
<circle cx="636.78" cy="668.96" r="2.15" fill="#fdf0dc" stroke="#bfb4a2" stroke-width="0.5"/>
<circle cx="654.66" cy="654.23" r="2.15" fill="#fdf0dc" stroke="#bfb4a2" stroke-width="0.5"/>
<circle cx="640.13" cy="671.54" r="2.15" fill="#fdf0dc" stroke="#bfb4a2" stroke-width="0.5"/>
<circle cx="659.23" cy="658.42" r="2.15" fill="#fdf0dc" stroke="#bfb4a2" stroke-width="0.5"/>
<circle cx="643.24" cy="674.39" r="2.15" fill="#fdf0dc" stroke="#bfb4a2" stroke-width="0.5"/>
<circle cx="663.42" cy="662.99" r="2.15" fill="#fdf0dc" stroke="#bfb4a2" stroke-width="0.5"/>
<circle cx="646.09" cy="677.51" r="2.15" fill="#fdf0dc" stroke="#bfb4a2" stroke-width="0.5"/>
<circle cx="667.19" cy="667.91" r="2.15" fill="#fdf0dc" stroke="#bfb4a2" stroke-width="0.5"/>
<circle cx="648.66" cy="680.86" r="2.15" fill="#fdf0dc" stroke="#bfb4a2" stroke-width="0.5"/>
<path d="M641.66 592.54L637.8 610.73M639.9 592.17L636.04 610.36" stroke="#b0b0b0" stroke-width="0.5" fill="none"/>
<circle cx="641.2" cy="590.4" r="2.15" fill="#fdf0dc" stroke="#bfb4a2" stroke-width="0.5"/>
<circle cx="636.5" cy="612.5" r="2.15" fill="#fdf0dc" stroke="#bfb4a2" stroke-width="0.5"/>
<path d="M647.94 594.87L643 612.91M646.2 594.39L641.26 612.43" stroke="#b0b0b0" stroke-width="0.5" fill="none"/>
<circle cx="647.6" cy="592.7" r="2.15" fill="#fdf0dc" stroke="#bfb4a2" stroke-width="0.5"/>
<circle cx="641.6" cy="614.6" r="2.15" fill="#fdf0dc" stroke="#bfb4a2" stroke-width="0.5"/>
<path d="M654.19 598.19L647.08 615.98M652.52 597.52L645.41 615.31" stroke="#b0b0b0" stroke-width="0.5" fill="none"/>
<circle cx="654.1" cy="596" r="2.15" fill="#fdf0dc" stroke="#bfb4a2" stroke-width="0.5"/>
<circle cx="645.5" cy="617.5" r="2.15" fill="#fdf0dc" stroke="#bfb4a2" stroke-width="0.5"/>
<path d="M660.25 602.39L651.24 619.16M658.66 601.54L649.65 618.31" stroke="#b0b0b0" stroke-width="0.5" fill="none"/>
<circle cx="660.4" cy="600.2" r="2.15" fill="#fdf0dc" stroke="#bfb4a2" stroke-width="0.5"/>
<circle cx="649.5" cy="620.5" r="2.15" fill="#fdf0dc" stroke="#bfb4a2" stroke-width="0.5"/>
<path d="M666.35 609.09L653.5 623.6M665 607.9L652.15 622.41" stroke="#b0b0b0" stroke-width="0.5" fill="none"/>
<circle cx="667" cy="607" r="2.15" fill="#fdf0dc" stroke="#bfb4a2" stroke-width="0.5"/>
<circle cx="651.5" cy="624.5" r="2.15" fill="#fdf0dc" stroke="#bfb4a2" stroke-width="0.5"/>
<path d="M670.81 613.08L657.51 627.63M669.49 611.87L656.19 626.42" stroke="#b0b0b0" stroke-width="0.5" fill="none"/>
<circle cx="671.5" cy="611" r="2.15" fill="#fdf0dc" stroke="#bfb4a2" stroke-width="0.5"/>
<circle cx="655.5" cy="628.5" r="2.15" fill="#fdf0dc" stroke="#bfb4a2" stroke-width="0.5"/>
<path d="M675.25 617.56L662.04 631.19M673.96 616.31L660.75 629.94" stroke="#b0b0b0" stroke-width="0.5" fill="none"/>
<circle cx="676" cy="615.5" r="2.15" fill="#fdf0dc" stroke="#bfb4a2" stroke-width="0.5"/>
<circle cx="660" cy="632" r="2.15" fill="#fdf0dc" stroke="#bfb4a2" stroke-width="0.5"/>
<path d="M679.72 622.05L666.55 635.22M678.45 620.78L665.28 633.95" stroke="#b0b0b0" stroke-width="0.5" fill="none"/>
<circle cx="680.5" cy="620" r="2.15" fill="#fdf0dc" stroke="#bfb4a2" stroke-width="0.5"/>
<circle cx="664.5" cy="636" r="2.15" fill="#fdf0dc" stroke="#bfb4a2" stroke-width="0.5"/>
<line x1="575.4" y1="532.5" x2="575.4" y2="681.6" stroke="#000" stroke-width="1.3"/>
<text x="571.8" y="541.3" font-size="9" text-anchor="end" fill="#231f20">PBS</text>
<text x="578" y="541.3" font-size="9" text-anchor="start" fill="#231f20">P[5]a</text>
<text x="604.6" y="551" font-size="8.3" text-anchor="start" fill="#231f20">Intracellular antibiotics</text>
<text x="477.5" y="578.8" font-size="7.9" text-anchor="start" fill="#231f20">LPS</text>
<text x="543" y="609.2" font-size="8" text-anchor="middle" fill="#231f20">Outer membrane</text>
<text x="541.1" y="633.7" font-size="8" text-anchor="middle" fill="#231f20">Periplasmic space</text>
<text x="544.6" y="656.3" font-size="8" text-anchor="middle" fill="#231f20">Inner membrane</text>
<path d="M479 607L484 620M481 606L488 618M483 609L490 620M478 612L481 622M485 612L491 616M502 597L507 609M504 597L510 606M506 600L508 611M545 596L539 600M550 594L547 602M553 597L553 604M555 596L557 603M591 598L590 606M594 600L596 608M615 592L613 602M618 592L618 604M620 596L622 604M655 603L647 612M657 606L651 615M668 620L660 628M670 622L664 632M673 624L668 633" stroke="#23208a" stroke-width="0.9" fill="none"/>
<circle cx="472.3" cy="581.2" r="1.7" fill="#24218a" stroke="#14115a" stroke-width="0.5"/>
<circle cx="472.8" cy="585.4" r="1.7" fill="#24218a" stroke="#14115a" stroke-width="0.5"/>
<circle cx="474.6" cy="589.3" r="1.7" fill="#24218a" stroke="#14115a" stroke-width="0.5"/>
<circle cx="476.4" cy="593.5" r="1.7" fill="#24218a" stroke="#14115a" stroke-width="0.5"/>
<circle cx="477.5" cy="597.6" r="1.7" fill="#24218a" stroke="#14115a" stroke-width="0.5"/>
<circle cx="479" cy="601.6" r="1.7" fill="#24218a" stroke="#14115a" stroke-width="0.5"/>
<circle cx="480.4" cy="605.8" r="1.7" fill="#24218a" stroke="#14115a" stroke-width="0.5"/>
<circle cx="481.4" cy="610" r="1.7" fill="#24218a" stroke="#14115a" stroke-width="0.5"/>
<circle cx="482.2" cy="614.2" r="1.7" fill="#24218a" stroke="#14115a" stroke-width="0.5"/>
<circle cx="482.8" cy="618.4" r="1.7" fill="#24218a" stroke="#14115a" stroke-width="0.5"/>
<circle cx="498.5" cy="578.6" r="1.7" fill="#24218a" stroke="#14115a" stroke-width="0.5"/>
<circle cx="497.8" cy="583" r="1.7" fill="#24218a" stroke="#14115a" stroke-width="0.5"/>
<circle cx="498.4" cy="587.4" r="1.7" fill="#24218a" stroke="#14115a" stroke-width="0.5"/>
<circle cx="496.6" cy="591.8" r="1.7" fill="#24218a" stroke="#14115a" stroke-width="0.5"/>
<circle cx="492.4" cy="592.4" r="1.7" fill="#24218a" stroke="#14115a" stroke-width="0.5"/>
<circle cx="488.6" cy="591.6" r="1.7" fill="#24218a" stroke="#14115a" stroke-width="0.5"/>
<circle cx="500.6" cy="594.4" r="1.7" fill="#24218a" stroke="#14115a" stroke-width="0.5"/>
<circle cx="503.2" cy="597.8" r="1.7" fill="#24218a" stroke="#14115a" stroke-width="0.5"/>
<circle cx="505.4" cy="601.6" r="1.7" fill="#24218a" stroke="#14115a" stroke-width="0.5"/>
<circle cx="557.4" cy="575" r="1.7" fill="#24218a" stroke="#14115a" stroke-width="0.5"/>
<circle cx="554.6" cy="578.6" r="1.7" fill="#24218a" stroke="#14115a" stroke-width="0.5"/>
<circle cx="552.8" cy="583" r="1.7" fill="#24218a" stroke="#14115a" stroke-width="0.5"/>
<circle cx="551.8" cy="587.2" r="1.7" fill="#24218a" stroke="#14115a" stroke-width="0.5"/>
<circle cx="552.2" cy="591.4" r="1.7" fill="#24218a" stroke="#14115a" stroke-width="0.5"/>
<circle cx="553.2" cy="595.6" r="1.7" fill="#24218a" stroke="#14115a" stroke-width="0.5"/>
<circle cx="553.5" cy="599.2" r="1.7" fill="#24218a" stroke="#14115a" stroke-width="0.5"/>
<circle cx="538.4" cy="598.4" r="1.7" fill="#24218a" stroke="#14115a" stroke-width="0.5"/>
<circle cx="541.5" cy="597.3" r="1.7" fill="#24218a" stroke="#14115a" stroke-width="0.5"/>
<circle cx="598.2" cy="574.7" r="1.7" fill="#24218a" stroke="#14115a" stroke-width="0.5"/>
<circle cx="595.2" cy="578" r="1.7" fill="#24218a" stroke="#14115a" stroke-width="0.5"/>
<circle cx="593.5" cy="582" r="1.7" fill="#24218a" stroke="#14115a" stroke-width="0.5"/>
<circle cx="589.5" cy="584" r="1.7" fill="#24218a" stroke="#14115a" stroke-width="0.5"/>
<circle cx="585.5" cy="581.8" r="1.7" fill="#24218a" stroke="#14115a" stroke-width="0.5"/>
<circle cx="594" cy="587" r="1.7" fill="#24218a" stroke="#14115a" stroke-width="0.5"/>
<circle cx="594" cy="591.2" r="1.7" fill="#24218a" stroke="#14115a" stroke-width="0.5"/>
<circle cx="594.2" cy="595.4" r="1.7" fill="#24218a" stroke="#14115a" stroke-width="0.5"/>
<circle cx="594.4" cy="599.6" r="1.7" fill="#24218a" stroke="#14115a" stroke-width="0.5"/>
<circle cx="594" cy="603.8" r="1.7" fill="#24218a" stroke="#14115a" stroke-width="0.5"/>
<circle cx="620.5" cy="562.4" r="1.7" fill="#24218a" stroke="#14115a" stroke-width="0.5"/>
<circle cx="619" cy="566.6" r="1.7" fill="#24218a" stroke="#14115a" stroke-width="0.5"/>
<circle cx="618.4" cy="570.8" r="1.7" fill="#24218a" stroke="#14115a" stroke-width="0.5"/>
<circle cx="618" cy="575" r="1.7" fill="#24218a" stroke="#14115a" stroke-width="0.5"/>
<circle cx="617.6" cy="579.2" r="1.7" fill="#24218a" stroke="#14115a" stroke-width="0.5"/>
<circle cx="617.4" cy="583.4" r="1.7" fill="#24218a" stroke="#14115a" stroke-width="0.5"/>
<circle cx="616.8" cy="587.6" r="1.7" fill="#24218a" stroke="#14115a" stroke-width="0.5"/>
<circle cx="621.4" cy="593" r="1.7" fill="#24218a" stroke="#14115a" stroke-width="0.5"/>
<circle cx="623.4" cy="597.2" r="1.7" fill="#24218a" stroke="#14115a" stroke-width="0.5"/>
<circle cx="669" cy="579" r="1.7" fill="#24218a" stroke="#14115a" stroke-width="0.5"/>
<circle cx="666.5" cy="582.5" r="1.7" fill="#24218a" stroke="#14115a" stroke-width="0.5"/>
<circle cx="664" cy="586" r="1.7" fill="#24218a" stroke="#14115a" stroke-width="0.5"/>
<circle cx="661.5" cy="589.5" r="1.7" fill="#24218a" stroke="#14115a" stroke-width="0.5"/>
<circle cx="659" cy="593" r="1.7" fill="#24218a" stroke="#14115a" stroke-width="0.5"/>
<circle cx="656.5" cy="596.5" r="1.7" fill="#24218a" stroke="#14115a" stroke-width="0.5"/>
<circle cx="654.6" cy="600" r="1.7" fill="#24218a" stroke="#14115a" stroke-width="0.5"/>
<circle cx="650" cy="605" r="1.7" fill="#24218a" stroke="#14115a" stroke-width="0.5"/>
<circle cx="646.5" cy="607.5" r="1.7" fill="#24218a" stroke="#14115a" stroke-width="0.5"/>
<circle cx="652" cy="608.8" r="1.7" fill="#24218a" stroke="#14115a" stroke-width="0.5"/>
<circle cx="655.5" cy="612" r="1.7" fill="#24218a" stroke="#14115a" stroke-width="0.5"/>
<circle cx="683" cy="600" r="1.7" fill="#24218a" stroke="#14115a" stroke-width="0.5"/>
<circle cx="680.5" cy="603.6" r="1.7" fill="#24218a" stroke="#14115a" stroke-width="0.5"/>
<circle cx="678" cy="607.2" r="1.7" fill="#24218a" stroke="#14115a" stroke-width="0.5"/>
<circle cx="676" cy="611" r="1.7" fill="#24218a" stroke="#14115a" stroke-width="0.5"/>
<circle cx="674" cy="614.8" r="1.7" fill="#24218a" stroke="#14115a" stroke-width="0.5"/>
<circle cx="672" cy="618.6" r="1.7" fill="#24218a" stroke="#14115a" stroke-width="0.5"/>
<circle cx="670" cy="622.4" r="1.7" fill="#24218a" stroke="#14115a" stroke-width="0.5"/>
<circle cx="667" cy="626" r="1.7" fill="#24218a" stroke="#14115a" stroke-width="0.5"/>
<circle cx="672.6" cy="622.5" r="1.7" fill="#24218a" stroke="#14115a" stroke-width="0.5"/>
<circle cx="676.4" cy="626" r="1.7" fill="#24218a" stroke="#14115a" stroke-width="0.5"/>
<circle cx="678.5" cy="629.5" r="1.7" fill="#24218a" stroke="#14115a" stroke-width="0.5"/>
<g transform="translate(607 571.6) rotate(-35) scale(1.45)">
<path d="M4.83 1.29L7.73 2.07M1.71 4.7L2.74 7.52M-2.11 4.53L-3.38 7.25M-4.83 1.29L-7.73 2.07M-4.53 -2.11L-7.25 -3.38M-1.29 -4.83L-2.07 -7.73M2.5 -4.33L4 -6.93M4.83 -1.29L7.73 -2.07" stroke="#f0b445" stroke-width="0.9" fill="none"/>
<path d="M-4 -4.2L2.6 -4.2A1.9 4.2 0 0 1 2.6 4.2L-4 4.2A1.9 4.2 0 0 1 -4 -4.2Z" fill="url(#cg)" stroke="#3d7fae" stroke-width="0.4"/>
<ellipse cx="2.6" cy="0" rx="1.9" ry="4.2" fill="#c3daee" stroke="#3d84b9" stroke-width="0.5"/>
</g>
<g transform="translate(651.5 582) rotate(-35) scale(1.45)">
<path d="M4.83 1.29L7.73 2.07M1.71 4.7L2.74 7.52M-2.11 4.53L-3.38 7.25M-4.83 1.29L-7.73 2.07M-4.53 -2.11L-7.25 -3.38M-1.29 -4.83L-2.07 -7.73M2.5 -4.33L4 -6.93M4.83 -1.29L7.73 -2.07" stroke="#f0b445" stroke-width="0.9" fill="none"/>
<path d="M-4 -4.2L2.6 -4.2A1.9 4.2 0 0 1 2.6 4.2L-4 4.2A1.9 4.2 0 0 1 -4 -4.2Z" fill="url(#cg)" stroke="#3d7fae" stroke-width="0.4"/>
<ellipse cx="2.6" cy="0" rx="1.9" ry="4.2" fill="#c3daee" stroke="#3d84b9" stroke-width="0.5"/>
</g>
<g transform="translate(672.9 595.9) rotate(-35) scale(1.45)">
<path d="M4.83 1.29L7.73 2.07M1.71 4.7L2.74 7.52M-2.11 4.53L-3.38 7.25M-4.83 1.29L-7.73 2.07M-4.53 -2.11L-7.25 -3.38M-1.29 -4.83L-2.07 -7.73M2.5 -4.33L4 -6.93M4.83 -1.29L7.73 -2.07" stroke="#f0b445" stroke-width="0.9" fill="none"/>
<path d="M-4 -4.2L2.6 -4.2A1.9 4.2 0 0 1 2.6 4.2L-4 4.2A1.9 4.2 0 0 1 -4 -4.2Z" fill="url(#cg)" stroke="#3d7fae" stroke-width="0.4"/>
<ellipse cx="2.6" cy="0" rx="1.9" ry="4.2" fill="#c3daee" stroke="#3d84b9" stroke-width="0.5"/>
</g>
<g transform="translate(500.5 547.5) rotate(-50) scale(1.15)">
<path d="M0 -1.6H1.9A1.6 1.6 0 0 1 1.9 1.6H0Z" fill="#5b8fd0" stroke="#555" stroke-width="0.35"/>
<path d="M0 -1.6H-1.9A1.6 1.6 0 0 0 -1.9 1.6H0Z" fill="#fff" stroke="#555" stroke-width="0.35"/>
</g>
<g transform="translate(507.5 563.6) rotate(0) scale(1.15)">
<path d="M0 -1.6H1.9A1.6 1.6 0 0 1 1.9 1.6H0Z" fill="#6e8a3e" stroke="#555" stroke-width="0.35"/>
<path d="M0 -1.6H-1.9A1.6 1.6 0 0 0 -1.9 1.6H0Z" fill="#fff" stroke="#555" stroke-width="0.35"/>
</g>
<g transform="translate(553.2 549.6) rotate(-90) scale(1.15)">
<path d="M0 -1.6H1.9A1.6 1.6 0 0 1 1.9 1.6H0Z" fill="#e7b27a" stroke="#555" stroke-width="0.35"/>
<path d="M0 -1.6H-1.9A1.6 1.6 0 0 0 -1.9 1.6H0Z" fill="#fff" stroke="#555" stroke-width="0.35"/>
</g>
<g transform="translate(556.2 562.3) rotate(-45) scale(1.15)">
<path d="M0 -1.6H1.9A1.6 1.6 0 0 1 1.9 1.6H0Z" fill="#7a1f55" stroke="#555" stroke-width="0.35"/>
<path d="M0 -1.6H-1.9A1.6 1.6 0 0 0 -1.9 1.6H0Z" fill="#fff" stroke="#555" stroke-width="0.35"/>
</g>
<g transform="translate(655.2 557.5) rotate(-50) scale(1.15)">
<path d="M0 -1.6H1.9A1.6 1.6 0 0 1 1.9 1.6H0Z" fill="#5b8fd0" stroke="#555" stroke-width="0.35"/>
<path d="M0 -1.6H-1.9A1.6 1.6 0 0 0 -1.9 1.6H0Z" fill="#fff" stroke="#555" stroke-width="0.35"/>
</g>
<g transform="translate(667.4 556.8) rotate(-90) scale(1.15)">
<path d="M0 -1.6H1.9A1.6 1.6 0 0 1 1.9 1.6H0Z" fill="#e7b27a" stroke="#555" stroke-width="0.35"/>
<path d="M0 -1.6H-1.9A1.6 1.6 0 0 0 -1.9 1.6H0Z" fill="#fff" stroke="#555" stroke-width="0.35"/>
</g>
<g transform="translate(660 569.5) rotate(0) scale(1.15)">
<path d="M0 -1.6H1.9A1.6 1.6 0 0 1 1.9 1.6H0Z" fill="#6e8a3e" stroke="#555" stroke-width="0.35"/>
<path d="M0 -1.6H-1.9A1.6 1.6 0 0 0 -1.9 1.6H0Z" fill="#fff" stroke="#555" stroke-width="0.35"/>
</g>
<g transform="translate(671 566) rotate(-45) scale(1.15)">
<path d="M0 -1.6H1.9A1.6 1.6 0 0 1 1.9 1.6H0Z" fill="#7a1f55" stroke="#555" stroke-width="0.35"/>
<path d="M0 -1.6H-1.9A1.6 1.6 0 0 0 -1.9 1.6H0Z" fill="#fff" stroke="#555" stroke-width="0.35"/>
</g>
<g transform="translate(613.8 623.4) rotate(-90) scale(1.15)">
<path d="M0 -1.6H1.9A1.6 1.6 0 0 1 1.9 1.6H0Z" fill="#e7b27a" stroke="#555" stroke-width="0.35"/>
<path d="M0 -1.6H-1.9A1.6 1.6 0 0 0 -1.9 1.6H0Z" fill="#fff" stroke="#555" stroke-width="0.35"/>
</g>
<g transform="translate(624.3 631.5) rotate(-45) scale(1.15)">
<path d="M0 -1.6H1.9A1.6 1.6 0 0 1 1.9 1.6H0Z" fill="#7a1f55" stroke="#555" stroke-width="0.35"/>
<path d="M0 -1.6H-1.9A1.6 1.6 0 0 0 -1.9 1.6H0Z" fill="#fff" stroke="#555" stroke-width="0.35"/>
</g>
<g transform="translate(617.7 650.2) rotate(-50) scale(1.15)">
<path d="M0 -1.6H1.9A1.6 1.6 0 0 1 1.9 1.6H0Z" fill="#5b8fd0" stroke="#555" stroke-width="0.35"/>
<path d="M0 -1.6H-1.9A1.6 1.6 0 0 0 -1.9 1.6H0Z" fill="#fff" stroke="#555" stroke-width="0.35"/>
</g>
<g transform="translate(624 670.8) rotate(0) scale(1.15)">
<path d="M0 -1.6H1.9A1.6 1.6 0 0 1 1.9 1.6H0Z" fill="#6e8a3e" stroke="#555" stroke-width="0.35"/>
<path d="M0 -1.6H-1.9A1.6 1.6 0 0 0 -1.9 1.6H0Z" fill="#fff" stroke="#555" stroke-width="0.35"/>
</g>
<g transform="translate(628 593) rotate(-45) scale(1.15)">
<path d="M0 -1.6H1.9A1.6 1.6 0 0 1 1.9 1.6H0Z" fill="#5b8fd0" stroke="#555" stroke-width="0.35"/>
<path d="M0 -1.6H-1.9A1.6 1.6 0 0 0 -1.9 1.6H0Z" fill="#fff" stroke="#555" stroke-width="0.35"/>
</g>
<path d="M553 564 Q537 602 524.5 569" fill="none" stroke="#6f6f6f" stroke-width="1.3"/>
<polygon points="521.2,561.5 520.5,570.2 527.5,567.5" fill="#6f6f6f"/>
<path d="M650 566 Q627 590 624.8 617" fill="none" stroke="#6f6f6f" stroke-width="1.3"/>
<polygon points="624.5,623.5 620.6,615.8 628.6,616.3" fill="#6f6f6f"/>
</svg></body></html>
